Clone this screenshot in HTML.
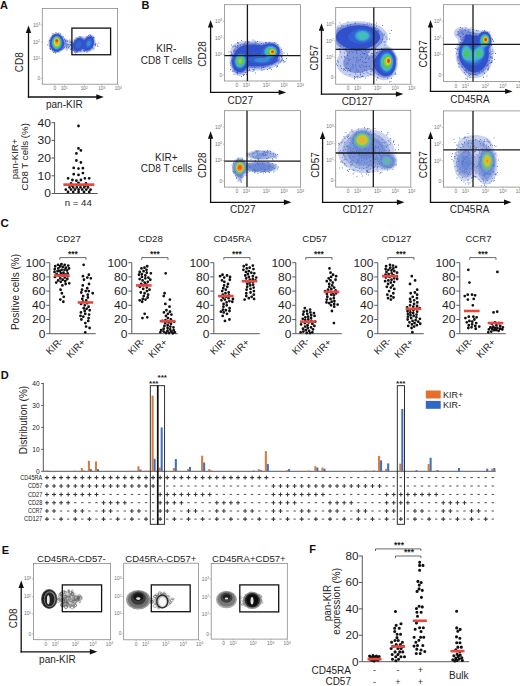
<!DOCTYPE html>
<html><head><meta charset="utf-8"><style>html,body{margin:0;padding:0;background:#fff;width:520px;height:686px;overflow:hidden;font-family:"Liberation Sans",sans-serif;}svg{display:block;}</style></head>
<body>
<svg width="520" height="686" viewBox="0 0 520 686" font-family="Liberation Sans, sans-serif">
<defs><filter id="bl30" x="-20%" y="-20%" width="140%" height="140%"><feGaussianBlur stdDeviation="0.3"/></filter><filter id="bl45" x="-20%" y="-20%" width="140%" height="140%"><feGaussianBlur stdDeviation="0.45"/></filter><filter id="bl60" x="-20%" y="-20%" width="140%" height="140%"><feGaussianBlur stdDeviation="0.6"/></filter><filter id="bl80" x="-20%" y="-20%" width="140%" height="140%"><feGaussianBlur stdDeviation="0.8"/></filter></defs>
<rect width="520" height="686" fill="#fff"/>
<text x="0.00" y="8.90" font-size="11" text-anchor="start" fill="#111" font-weight="bold">A</text>
<text x="141.50" y="8.90" font-size="11" text-anchor="start" fill="#111" font-weight="bold">B</text>
<text x="0.60" y="226.80" font-size="11.6" text-anchor="start" fill="#111" font-weight="bold">C</text>
<text x="0.80" y="378.90" font-size="11" text-anchor="start" fill="#111" font-weight="bold">D</text>
<text x="1.80" y="553.50" font-size="11" text-anchor="start" fill="#111" font-weight="bold">E</text>
<text x="309.30" y="553.00" font-size="11" text-anchor="start" fill="#111" font-weight="bold">F</text>
<rect x="42.30" y="8.50" width="75.30" height="75.70" fill="none" stroke="#8a8a8a" stroke-width="0.8"/>
<line x1="40.80" y1="25.00" x2="42.30" y2="25.00" stroke="#999" stroke-width="0.6"/>
<text x="40.10" y="26.60" font-size="4.8" text-anchor="end" fill="#707070">10<tspan font-size="3.36" dy="-1.6">3</tspan></text>
<line x1="40.80" y1="42.00" x2="42.30" y2="42.00" stroke="#999" stroke-width="0.6"/>
<text x="40.10" y="43.60" font-size="4.8" text-anchor="end" fill="#707070">10<tspan font-size="3.36" dy="-1.6">2</tspan></text>
<line x1="40.80" y1="58.50" x2="42.30" y2="58.50" stroke="#999" stroke-width="0.6"/>
<text x="40.10" y="60.10" font-size="4.8" text-anchor="end" fill="#707070">10<tspan font-size="3.36" dy="-1.6">1</tspan></text>
<line x1="40.80" y1="78.70" x2="42.30" y2="78.70" stroke="#999" stroke-width="0.6"/>
<text x="40.10" y="80.30" font-size="4.8" text-anchor="end" fill="#707070">0</text>
<line x1="54.80" y1="84.20" x2="54.80" y2="85.70" stroke="#999" stroke-width="0.6"/>
<text x="54.80" y="90.40" font-size="4.8" text-anchor="middle" fill="#707070">0</text>
<line x1="64.30" y1="84.20" x2="64.30" y2="85.70" stroke="#999" stroke-width="0.6"/>
<text x="64.30" y="90.40" font-size="4.8" text-anchor="middle" fill="#707070">10<tspan font-size="3.36" dy="-1.6">1</tspan></text>
<line x1="84.30" y1="84.20" x2="84.30" y2="85.70" stroke="#999" stroke-width="0.6"/>
<text x="84.30" y="90.40" font-size="4.8" text-anchor="middle" fill="#707070">10<tspan font-size="3.36" dy="-1.6">2</tspan></text>
<line x1="101.80" y1="84.20" x2="101.80" y2="85.70" stroke="#999" stroke-width="0.6"/>
<text x="101.80" y="90.40" font-size="4.8" text-anchor="middle" fill="#707070">10<tspan font-size="3.36" dy="-1.6">3</tspan></text>
<line x1="118.30" y1="84.20" x2="118.30" y2="85.70" stroke="#999" stroke-width="0.6"/>
<text x="118.30" y="90.40" font-size="4.8" text-anchor="middle" fill="#707070">10<tspan font-size="3.36" dy="-1.6">4</tspan></text>
<line x1="47.73" y1="84.20" x2="47.73" y2="85.00" stroke="#bbb" stroke-width="0.4"/>
<line x1="53.16" y1="84.20" x2="53.16" y2="85.00" stroke="#bbb" stroke-width="0.4"/>
<line x1="58.59" y1="84.20" x2="58.59" y2="85.00" stroke="#bbb" stroke-width="0.4"/>
<line x1="64.01" y1="84.20" x2="64.01" y2="85.00" stroke="#bbb" stroke-width="0.4"/>
<line x1="69.44" y1="84.20" x2="69.44" y2="85.00" stroke="#bbb" stroke-width="0.4"/>
<line x1="74.87" y1="84.20" x2="74.87" y2="85.00" stroke="#bbb" stroke-width="0.4"/>
<line x1="80.30" y1="84.20" x2="80.30" y2="85.00" stroke="#bbb" stroke-width="0.4"/>
<line x1="85.73" y1="84.20" x2="85.73" y2="85.00" stroke="#bbb" stroke-width="0.4"/>
<line x1="91.16" y1="84.20" x2="91.16" y2="85.00" stroke="#bbb" stroke-width="0.4"/>
<line x1="96.59" y1="84.20" x2="96.59" y2="85.00" stroke="#bbb" stroke-width="0.4"/>
<line x1="102.01" y1="84.20" x2="102.01" y2="85.00" stroke="#bbb" stroke-width="0.4"/>
<line x1="107.44" y1="84.20" x2="107.44" y2="85.00" stroke="#bbb" stroke-width="0.4"/>
<line x1="112.87" y1="84.20" x2="112.87" y2="85.00" stroke="#bbb" stroke-width="0.4"/>
<g filter="url(#bl45)"><path d="M78.5 53.1L76.0 53.5L74.0 52.7L72.9 51.5L71.8 50.0L70.0 49.3L68.0 49.5L66.0 49.4L64.0 49.6L62.5 50.6L61.0 51.7L59.5 52.5L57.5 53.0L55.5 52.9L53.5 52.2L52.0 51.2L50.8 50.0L49.7 48.5L49.0 47.0L48.3 45.0L48.1 42.5L48.5 40.3L49.1 38.5L50.0 36.9L51.1 35.5L52.5 34.2L54.0 33.3L56.0 32.7L58.5 32.9L60.1 33.5L61.6 34.5L63.0 35.9L64.0 37.2L65.0 38.7L66.5 39.7L68.5 40.2L70.5 40.6L72.5 40.5L74.0 39.2L75.4 38.0L76.8 37.0L78.5 36.2L80.5 35.9L82.5 36.2L84.5 36.5L86.5 36.1L88.0 35.4L90.0 34.7L92.4 35.0L93.6 36.0L94.5 37.5L95.2 39.5L95.7 41.5L96.1 43.5L96.0 45.6L95.2 47.5L94.0 49.0L92.8 50.0L91.3 51.0L89.5 51.9L87.6 52.5L85.5 52.6L83.5 52.4L81.0 52.4L79.0 53.0Z" fill="#c5cfee" fill-rule="evenodd"/><path d="M58.0 52.1L57.0 52.2L56.0 52.1L55.4 52.0L54.5 51.7L54.0 51.5L53.2 51.0L52.6 50.5L52.0 50.0L51.6 49.5L51.2 49.0L50.8 48.5L50.5 47.9L50.1 47.0L49.9 46.5L49.6 45.5L49.5 45.0L49.3 44.0L49.2 43.0L49.3 42.0L49.4 41.0L49.5 40.5L49.8 39.5L50.0 39.0L50.4 38.0L50.7 37.5L51.0 37.0L51.5 36.3L52.0 35.7L52.5 35.2L53.0 34.8L53.5 34.5L54.5 34.0L55.0 33.8L56.0 33.6L57.0 33.5L58.0 33.6L59.0 33.9L59.5 34.1L60.2 34.5L60.9 35.0L61.4 35.5L61.9 36.0L62.3 36.5L62.7 37.0L63.0 37.5L63.5 38.4L63.8 39.0L64.0 39.5L64.5 40.5L64.8 41.0L65.2 41.5L65.7 42.0L66.4 42.5L67.0 42.9L67.5 43.3L68.0 44.0L68.2 44.5L68.0 45.0L67.5 45.7L67.0 46.1L66.4 46.5L65.5 46.8L65.0 47.0L64.2 47.5L63.6 48.0L63.1 48.5L62.6 49.0L62.2 49.5L61.7 50.0L61.1 50.5L60.5 51.0L60.0 51.3L59.5 51.6L58.5 51.9L58.0 52.1ZM78.5 52.1L77.5 52.4L76.5 52.4L75.5 52.2L75.0 52.0L74.3 51.5L73.8 51.0L73.4 50.5L73.0 49.8L72.6 49.0L72.3 48.5L72.0 47.7L71.6 47.0L71.3 46.5L70.8 46.0L70.1 45.5L69.5 45.1L69.4 44.5L70.0 44.3L71.0 44.0L71.5 43.8L72.0 43.4L72.5 42.8L73.0 42.2L73.5 41.6L73.9 41.0L74.3 40.5L74.7 40.0L75.2 39.5L75.7 39.0L76.3 38.5L77.0 38.0L77.5 37.7L78.0 37.5L79.0 37.2L80.0 37.1L81.0 37.1L82.0 37.4L82.5 37.6L83.5 38.0L84.0 38.1L85.0 38.0L85.5 37.8L86.0 37.5L86.8 37.0L87.5 36.6L88.0 36.3L88.7 36.0L89.5 35.7L90.5 35.6L91.5 35.7L92.1 36.0L92.8 36.5L93.2 37.0L93.6 37.5L94.0 38.5L94.2 39.0L94.4 40.0L94.5 40.6L94.6 41.5L94.6 42.5L94.5 43.5L94.5 44.0L94.3 45.0L94.0 45.7L93.7 46.5L93.4 47.0L93.0 47.6L92.5 48.3L92.0 48.9L91.5 49.3L91.0 49.8L90.5 50.1L89.9 50.5L89.0 51.0L88.5 51.2L87.5 51.4L86.5 51.4L85.5 51.3L84.5 51.1L84.0 50.9L83.0 50.7L82.0 50.7L81.1 51.0L80.5 51.3L79.9 51.5L79.0 51.9L78.5 52.1Z" fill="#7f93db" fill-rule="evenodd"/><path d="M59.0 51.0L58.0 51.4L57.0 51.5L56.0 51.4L55.0 51.2L54.5 51.0L53.7 50.5L53.0 50.0L52.5 49.5L52.0 49.0L51.6 48.5L51.3 48.0L51.0 47.4L50.6 46.5L50.4 46.0L50.2 45.0L50.0 44.0L50.0 43.5L50.0 42.5L50.0 41.9L50.1 41.0L50.3 40.0L50.5 39.5L50.9 38.5L51.1 38.0L51.5 37.4L52.0 36.7L52.5 36.1L53.0 35.7L53.5 35.3L54.0 34.9L55.0 34.5L55.5 34.3L56.5 34.2L57.5 34.2L58.5 34.4L59.0 34.6L59.7 35.0L60.4 35.5L61.0 36.0L61.5 36.5L61.9 37.0L62.2 37.5L62.5 38.0L63.0 39.0L63.2 39.5L63.5 40.4L63.7 41.0L63.9 42.0L64.0 42.5L64.1 43.5L64.0 44.5L63.9 45.0L63.6 46.0L63.4 46.5L63.0 47.1L62.5 47.9L62.1 48.5L61.7 49.0L61.2 49.5L60.7 50.0L60.0 50.5L59.5 50.8L59.0 51.0ZM78.5 51.1L77.5 51.4L76.5 51.4L75.5 51.1L75.0 50.8L74.5 50.4L74.0 49.7L73.6 49.0L73.4 48.5L73.1 47.5L73.0 46.6L73.0 46.0L73.0 45.5L73.2 44.5L73.5 43.6L73.8 43.0L74.0 42.5L74.5 41.7L75.0 41.0L75.4 40.5L75.8 40.0L76.4 39.5L77.0 39.0L77.5 38.7L78.0 38.5L79.0 38.1L80.0 38.1L81.0 38.2L81.7 38.5L82.5 39.0L83.0 39.3L83.5 39.7L84.5 39.7L85.0 39.4L85.5 39.0L86.1 38.5L86.7 38.0L87.4 37.5L88.0 37.1L88.5 36.9L89.5 36.5L90.0 36.4L91.0 36.5L91.5 36.7L92.1 37.0L92.6 37.5L93.0 38.1L93.4 39.0L93.6 39.5L93.8 40.5L93.9 41.5L93.8 42.5L93.7 43.5L93.5 44.4L93.3 45.0L93.0 45.8L92.6 46.5L92.3 47.0L92.0 47.5L91.5 48.1L91.0 48.6L90.5 49.1L89.9 49.5L89.0 50.0L88.5 50.2L87.5 50.4L86.5 50.4L85.5 50.2L85.0 49.9L84.3 49.5L83.6 49.0L83.0 48.8L82.2 49.0L81.5 49.4L81.0 49.8L80.5 50.1L79.9 50.5L79.0 50.9L78.5 51.1Z" fill="#3050cc" fill-rule="evenodd"/><path d="M57.5 50.1L56.5 50.1L55.7 50.0L55.0 49.8L54.5 49.5L53.8 49.0L53.2 48.5L52.8 48.0L52.4 47.5L52.0 46.7L51.7 46.0L51.5 45.5L51.3 44.5L51.1 43.5L51.1 42.5L51.2 41.5L51.4 40.5L51.6 40.0L51.9 39.0L52.2 38.5L52.5 38.0L53.0 37.3L53.5 36.8L54.0 36.4L54.5 36.0L55.5 35.5L56.0 35.4L57.0 35.3L58.0 35.5L58.5 35.7L59.1 36.0L59.8 36.5L60.3 37.0L60.8 37.5L61.1 38.0L61.5 38.7L61.9 39.5L62.1 40.0L62.4 41.0L62.5 41.9L62.6 42.5L62.6 43.5L62.5 44.1L62.3 45.0L62.0 46.0L61.8 46.5L61.5 47.0L61.0 47.8L60.5 48.4L60.0 48.9L59.5 49.3L59.0 49.6L58.0 50.0L57.5 50.1ZM88.5 48.1L87.5 48.2L86.7 48.0L86.0 47.5L85.6 47.0L85.4 46.5L85.2 45.5L85.1 44.5L85.2 43.5L85.5 42.5L85.7 42.0L86.0 41.4L86.5 40.6L87.0 40.0L87.5 39.5L88.0 39.1L88.5 38.9L89.5 38.5L90.5 38.6L91.1 39.0L91.6 39.5L92.0 40.3L92.2 41.0L92.3 42.0L92.2 43.0L92.0 43.9L91.8 44.5L91.5 45.2L91.0 46.0L90.7 46.5L90.2 47.0L89.6 47.5L89.0 47.9L88.5 48.1ZM78.5 48.5L77.5 48.7L76.8 48.5L76.1 48.0L75.7 47.5L75.5 47.0L75.3 46.0L75.4 45.0L75.5 44.4L75.8 43.5L76.1 43.0L76.5 42.4L77.0 41.8L77.5 41.4L78.2 41.0L79.0 40.8L80.0 40.9L80.5 41.2L81.0 41.8L81.3 42.5L81.5 43.5L81.4 44.5L81.2 45.5L81.0 46.0L80.5 46.9L80.0 47.5L79.5 48.0L79.0 48.3L78.5 48.5Z" fill="#3064d4" fill-rule="evenodd"/><path d="M58.5 49.0L57.5 49.3L56.5 49.4L55.5 49.2L55.0 49.0L54.3 48.5L53.7 48.0L53.2 47.5L52.9 47.0L52.5 46.3L52.2 45.5L52.0 44.9L51.8 44.0L51.7 43.0L51.8 42.0L51.9 41.0L52.0 40.5L52.4 39.5L52.6 39.0L53.0 38.4L53.5 37.7L54.0 37.2L54.5 36.7L55.0 36.4L56.0 36.0L56.5 35.9L57.5 36.0L58.0 36.1L58.8 36.5L59.4 37.0L59.9 37.5L60.3 38.0L60.7 38.5L61.0 39.1L61.4 40.0L61.6 40.5L61.8 41.5L61.9 42.5L61.9 43.5L61.8 44.5L61.5 45.4L61.3 46.0L61.0 46.6L60.5 47.3L60.0 47.9L59.5 48.4L59.0 48.8L58.5 49.0ZM88.5 46.1L87.6 46.0L87.1 45.5L86.8 45.0L86.7 44.0L86.9 43.0L87.1 42.5L87.5 41.8L88.0 41.2L88.5 40.9L89.5 40.8L90.0 41.0L90.5 41.7L90.7 42.5L90.6 43.5L90.5 44.0L90.0 44.9L89.5 45.5L89.0 45.9L88.5 46.1Z" fill="#3a8ad8" fill-rule="evenodd"/><path d="M58.0 48.7L57.0 48.9L56.0 48.8L55.2 48.5L54.5 48.1L54.0 47.6L53.5 47.1L53.1 46.5L52.8 46.0L52.5 45.1L52.3 44.5L52.2 43.5L52.1 42.5L52.2 41.5L52.5 40.5L52.7 40.0L53.0 39.3L53.4 38.5L53.8 38.0L54.2 37.5L54.8 37.0L55.5 36.6L56.0 36.4L57.0 36.3L57.9 36.5L58.5 36.8L59.0 37.1L59.5 37.6L60.0 38.2L60.5 39.0L60.7 39.5L61.0 40.1L61.3 41.0L61.4 42.0L61.5 43.0L61.4 44.0L61.2 45.0L61.0 45.5L60.5 46.5L60.2 47.0L59.8 47.5L59.2 48.0L58.5 48.4L58.0 48.7Z" fill="#3fb0dc" fill-rule="evenodd"/><path d="M58.0 48.1L57.0 48.4L56.0 48.3L55.3 48.0L54.5 47.5L54.0 47.0L53.6 46.5L53.3 46.0L53.0 45.3L52.7 44.5L52.6 43.5L52.5 42.5L52.7 41.5L52.9 40.5L53.1 40.0L53.5 39.1L53.8 38.5L54.2 38.0L54.7 37.5L55.4 37.0L56.0 36.7L57.0 36.6L58.0 36.9L58.5 37.2L59.0 37.6L59.5 38.1L60.0 38.9L60.3 39.5L60.5 40.0L60.9 41.0L61.0 41.7L61.1 42.5L61.1 43.5L61.0 44.0L60.7 45.0L60.5 45.6L60.0 46.5L59.6 47.0L59.1 47.5L58.5 47.9L58.0 48.1Z" fill="#45c0b0" fill-rule="evenodd"/><path d="M58.0 47.6L57.0 47.8L56.0 47.7L55.4 47.5L54.7 47.0L54.2 46.5L53.8 46.0L53.5 45.4L53.2 44.5L53.0 43.7L52.9 43.0L53.0 42.0L53.1 41.5L53.3 40.5L53.5 40.0L53.9 39.0L54.2 38.5L54.6 38.0L55.2 37.5L56.0 37.1L56.5 37.0L57.1 37.0L58.0 37.3L58.5 37.6L59.0 38.0L59.5 38.7L59.9 39.5L60.1 40.0L60.4 41.0L60.6 41.5L60.7 42.5L60.7 43.5L60.5 44.4L60.3 45.0L60.0 45.7L59.5 46.4L59.0 47.0L58.5 47.3L58.0 47.6Z" fill="#4cc46a" fill-rule="evenodd"/><path d="M57.0 47.0L56.4 47.0L55.5 46.7L55.0 46.3L54.5 45.8L54.0 45.0L53.8 44.5L53.6 43.5L53.6 42.5L53.7 41.5L53.9 40.5L54.1 40.0L54.5 39.0L54.9 38.5L55.4 38.0L56.0 37.7L57.0 37.5L58.0 37.8L58.5 38.2L59.0 38.8L59.3 39.5L59.5 40.0L59.8 41.0L60.0 42.0L60.0 42.5L60.0 43.5L59.9 44.0L59.6 45.0L59.3 45.5L58.9 46.0L58.4 46.5L57.5 46.9L57.0 47.0Z" fill="#98cc30" fill-rule="evenodd"/><path d="M57.5 46.1L56.5 46.1L56.0 46.0L55.3 45.5L54.9 45.0L54.5 44.3L54.3 43.5L54.2 42.5L54.3 41.5L54.4 40.5L54.6 40.0L55.0 39.0L55.5 38.5L56.0 38.2L57.0 38.0L58.0 38.4L58.5 38.9L58.9 39.5L59.0 40.0L59.3 41.0L59.4 42.0L59.4 43.0L59.2 44.0L59.0 44.6L58.5 45.3L58.0 45.8L57.5 46.1Z" fill="#e4d828" fill-rule="evenodd"/><path d="M57.0 44.6L56.3 44.5L55.8 44.0L55.5 43.5L55.2 42.5L55.0 41.5L55.0 41.0L55.0 40.5L55.3 39.5L55.8 39.0L56.5 38.7L57.5 38.8L58.0 39.2L58.5 40.0L58.6 40.5L58.6 41.5L58.5 42.1L58.3 43.0L58.0 43.8L57.5 44.4L57.0 44.6Z" fill="#f29a20" fill-rule="evenodd"/><path d="M57.0 42.0L56.5 42.0L56.5 42.0L56.0 41.8L55.8 41.5L55.6 41.0L55.5 40.5L55.6 40.0L56.0 39.5L56.0 39.5L56.5 39.3L57.0 39.3L57.5 39.4L57.6 39.5L58.0 40.0L58.0 40.1L58.1 40.5L58.0 41.0L58.0 41.2L57.8 41.5L57.5 41.8L57.1 42.0L57.0 42.0Z" fill="#e63c18" fill-rule="evenodd"/></g>
<path d="M89.5 37.5h.9v.9h-.9zM66.5 47.5h.9v.9h-.9zM69.5 39.5h.9v.9h-.9zM80.5 51.0h.9v.9h-.9zM92.0 46.5h.9v.9h-.9zM83.0 50.0h.9v.9h-.9zM52.0 50.5h.9v.9h-.9zM84.5 49.0h.9v.9h-.9zM75.0 52.5h.9v.9h-.9zM72.0 48.0h.9v.9h-.9zM93.5 37.5h.9v.9h-.9zM67.5 46.0h.9v.9h-.9zM80.0 50.0h.9v.9h-.9zM73.5 50.0h.9v.9h-.9zM80.5 49.0h.9v.9h-.9zM85.5 50.0h.9v.9h-.9zM86.5 51.5h.9v.9h-.9zM66.0 39.5h.9v.9h-.9zM49.5 46.5h.9v.9h-.9zM59.0 35.5h.9v.9h-.9zM75.0 47.5h.9v.9h-.9zM50.0 40.0h.9v.9h-.9zM57.5 33.0h.9v.9h-.9zM74.5 41.0h.9v.9h-.9zM69.5 41.5h.9v.9h-.9zM64.5 38.5h.9v.9h-.9zM53.0 52.0h.9v.9h-.9zM80.0 37.5h.9v.9h-.9zM65.0 40.0h.9v.9h-.9zM98.5 42.5h.9v.9h-.9zM90.5 47.5h.9v.9h-.9zM84.5 40.5h.9v.9h-.9zM63.0 43.5h.9v.9h-.9zM75.0 52.5h.9v.9h-.9zM88.0 35.0h.9v.9h-.9zM92.0 47.5h.9v.9h-.9zM73.5 47.0h.9v.9h-.9zM87.5 49.0h.9v.9h-.9zM63.5 40.0h.9v.9h-.9zM57.5 51.0h.9v.9h-.9zM92.0 39.5h.9v.9h-.9zM84.0 51.0h.9v.9h-.9zM75.5 50.0h.9v.9h-.9zM76.5 51.5h.9v.9h-.9zM67.0 40.5h.9v.9h-.9zM62.0 49.0h.9v.9h-.9zM54.0 51.5h.9v.9h-.9zM63.0 48.0h.9v.9h-.9zM66.0 45.5h.9v.9h-.9zM72.5 43.0h.9v.9h-.9zM50.5 47.5h.9v.9h-.9zM50.5 48.5h.9v.9h-.9zM55.0 34.5h.9v.9h-.9zM67.0 41.0h.9v.9h-.9zM51.0 46.0h.9v.9h-.9zM70.5 42.0h.9v.9h-.9zM95.5 43.0h.9v.9h-.9zM58.5 32.5h.9v.9h-.9zM52.0 49.0h.9v.9h-.9zM55.0 52.5h.9v.9h-.9zM55.5 51.5h.9v.9h-.9zM82.5 45.5h.9v.9h-.9zM73.0 45.5h.9v.9h-.9zM86.0 38.0h.9v.9h-.9zM49.5 48.0h.9v.9h-.9zM83.0 43.0h.9v.9h-.9zM61.0 49.0h.9v.9h-.9zM64.0 47.0h.9v.9h-.9zM74.5 42.5h.9v.9h-.9zM54.0 51.5h.9v.9h-.9zM71.5 42.0h.9v.9h-.9zM86.0 36.5h.9v.9h-.9zM49.5 48.0h.9v.9h-.9zM80.0 49.0h.9v.9h-.9zM89.5 34.0h.9v.9h-.9zM49.5 45.0h.9v.9h-.9zM73.5 43.0h.9v.9h-.9zM65.0 41.0h.9v.9h-.9zM76.5 50.5h.9v.9h-.9zM77.0 40.0h.9v.9h-.9zM97.5 46.0h.9v.9h-.9zM93.5 48.5h.9v.9h-.9zM84.0 51.0h.9v.9h-.9zM95.0 44.0h.9v.9h-.9zM72.5 50.0h.9v.9h-.9zM75.5 37.5h.9v.9h-.9zM61.5 36.5h.9v.9h-.9zM60.0 33.5h.9v.9h-.9zM83.5 50.5h.9v.9h-.9zM87.5 49.0h.9v.9h-.9zM71.0 48.0h.9v.9h-.9zM51.0 45.5h.9v.9h-.9zM50.5 41.0h.9v.9h-.9zM90.0 35.0h.9v.9h-.9zM61.5 49.0h.9v.9h-.9zM49.5 46.0h.9v.9h-.9zM50.5 46.0h.9v.9h-.9zM80.5 38.0h.9v.9h-.9zM70.0 41.5h.9v.9h-.9zM53.5 50.5h.9v.9h-.9zM77.5 39.5h.9v.9h-.9zM92.5 37.0h.9v.9h-.9zM66.0 47.0h.9v.9h-.9zM84.5 45.5h.9v.9h-.9zM74.0 40.0h.9v.9h-.9zM63.5 47.0h.9v.9h-.9zM75.5 37.5h.9v.9h-.9zM95.0 45.0h.9v.9h-.9zM76.0 50.5h.9v.9h-.9zM54.0 34.0h.9v.9h-.9zM67.5 44.0h.9v.9h-.9zM74.0 39.5h.9v.9h-.9zM82.0 46.5h.9v.9h-.9zM83.5 41.0h.9v.9h-.9zM69.0 46.0h.9v.9h-.9zM94.0 44.0h.9v.9h-.9zM47.0 44.5h.9v.9h-.9zM53.5 34.5h.9v.9h-.9zM72.0 46.5h.9v.9h-.9zM70.0 49.0h.9v.9h-.9zM68.0 47.0h.9v.9h-.9zM73.5 47.5h.9v.9h-.9zM93.5 36.5h.9v.9h-.9zM55.5 32.0h.9v.9h-.9zM87.0 36.5h.9v.9h-.9zM97.0 44.5h.9v.9h-.9zM63.0 46.5h.9v.9h-.9zM84.5 50.0h.9v.9h-.9zM73.5 45.0h.9v.9h-.9zM54.0 36.0h.9v.9h-.9zM64.5 43.0h.9v.9h-.9zM64.0 39.0h.9v.9h-.9zM72.0 44.5h.9v.9h-.9zM53.0 35.0h.9v.9h-.9zM50.0 49.0h.9v.9h-.9zM77.0 38.0h.9v.9h-.9zM63.0 36.5h.9v.9h-.9zM91.0 36.0h.9v.9h-.9zM89.0 36.5h.9v.9h-.9zM78.5 37.5h.9v.9h-.9zM89.5 49.5h.9v.9h-.9zM74.0 51.5h.9v.9h-.9zM66.5 49.5h.9v.9h-.9zM68.0 44.0h.9v.9h-.9zM79.5 36.0h.9v.9h-.9zM49.0 40.0h.9v.9h-.9zM89.0 49.0h.9v.9h-.9zM84.5 48.5h.9v.9h-.9zM80.5 37.5h.9v.9h-.9zM82.5 40.5h.9v.9h-.9zM68.5 44.5h.9v.9h-.9zM56.0 35.0h.9v.9h-.9zM52.0 35.0h.9v.9h-.9zM52.5 33.0h.9v.9h-.9zM53.5 50.0h.9v.9h-.9zM49.5 40.0h.9v.9h-.9zM72.5 48.5h.9v.9h-.9zM65.5 41.0h.9v.9h-.9zM70.5 45.0h.9v.9h-.9zM70.0 44.0h.9v.9h-.9z" fill="#3a58c8" opacity="0.85"/>
<rect x="71.90" y="28.10" width="38.70" height="26.65" fill="none" stroke="#111" stroke-width="1.3"/>
<line x1="28.50" y1="97.60" x2="28.50" y2="31.40" stroke="#111" stroke-width="1.3"/>
<path d="M28.50 25.40 L25.80 32.90 L31.20 32.90 Z" fill="#111"/>
<line x1="27.85" y1="97.00" x2="97.80" y2="97.00" stroke="#111" stroke-width="1.3"/>
<path d="M103.80 97.00 L96.30 94.30 L96.30 99.70 Z" fill="#111"/>
<text x="23.50" y="62.20" font-size="10" text-anchor="middle" fill="#1e1e1e" transform="rotate(-90 23.5 62.2)">CD8</text>
<text x="46.00" y="108.30" font-size="10" text-anchor="start" fill="#1e1e1e">pan-KIR</text>
<line x1="54.60" y1="122.20" x2="54.60" y2="193.50" stroke="#555" stroke-width="1"/>
<line x1="54.60" y1="193.50" x2="97.60" y2="193.50" stroke="#555" stroke-width="1"/>
<line x1="51.60" y1="193.50" x2="54.60" y2="193.50" stroke="#555" stroke-width="1"/>
<text x="50.90" y="197.40" font-size="10.8" text-anchor="end" fill="#1e1e1e" textLength="6.7" lengthAdjust="spacingAndGlyphs">0</text>
<line x1="51.60" y1="175.80" x2="54.60" y2="175.80" stroke="#555" stroke-width="1"/>
<text x="50.90" y="179.70" font-size="10.8" text-anchor="end" fill="#1e1e1e" textLength="13.4" lengthAdjust="spacingAndGlyphs">10</text>
<line x1="51.60" y1="158.10" x2="54.60" y2="158.10" stroke="#555" stroke-width="1"/>
<text x="50.90" y="162.00" font-size="10.8" text-anchor="end" fill="#1e1e1e" textLength="13.4" lengthAdjust="spacingAndGlyphs">20</text>
<line x1="51.60" y1="140.40" x2="54.60" y2="140.40" stroke="#555" stroke-width="1"/>
<text x="50.90" y="144.30" font-size="10.8" text-anchor="end" fill="#1e1e1e" textLength="13.4" lengthAdjust="spacingAndGlyphs">30</text>
<line x1="51.60" y1="122.70" x2="54.60" y2="122.70" stroke="#555" stroke-width="1"/>
<text x="50.90" y="126.60" font-size="10.8" text-anchor="end" fill="#1e1e1e" textLength="13.4" lengthAdjust="spacingAndGlyphs">40</text>
<path d="M77.10 126.00a1.4 1.4 0 1 0 2.8 0a1.4 1.4 0 1 0 -2.8 0M77.10 148.40a1.4 1.4 0 1 0 2.8 0a1.4 1.4 0 1 0 -2.8 0M79.50 150.40a1.4 1.4 0 1 0 2.8 0a1.4 1.4 0 1 0 -2.8 0M75.00 153.40a1.4 1.4 0 1 0 2.8 0a1.4 1.4 0 1 0 -2.8 0M75.00 160.50a1.4 1.4 0 1 0 2.8 0a1.4 1.4 0 1 0 -2.8 0M79.50 162.50a1.4 1.4 0 1 0 2.8 0a1.4 1.4 0 1 0 -2.8 0M72.30 167.90a1.4 1.4 0 1 0 2.8 0a1.4 1.4 0 1 0 -2.8 0M77.10 168.60a1.4 1.4 0 1 0 2.8 0a1.4 1.4 0 1 0 -2.8 0M81.50 168.20a1.4 1.4 0 1 0 2.8 0a1.4 1.4 0 1 0 -2.8 0M72.30 174.20a1.4 1.4 0 1 0 2.8 0a1.4 1.4 0 1 0 -2.8 0M77.10 174.90a1.4 1.4 0 1 0 2.8 0a1.4 1.4 0 1 0 -2.8 0M81.50 173.10a1.4 1.4 0 1 0 2.8 0a1.4 1.4 0 1 0 -2.8 0M66.70 178.30a1.4 1.4 0 1 0 2.8 0a1.4 1.4 0 1 0 -2.8 0M71.00 180.00a1.4 1.4 0 1 0 2.8 0a1.4 1.4 0 1 0 -2.8 0M75.00 180.70a1.4 1.4 0 1 0 2.8 0a1.4 1.4 0 1 0 -2.8 0M79.50 180.00a1.4 1.4 0 1 0 2.8 0a1.4 1.4 0 1 0 -2.8 0M83.50 178.30a1.4 1.4 0 1 0 2.8 0a1.4 1.4 0 1 0 -2.8 0M87.80 178.30a1.4 1.4 0 1 0 2.8 0a1.4 1.4 0 1 0 -2.8 0M68.10 187.30a1.4 1.4 0 1 0 2.8 0a1.4 1.4 0 1 0 -2.8 0M71.80 187.30a1.4 1.4 0 1 0 2.8 0a1.4 1.4 0 1 0 -2.8 0M75.40 187.30a1.4 1.4 0 1 0 2.8 0a1.4 1.4 0 1 0 -2.8 0M79.10 187.30a1.4 1.4 0 1 0 2.8 0a1.4 1.4 0 1 0 -2.8 0M82.80 187.30a1.4 1.4 0 1 0 2.8 0a1.4 1.4 0 1 0 -2.8 0M86.60 187.30a1.4 1.4 0 1 0 2.8 0a1.4 1.4 0 1 0 -2.8 0M64.40 189.60a1.4 1.4 0 1 0 2.8 0a1.4 1.4 0 1 0 -2.8 0M69.60 189.60a1.4 1.4 0 1 0 2.8 0a1.4 1.4 0 1 0 -2.8 0M73.60 189.60a1.4 1.4 0 1 0 2.8 0a1.4 1.4 0 1 0 -2.8 0M77.20 189.60a1.4 1.4 0 1 0 2.8 0a1.4 1.4 0 1 0 -2.8 0M80.80 189.60a1.4 1.4 0 1 0 2.8 0a1.4 1.4 0 1 0 -2.8 0M84.90 189.60a1.4 1.4 0 1 0 2.8 0a1.4 1.4 0 1 0 -2.8 0M89.20 189.60a1.4 1.4 0 1 0 2.8 0a1.4 1.4 0 1 0 -2.8 0M66.60 191.90a1.4 1.4 0 1 0 2.8 0a1.4 1.4 0 1 0 -2.8 0M71.80 191.90a1.4 1.4 0 1 0 2.8 0a1.4 1.4 0 1 0 -2.8 0M77.20 191.90a1.4 1.4 0 1 0 2.8 0a1.4 1.4 0 1 0 -2.8 0M82.60 191.90a1.4 1.4 0 1 0 2.8 0a1.4 1.4 0 1 0 -2.8 0M87.80 191.90a1.4 1.4 0 1 0 2.8 0a1.4 1.4 0 1 0 -2.8 0M70.60 185.60a1.4 1.4 0 1 0 2.8 0a1.4 1.4 0 1 0 -2.8 0M84.10 185.60a1.4 1.4 0 1 0 2.8 0a1.4 1.4 0 1 0 -2.8 0M77.10 182.80a1.4 1.4 0 1 0 2.8 0a1.4 1.4 0 1 0 -2.8 0M69.60 183.50a1.4 1.4 0 1 0 2.8 0a1.4 1.4 0 1 0 -2.8 0M84.60 183.50a1.4 1.4 0 1 0 2.8 0a1.4 1.4 0 1 0 -2.8 0" fill="#111"/>
<rect x="63.40" y="183.30" width="30.90" height="2.70" fill="#e8473f"/>
<text x="78.30" y="205.80" font-size="9.6" text-anchor="middle" fill="#1e1e1e">n = 44</text>
<text x="18.30" y="159.00" font-size="9.5" text-anchor="middle" fill="#1e1e1e" transform="rotate(-90 18.3 159)">pan-KIR+</text>
<text x="28.50" y="156.80" font-size="9.7" text-anchor="middle" fill="#1e1e1e" transform="rotate(-90 28.5 156.8)">CD8 T cells (%)</text>
<text x="166.30" y="51.90" font-size="10" text-anchor="middle" fill="#1e1e1e">KIR-</text>
<text x="166.50" y="63.60" font-size="10" text-anchor="middle" fill="#1e1e1e">CD8 T cells</text>
<text x="166.30" y="160.90" font-size="10" text-anchor="middle" fill="#1e1e1e">KIR+</text>
<text x="166.50" y="172.10" font-size="10" text-anchor="middle" fill="#1e1e1e">CD8 T cells</text>
<rect x="224.40" y="4.70" width="76.10" height="76.30" fill="none" stroke="#8a8a8a" stroke-width="0.8"/>
<line x1="222.90" y1="21.20" x2="224.40" y2="21.20" stroke="#999" stroke-width="0.6"/>
<text x="222.20" y="22.80" font-size="4.8" text-anchor="end" fill="#707070">10<tspan font-size="3.36" dy="-1.6">3</tspan></text>
<line x1="222.90" y1="38.20" x2="224.40" y2="38.20" stroke="#999" stroke-width="0.6"/>
<text x="222.20" y="39.80" font-size="4.8" text-anchor="end" fill="#707070">10<tspan font-size="3.36" dy="-1.6">2</tspan></text>
<line x1="222.90" y1="54.70" x2="224.40" y2="54.70" stroke="#999" stroke-width="0.6"/>
<text x="222.20" y="56.30" font-size="4.8" text-anchor="end" fill="#707070">10<tspan font-size="3.36" dy="-1.6">1</tspan></text>
<line x1="222.90" y1="74.90" x2="224.40" y2="74.90" stroke="#999" stroke-width="0.6"/>
<text x="222.20" y="76.50" font-size="4.8" text-anchor="end" fill="#707070">0</text>
<line x1="236.90" y1="81.00" x2="236.90" y2="82.50" stroke="#999" stroke-width="0.6"/>
<text x="236.90" y="87.20" font-size="4.8" text-anchor="middle" fill="#707070">0</text>
<line x1="246.40" y1="81.00" x2="246.40" y2="82.50" stroke="#999" stroke-width="0.6"/>
<text x="246.40" y="87.20" font-size="4.8" text-anchor="middle" fill="#707070">10<tspan font-size="3.36" dy="-1.6">1</tspan></text>
<line x1="266.40" y1="81.00" x2="266.40" y2="82.50" stroke="#999" stroke-width="0.6"/>
<text x="266.40" y="87.20" font-size="4.8" text-anchor="middle" fill="#707070">10<tspan font-size="3.36" dy="-1.6">2</tspan></text>
<line x1="283.90" y1="81.00" x2="283.90" y2="82.50" stroke="#999" stroke-width="0.6"/>
<text x="283.90" y="87.20" font-size="4.8" text-anchor="middle" fill="#707070">10<tspan font-size="3.36" dy="-1.6">3</tspan></text>
<line x1="300.40" y1="81.00" x2="300.40" y2="82.50" stroke="#999" stroke-width="0.6"/>
<text x="300.40" y="87.20" font-size="4.8" text-anchor="middle" fill="#707070">10<tspan font-size="3.36" dy="-1.6">4</tspan></text>
<line x1="229.83" y1="81.00" x2="229.83" y2="81.80" stroke="#bbb" stroke-width="0.4"/>
<line x1="235.26" y1="81.00" x2="235.26" y2="81.80" stroke="#bbb" stroke-width="0.4"/>
<line x1="240.69" y1="81.00" x2="240.69" y2="81.80" stroke="#bbb" stroke-width="0.4"/>
<line x1="246.11" y1="81.00" x2="246.11" y2="81.80" stroke="#bbb" stroke-width="0.4"/>
<line x1="251.54" y1="81.00" x2="251.54" y2="81.80" stroke="#bbb" stroke-width="0.4"/>
<line x1="256.97" y1="81.00" x2="256.97" y2="81.80" stroke="#bbb" stroke-width="0.4"/>
<line x1="262.40" y1="81.00" x2="262.40" y2="81.80" stroke="#bbb" stroke-width="0.4"/>
<line x1="267.83" y1="81.00" x2="267.83" y2="81.80" stroke="#bbb" stroke-width="0.4"/>
<line x1="273.26" y1="81.00" x2="273.26" y2="81.80" stroke="#bbb" stroke-width="0.4"/>
<line x1="278.69" y1="81.00" x2="278.69" y2="81.80" stroke="#bbb" stroke-width="0.4"/>
<line x1="284.11" y1="81.00" x2="284.11" y2="81.80" stroke="#bbb" stroke-width="0.4"/>
<line x1="289.54" y1="81.00" x2="289.54" y2="81.80" stroke="#bbb" stroke-width="0.4"/>
<line x1="294.97" y1="81.00" x2="294.97" y2="81.80" stroke="#bbb" stroke-width="0.4"/>
<g filter="url(#bl45)"><path d="M241.5 75.6L239.0 75.9L237.0 75.4L235.2 74.5L234.0 73.5L232.7 72.0L231.8 70.5L231.0 68.8L230.4 67.0L229.9 65.0L229.6 62.5L229.5 60.0L229.7 57.5L230.1 55.5L230.5 53.0L230.6 51.0L230.9 48.5L231.5 47.0L232.6 45.5L234.0 44.3L235.5 43.4L237.5 42.5L239.0 42.0L241.0 41.5L243.5 41.1L245.5 40.9L248.0 40.7L250.5 40.7L253.0 40.8L255.5 40.9L257.5 41.1L260.0 41.3L262.0 41.5L264.5 41.8L267.0 41.7L269.5 41.6L272.0 41.7L274.0 42.2L276.0 43.0L277.5 43.8L278.9 45.0L280.0 46.2L281.0 47.6L281.9 49.5L282.5 51.2L283.0 53.2L283.3 55.5L283.1 58.0L282.7 60.0L282.0 61.5L280.6 63.0L279.3 64.0L277.9 65.0L276.3 66.0L274.5 67.0L273.0 67.7L271.0 68.4L269.2 69.0L267.3 69.5L265.0 70.0L263.0 70.3L260.5 70.5L258.5 70.6L256.0 70.6L254.0 70.5L251.5 70.3L249.3 70.5L247.5 71.5L246.4 72.5L245.0 73.7L243.5 74.7L241.8 75.5Z" fill="#c5cfee" fill-rule="evenodd"/><path d="M240.0 74.0L238.0 73.8L236.1 73.0L234.8 72.0L233.5 70.5L232.6 69.0L232.0 67.5L231.4 65.5L231.0 63.0L230.9 61.0L231.1 59.0L231.5 57.0L232.1 55.0L232.8 53.0L233.4 51.0L234.0 49.2L235.0 47.5L236.0 46.4L237.5 45.2L239.0 44.4L241.0 43.7L243.0 43.2L245.0 42.8L247.5 42.6L250.0 42.5L252.5 42.6L255.0 42.7L257.5 43.0L259.5 43.3L261.5 43.5L264.0 43.5L266.0 43.2L268.0 42.8L270.5 42.6L273.0 42.9L274.9 43.5L276.5 44.4L277.9 45.5L279.0 46.7L280.0 48.4L280.6 50.0L280.9 52.5L280.6 55.0L280.0 57.0L279.9 59.0L279.4 61.0L278.0 62.5L276.5 63.5L275.0 64.2L273.2 65.0L271.5 65.7L269.5 66.5L267.9 67.0L266.0 67.5L263.5 68.0L261.5 68.3L259.0 68.4L256.5 68.5L254.0 68.3L251.5 68.1L249.0 68.4L247.5 69.3L246.1 70.5L245.0 71.6L243.5 72.7L242.0 73.5L240.0 74.0Z" fill="#7f93db" fill-rule="evenodd"/><path d="M241.5 72.1L239.0 72.3L237.0 71.7L235.5 70.7L234.5 69.5L233.5 67.9L232.7 66.0L232.2 64.0L232.0 61.5L232.3 59.0L232.8 57.0L233.5 55.2L234.4 53.5L235.2 52.0L236.2 50.5L237.4 49.0L238.5 48.0L240.0 47.0L242.0 46.0L243.5 45.5L245.5 44.9L248.0 44.5L250.0 44.4L252.5 44.4L254.5 44.5L257.0 44.8L259.0 45.1L261.5 45.4L263.7 45.0L265.5 44.4L267.5 43.8L269.5 43.4L272.0 43.5L274.0 44.0L275.5 44.7L277.0 45.7L278.2 47.0L279.1 48.5L279.7 50.5L279.7 53.0L279.1 55.0L278.4 56.5L277.6 58.5L277.4 60.5L276.3 62.0L274.6 63.0L273.0 63.7L271.0 64.3L269.0 64.9L267.0 65.3L265.0 65.7L263.0 66.0L260.5 66.3L258.0 66.4L255.5 66.4L253.0 66.1L251.0 65.9L249.0 66.2L247.5 67.2L246.2 68.5L245.0 69.7L243.5 71.0L242.0 71.9Z" fill="#3050cc" fill-rule="evenodd"/><path d="M241.5 69.1L239.0 69.3L237.1 68.5L236.0 67.5L235.0 66.0L234.2 64.0L233.9 62.0L234.0 59.9L234.5 57.9L235.5 56.0L236.5 54.7L238.0 53.5L239.5 52.9L242.0 52.6L244.0 53.1L245.6 54.0L246.8 55.5L247.5 57.1L249.0 58.5L250.9 57.5L252.5 56.6L254.2 56.0L256.5 55.6L259.0 55.5L261.0 55.0L260.9 53.5L261.4 51.5L262.2 50.0L263.3 48.5L264.5 47.3L266.0 46.2L267.6 45.5L269.6 45.0L271.7 45.0L273.7 45.5L275.4 46.5L276.5 47.5L277.5 49.2L277.9 51.5L277.5 53.7L276.5 55.4L275.4 56.5L274.0 57.8L273.3 59.5L272.5 61.0L271.0 62.0L269.0 62.7L267.0 63.2L264.5 63.5L262.5 63.6L260.0 63.6L257.9 63.5L255.5 63.2L253.5 62.7L251.5 62.0L250.0 61.3L248.4 61.0L247.1 62.5L246.4 64.0L245.5 65.6L244.5 67.0L243.0 68.3L241.5 69.1ZM254.5 53.5L254.0 53.7L253.5 53.7L253.0 53.6L252.8 53.5L252.5 53.3L252.1 53.0L252.3 52.5L252.5 52.4L253.0 52.3L253.5 52.3L254.0 52.4L254.3 52.5L254.5 52.8L254.7 53.0L254.5 53.5L254.5 53.5Z" fill="#3064d4" fill-rule="evenodd"/><path d="M265.5 62.0L264.5 62.2L263.5 62.3L262.5 62.4L261.5 62.4L260.5 62.4L259.5 62.3L258.5 62.2L257.5 62.0L257.0 61.9L256.0 61.6L255.5 61.4L254.9 61.0L254.4 60.5L254.5 59.8L255.0 59.3L255.5 59.0L256.5 58.6L257.0 58.5L258.0 58.3L259.0 58.1L260.0 58.0L260.5 58.0L261.5 57.9L262.5 57.9L263.5 57.9L264.5 57.8L265.5 57.7L266.3 57.5L266.6 57.0L266.4 56.5L266.0 56.0L265.5 55.5L265.0 54.9L264.5 54.1L264.2 53.5L264.0 52.9L263.8 52.0L263.9 51.0L264.0 50.5L264.4 49.5L264.7 49.0L265.1 48.5L265.5 48.0L266.1 47.5L266.8 47.0L267.5 46.6L268.0 46.4L269.0 46.1L269.5 46.0L270.5 45.9L271.5 45.9L272.1 46.0L273.0 46.2L273.6 46.5L274.5 47.0L275.0 47.4L275.5 47.9L276.0 48.5L276.4 49.0L276.6 49.5L276.9 50.5L277.0 51.0L277.0 52.0L277.0 52.5L276.7 53.5L276.4 54.0L276.0 54.6L275.5 55.2L275.0 55.6L274.4 56.0L273.5 56.5L273.0 56.8L272.4 57.0L271.5 57.4L271.0 57.6L270.2 58.0L269.8 58.5L269.6 59.5L269.4 60.0L269.0 60.5L268.4 61.0L267.5 61.4L267.0 61.6L266.0 61.9L265.5 62.0ZM240.5 68.0L239.5 68.0L239.0 67.9L238.0 67.6L237.5 67.2L237.0 66.8L236.5 66.3L236.0 65.7L235.6 65.0L235.4 64.5L235.1 63.5L235.0 63.0L234.8 62.0L234.8 61.0L234.9 60.0L235.0 59.5L235.3 58.5L235.5 58.0L236.0 57.1L236.4 56.5L236.8 56.0L237.4 55.5L238.0 55.0L238.5 54.7L239.1 54.5L240.0 54.3L241.0 54.3L241.9 54.5L242.5 54.7L243.0 55.0L243.6 55.5L244.1 56.0L244.5 56.5L245.0 57.3L245.3 58.0L245.5 58.5L245.8 59.5L245.9 60.5L245.8 61.5L245.6 62.5L245.5 63.0L245.1 64.0L244.8 64.5L244.5 65.1L244.0 65.8L243.5 66.4L243.0 66.9L242.5 67.3L242.0 67.5L241.0 67.9L240.5 68.0Z" fill="#3a8ad8" fill-rule="evenodd"/><path d="M273.0 56.0L272.0 56.3L271.0 56.4L270.0 56.4L269.0 56.3L268.2 56.0L267.5 55.7L267.0 55.3L266.5 54.9L266.0 54.4L265.5 53.7L265.2 53.0L265.0 52.4L264.9 51.5L265.0 50.7L265.2 50.0L265.5 49.4L266.0 48.7L266.5 48.2L267.0 47.8L267.5 47.4L268.4 47.0L269.0 46.8L270.0 46.6L271.0 46.6L272.0 46.7L273.0 47.0L273.5 47.2L274.0 47.5L274.7 48.0L275.2 48.5L275.7 49.0L276.0 49.5L276.4 50.5L276.5 51.0L276.6 52.0L276.5 52.5L276.2 53.5L275.9 54.0L275.5 54.5L275.0 55.0L274.2 55.5L273.5 55.9L273.0 56.0ZM241.0 67.1L240.0 67.2L239.0 67.0L238.5 66.9L237.9 66.5L237.2 66.0L236.8 65.5L236.4 65.0L236.0 64.1L235.8 63.5L235.5 62.5L235.5 62.0L235.4 61.0L235.5 60.4L235.7 59.5L236.0 58.5L236.2 58.0L236.5 57.5L237.0 56.9L237.5 56.4L238.0 56.0L238.8 55.5L239.5 55.3L240.5 55.2L241.5 55.4L242.0 55.5L242.8 56.0L243.3 56.5L243.8 57.0L244.1 57.5L244.5 58.3L244.8 59.0L245.0 60.0L245.1 60.5L245.0 61.5L244.9 62.0L244.7 63.0L244.5 63.5L244.0 64.5L243.7 65.0L243.3 65.5L242.8 66.0L242.2 66.5L241.5 66.9L241.0 67.1Z" fill="#3fb0dc" fill-rule="evenodd"/><path d="M273.0 55.5L272.0 55.7L271.0 55.7L270.0 55.6L269.5 55.5L268.5 55.1L268.0 54.9L267.4 54.5L266.9 54.0L266.5 53.5L266.0 52.5L265.9 52.0L265.9 51.0L266.0 50.5L266.5 49.5L266.8 49.0L267.3 48.5L268.0 48.0L268.5 47.8L269.3 47.5L270.0 47.4L271.0 47.3L272.0 47.4L272.5 47.5L273.5 47.9L274.0 48.2L274.5 48.5L275.0 49.0L275.5 49.6L276.0 50.5L276.1 51.0L276.2 52.0L276.0 52.8L275.7 53.5L275.4 54.0L274.9 54.5L274.3 55.0L273.5 55.4L273.0 55.5ZM241.5 66.0L240.5 66.3L239.5 66.3L238.6 66.0L238.0 65.7L237.5 65.2L237.0 64.6L236.7 64.0L236.4 63.5L236.2 62.5L236.1 61.5L236.1 60.5L236.3 59.5L236.5 59.0L237.0 58.0L237.4 57.5L237.8 57.0L238.5 56.5L239.0 56.3L240.0 56.0L241.0 56.1L242.0 56.5L242.5 56.8L243.0 57.3L243.5 58.0L243.8 58.5L244.0 59.0L244.3 60.0L244.4 61.0L244.3 62.0L244.0 63.0L243.8 63.5L243.5 64.1L243.0 64.8L242.5 65.3L242.0 65.7L241.5 66.0Z" fill="#45c0b0" fill-rule="evenodd"/><path d="M273.0 55.1L272.0 55.2L271.0 55.1L270.5 55.0L269.5 54.7L269.0 54.4L268.3 54.0L267.7 53.5L267.3 53.0L267.0 52.3L266.9 51.5L267.0 50.6L267.3 50.0L267.6 49.5L268.2 49.0L269.0 48.5L269.5 48.3L270.5 48.1L271.5 48.1L272.5 48.2L273.5 48.5L274.0 48.7L274.5 49.1L275.0 49.6L275.5 50.4L275.7 51.0L275.8 52.0L275.6 53.0L275.3 53.5L274.9 54.0L274.4 54.5L273.5 55.0L273.0 55.1ZM241.5 65.1L240.5 65.5L239.5 65.4L238.5 65.0L238.0 64.6L237.5 64.0L237.2 63.5L237.0 63.0L236.8 62.0L236.7 61.0L236.9 60.0L237.0 59.5L237.5 58.5L237.9 58.0L238.4 57.5L239.0 57.1L239.5 56.9L240.5 56.8L241.2 57.0L242.0 57.4L242.5 57.9L243.0 58.5L243.2 59.0L243.5 59.7L243.6 60.5L243.6 61.5L243.5 62.3L243.3 63.0L243.0 63.6L242.5 64.3L242.0 64.8L241.5 65.1Z" fill="#4cc46a" fill-rule="evenodd"/><path d="M273.0 54.6L272.0 54.6L271.4 54.5L270.5 54.1L270.0 53.8L269.5 53.2L269.1 52.5L268.9 52.0L269.0 51.2L269.3 50.5L269.7 50.0L270.3 49.5L271.0 49.2L271.6 49.0L272.5 48.9L273.0 49.0L274.0 49.4L274.5 49.9L275.0 50.5L275.2 51.0L275.3 52.0L275.0 53.0L274.7 53.5L274.2 54.0L273.5 54.4L273.0 54.6ZM241.0 63.5L240.0 63.7L239.4 63.5L238.8 63.0L238.4 62.5L238.1 61.5L238.1 60.5L238.5 59.5L238.9 59.0L239.5 58.6L240.0 58.5L240.7 58.5L241.5 58.9L242.0 59.5L242.2 60.0L242.4 61.0L242.2 62.0L242.0 62.5L241.5 63.2L241.0 63.5Z" fill="#98cc30" fill-rule="evenodd"/><path d="M273.0 54.1L272.0 54.2L271.4 54.0L270.7 53.5L270.2 53.0L270.0 52.3L270.0 51.5L270.2 51.0L270.5 50.5L271.0 50.0L272.0 49.5L272.5 49.5L273.0 49.5L274.0 50.0L274.5 50.5L274.7 51.0L274.9 52.0L274.6 53.0L274.2 53.5L273.5 54.0L273.0 54.1Z" fill="#e4d828" fill-rule="evenodd"/><path d="M273.0 53.6L272.5 53.7L272.0 53.6L271.7 53.5L271.5 53.4L271.0 53.0L271.0 53.0L270.8 52.5L270.7 52.0L270.7 51.5L270.9 51.0L271.0 50.9L271.4 50.5L271.5 50.4L272.0 50.2L272.5 50.1L273.0 50.1L273.5 50.3L273.7 50.5L274.0 50.8L274.2 51.0L274.3 51.5L274.4 52.0L274.2 52.5L274.0 52.9L273.9 53.0L273.5 53.4L273.3 53.5L273.0 53.6Z" fill="#f29a20" fill-rule="evenodd"/><path d="M273.0 53.1L272.5 53.2L272.0 53.1L271.8 53.0L271.5 52.8L271.3 52.5L271.2 52.0L271.3 51.5L271.5 51.1L271.6 51.0L272.0 50.7L272.5 50.6L273.0 50.6L273.5 50.9L273.6 51.0L273.8 51.5L273.8 52.0L273.6 52.5L273.5 52.7L273.2 53.0L273.0 53.1Z" fill="#e63c18" fill-rule="evenodd"/></g>
<path d="M272.5 42.5h.9v.9h-.9zM263.5 44.0h.9v.9h-.9zM261.0 68.5h.9v.9h-.9zM258.5 44.5h.9v.9h-.9zM244.0 43.5h.9v.9h-.9zM237.0 73.5h.9v.9h-.9zM252.5 39.5h.9v.9h-.9zM250.5 70.5h.9v.9h-.9zM232.0 54.5h.9v.9h-.9zM253.0 44.5h.9v.9h-.9zM252.5 71.0h.9v.9h-.9zM232.0 63.5h.9v.9h-.9zM243.5 70.5h.9v.9h-.9zM234.5 50.5h.9v.9h-.9zM243.0 74.0h.9v.9h-.9zM254.5 42.5h.9v.9h-.9zM237.0 42.0h.9v.9h-.9zM238.0 42.5h.9v.9h-.9zM281.0 59.5h.9v.9h-.9zM233.0 55.0h.9v.9h-.9zM240.0 45.0h.9v.9h-.9zM234.0 69.5h.9v.9h-.9zM247.5 41.0h.9v.9h-.9zM237.0 45.0h.9v.9h-.9zM231.5 61.5h.9v.9h-.9zM274.5 43.5h.9v.9h-.9zM267.0 69.0h.9v.9h-.9zM281.5 56.0h.9v.9h-.9zM261.5 49.5h.9v.9h-.9zM279.5 60.5h.9v.9h-.9zM254.5 65.0h.9v.9h-.9zM273.5 44.5h.9v.9h-.9zM259.5 65.0h.9v.9h-.9zM274.0 42.0h.9v.9h-.9zM277.0 60.0h.9v.9h-.9zM281.5 53.5h.9v.9h-.9zM237.5 43.0h.9v.9h-.9zM244.0 74.0h.9v.9h-.9zM253.5 69.0h.9v.9h-.9zM267.5 65.5h.9v.9h-.9zM249.0 69.0h.9v.9h-.9zM236.0 50.5h.9v.9h-.9zM263.5 69.0h.9v.9h-.9zM280.0 61.5h.9v.9h-.9zM271.0 64.0h.9v.9h-.9zM261.5 67.0h.9v.9h-.9zM253.5 69.5h.9v.9h-.9zM265.0 42.0h.9v.9h-.9zM277.0 65.5h.9v.9h-.9zM232.0 59.5h.9v.9h-.9zM278.0 47.0h.9v.9h-.9zM253.5 66.0h.9v.9h-.9zM277.5 44.5h.9v.9h-.9zM262.5 67.0h.9v.9h-.9zM236.5 50.0h.9v.9h-.9zM249.0 48.5h.9v.9h-.9zM261.5 47.0h.9v.9h-.9zM241.0 49.5h.9v.9h-.9zM242.5 48.0h.9v.9h-.9zM239.5 49.0h.9v.9h-.9zM281.0 57.0h.9v.9h-.9zM276.0 66.5h.9v.9h-.9zM259.0 64.0h.9v.9h-.9zM232.5 66.5h.9v.9h-.9zM280.5 56.0h.9v.9h-.9zM280.0 55.0h.9v.9h-.9zM248.5 42.0h.9v.9h-.9zM233.5 51.0h.9v.9h-.9zM245.0 46.0h.9v.9h-.9zM230.0 62.5h.9v.9h-.9zM234.5 53.5h.9v.9h-.9zM275.0 59.0h.9v.9h-.9zM277.0 60.5h.9v.9h-.9zM232.0 70.5h.9v.9h-.9zM281.5 60.5h.9v.9h-.9zM246.0 74.0h.9v.9h-.9zM241.0 76.0h.9v.9h-.9zM237.5 46.5h.9v.9h-.9zM243.0 74.5h.9v.9h-.9zM255.5 42.0h.9v.9h-.9zM246.5 52.5h.9v.9h-.9zM283.0 60.5h.9v.9h-.9zM278.0 59.5h.9v.9h-.9zM277.5 44.0h.9v.9h-.9zM255.0 44.5h.9v.9h-.9zM283.5 62.0h.9v.9h-.9zM243.0 75.0h.9v.9h-.9zM263.0 67.0h.9v.9h-.9zM230.0 62.5h.9v.9h-.9zM231.0 44.5h.9v.9h-.9zM232.5 46.5h.9v.9h-.9zM287.0 53.5h.9v.9h-.9zM265.5 44.0h.9v.9h-.9zM235.0 46.0h.9v.9h-.9zM260.5 49.0h.9v.9h-.9zM241.5 50.0h.9v.9h-.9zM259.5 46.0h.9v.9h-.9zM274.5 60.0h.9v.9h-.9zM244.5 72.0h.9v.9h-.9zM237.0 47.0h.9v.9h-.9zM263.0 43.5h.9v.9h-.9zM231.0 52.5h.9v.9h-.9zM248.5 70.0h.9v.9h-.9zM254.5 67.5h.9v.9h-.9zM236.0 72.0h.9v.9h-.9zM228.5 51.5h.9v.9h-.9zM286.0 58.0h.9v.9h-.9zM268.5 42.0h.9v.9h-.9zM271.0 69.0h.9v.9h-.9zM230.0 69.0h.9v.9h-.9zM266.0 42.0h.9v.9h-.9zM247.5 41.5h.9v.9h-.9zM282.0 58.5h.9v.9h-.9zM283.0 60.0h.9v.9h-.9zM263.0 66.5h.9v.9h-.9zM235.0 50.5h.9v.9h-.9zM233.5 71.0h.9v.9h-.9zM249.0 70.0h.9v.9h-.9zM237.0 71.5h.9v.9h-.9zM233.5 71.0h.9v.9h-.9zM233.5 62.0h.9v.9h-.9zM233.5 49.5h.9v.9h-.9zM275.5 64.5h.9v.9h-.9zM251.0 66.0h.9v.9h-.9zM244.5 44.5h.9v.9h-.9zM283.5 52.5h.9v.9h-.9zM279.5 61.5h.9v.9h-.9zM275.5 42.5h.9v.9h-.9zM250.5 67.0h.9v.9h-.9zM252.5 69.0h.9v.9h-.9zM272.0 63.5h.9v.9h-.9zM280.0 61.5h.9v.9h-.9zM265.0 66.0h.9v.9h-.9zM232.5 66.5h.9v.9h-.9zM229.5 54.5h.9v.9h-.9zM254.5 46.0h.9v.9h-.9zM260.0 46.5h.9v.9h-.9zM232.5 56.0h.9v.9h-.9zM266.0 44.5h.9v.9h-.9zM261.5 70.0h.9v.9h-.9zM249.5 46.0h.9v.9h-.9zM265.5 43.0h.9v.9h-.9zM234.5 45.5h.9v.9h-.9zM242.0 47.5h.9v.9h-.9zM245.5 71.5h.9v.9h-.9zM261.0 66.0h.9v.9h-.9zM269.5 42.5h.9v.9h-.9zM230.5 64.5h.9v.9h-.9zM236.0 70.0h.9v.9h-.9zM269.5 67.0h.9v.9h-.9zM254.0 67.0h.9v.9h-.9zM233.5 74.0h.9v.9h-.9zM260.0 45.0h.9v.9h-.9zM245.0 41.5h.9v.9h-.9zM237.0 73.0h.9v.9h-.9zM278.0 62.5h.9v.9h-.9zM261.0 43.0h.9v.9h-.9zM245.0 72.0h.9v.9h-.9zM238.0 50.0h.9v.9h-.9zM238.0 49.0h.9v.9h-.9zM269.5 68.0h.9v.9h-.9zM232.5 60.0h.9v.9h-.9zM249.5 45.5h.9v.9h-.9zM232.0 55.5h.9v.9h-.9zM231.0 60.0h.9v.9h-.9zM253.0 64.5h.9v.9h-.9zM241.0 40.0h.9v.9h-.9zM253.5 70.0h.9v.9h-.9zM231.0 54.0h.9v.9h-.9zM284.5 61.0h.9v.9h-.9zM257.0 41.0h.9v.9h-.9zM263.5 66.5h.9v.9h-.9zM243.0 44.5h.9v.9h-.9zM281.5 59.5h.9v.9h-.9zM243.0 44.5h.9v.9h-.9zM260.5 45.0h.9v.9h-.9zM249.0 46.5h.9v.9h-.9zM281.5 51.0h.9v.9h-.9zM241.0 71.5h.9v.9h-.9zM245.5 72.0h.9v.9h-.9zM280.5 56.0h.9v.9h-.9zM246.0 69.5h.9v.9h-.9zM267.0 64.5h.9v.9h-.9zM238.0 50.0h.9v.9h-.9zM252.0 66.5h.9v.9h-.9zM247.5 70.5h.9v.9h-.9zM248.5 41.5h.9v.9h-.9zM230.0 55.0h.9v.9h-.9zM233.5 45.5h.9v.9h-.9zM276.5 45.5h.9v.9h-.9zM230.5 51.5h.9v.9h-.9zM231.5 55.0h.9v.9h-.9zM254.5 40.5h.9v.9h-.9zM277.0 66.0h.9v.9h-.9zM255.0 72.5h.9v.9h-.9zM246.0 70.0h.9v.9h-.9zM246.5 46.0h.9v.9h-.9zM281.0 49.0h.9v.9h-.9zM280.5 56.0h.9v.9h-.9zM237.0 72.5h.9v.9h-.9z" fill="#3a58c8" opacity="0.85"/>
<line x1="247.40" y1="4.70" x2="247.40" y2="81.00" stroke="#1a1a1a" stroke-width="1.3"/>
<line x1="224.40" y1="55.60" x2="300.50" y2="55.60" stroke="#1a1a1a" stroke-width="1.3"/>
<line x1="210.60" y1="93.00" x2="210.60" y2="25.90" stroke="#111" stroke-width="1.3"/>
<path d="M210.60 19.90 L207.90 27.40 L213.30 27.40 Z" fill="#111"/>
<line x1="209.95" y1="92.40" x2="280.20" y2="92.40" stroke="#111" stroke-width="1.3"/>
<path d="M286.20 92.40 L278.70 89.70 L278.70 95.10 Z" fill="#111"/>
<text x="205.90" y="54.00" font-size="10" text-anchor="middle" fill="#1e1e1e" transform="rotate(-90 205.9 54)">CD28</text>
<text x="240.20" y="103.60" font-size="10" text-anchor="middle" fill="#1e1e1e">CD27</text>
<rect x="335.70" y="7.40" width="75.10" height="76.80" fill="none" stroke="#8a8a8a" stroke-width="0.8"/>
<line x1="334.20" y1="23.90" x2="335.70" y2="23.90" stroke="#999" stroke-width="0.6"/>
<text x="333.50" y="25.50" font-size="4.8" text-anchor="end" fill="#707070">10<tspan font-size="3.36" dy="-1.6">3</tspan></text>
<line x1="334.20" y1="40.90" x2="335.70" y2="40.90" stroke="#999" stroke-width="0.6"/>
<text x="333.50" y="42.50" font-size="4.8" text-anchor="end" fill="#707070">10<tspan font-size="3.36" dy="-1.6">2</tspan></text>
<line x1="334.20" y1="57.40" x2="335.70" y2="57.40" stroke="#999" stroke-width="0.6"/>
<text x="333.50" y="59.00" font-size="4.8" text-anchor="end" fill="#707070">10<tspan font-size="3.36" dy="-1.6">1</tspan></text>
<line x1="334.20" y1="77.60" x2="335.70" y2="77.60" stroke="#999" stroke-width="0.6"/>
<text x="333.50" y="79.20" font-size="4.8" text-anchor="end" fill="#707070">0</text>
<line x1="348.20" y1="84.20" x2="348.20" y2="85.70" stroke="#999" stroke-width="0.6"/>
<text x="348.20" y="90.40" font-size="4.8" text-anchor="middle" fill="#707070">0</text>
<line x1="357.70" y1="84.20" x2="357.70" y2="85.70" stroke="#999" stroke-width="0.6"/>
<text x="357.70" y="90.40" font-size="4.8" text-anchor="middle" fill="#707070">10<tspan font-size="3.36" dy="-1.6">1</tspan></text>
<line x1="377.70" y1="84.20" x2="377.70" y2="85.70" stroke="#999" stroke-width="0.6"/>
<text x="377.70" y="90.40" font-size="4.8" text-anchor="middle" fill="#707070">10<tspan font-size="3.36" dy="-1.6">2</tspan></text>
<line x1="395.20" y1="84.20" x2="395.20" y2="85.70" stroke="#999" stroke-width="0.6"/>
<text x="395.20" y="90.40" font-size="4.8" text-anchor="middle" fill="#707070">10<tspan font-size="3.36" dy="-1.6">3</tspan></text>
<line x1="411.70" y1="84.20" x2="411.70" y2="85.70" stroke="#999" stroke-width="0.6"/>
<text x="411.70" y="90.40" font-size="4.8" text-anchor="middle" fill="#707070">10<tspan font-size="3.36" dy="-1.6">4</tspan></text>
<line x1="341.13" y1="84.20" x2="341.13" y2="85.00" stroke="#bbb" stroke-width="0.4"/>
<line x1="346.56" y1="84.20" x2="346.56" y2="85.00" stroke="#bbb" stroke-width="0.4"/>
<line x1="351.99" y1="84.20" x2="351.99" y2="85.00" stroke="#bbb" stroke-width="0.4"/>
<line x1="357.41" y1="84.20" x2="357.41" y2="85.00" stroke="#bbb" stroke-width="0.4"/>
<line x1="362.84" y1="84.20" x2="362.84" y2="85.00" stroke="#bbb" stroke-width="0.4"/>
<line x1="368.27" y1="84.20" x2="368.27" y2="85.00" stroke="#bbb" stroke-width="0.4"/>
<line x1="373.70" y1="84.20" x2="373.70" y2="85.00" stroke="#bbb" stroke-width="0.4"/>
<line x1="379.13" y1="84.20" x2="379.13" y2="85.00" stroke="#bbb" stroke-width="0.4"/>
<line x1="384.56" y1="84.20" x2="384.56" y2="85.00" stroke="#bbb" stroke-width="0.4"/>
<line x1="389.99" y1="84.20" x2="389.99" y2="85.00" stroke="#bbb" stroke-width="0.4"/>
<line x1="395.41" y1="84.20" x2="395.41" y2="85.00" stroke="#bbb" stroke-width="0.4"/>
<line x1="400.84" y1="84.20" x2="400.84" y2="85.00" stroke="#bbb" stroke-width="0.4"/>
<line x1="406.27" y1="84.20" x2="406.27" y2="85.00" stroke="#bbb" stroke-width="0.4"/>
<g filter="url(#bl45)"><path d="M386.5 80.1L382.5 80.2L379.5 79.3L376.7 78.0L374.1 76.5L371.3 75.5L368.0 75.9L365.0 76.9L362.0 77.7L358.5 78.1L354.5 78.0L351.2 77.5L348.0 76.6L345.4 75.5L342.9 74.0L340.5 72.0L338.7 70.0L337.3 67.5L336.5 64.5L336.6 61.0L337.5 58.0L339.0 55.0L339.5 52.0L338.0 49.9L336.0 48.0L335.7 44.0L335.6 40.0L335.6 36.0L335.7 32.0L335.8 28.0L337.5 25.5L340.0 24.4L343.0 23.3L346.1 22.5L349.5 21.8L353.0 21.4L357.0 21.2L361.0 21.3L364.5 21.6L368.0 22.1L371.5 22.9L374.5 23.8L377.4 25.0L380.0 26.3L382.5 28.0L384.5 29.7L386.3 32.0L387.5 34.6L387.8 38.5L386.9 41.5L386.5 44.5L389.0 46.2L391.5 47.8L393.5 49.8L395.1 52.0L396.5 55.0L397.4 58.0L397.8 61.5L397.7 65.5L397.1 69.0L396.0 71.9L394.6 74.5L393.0 76.5L390.5 78.5L388.0 79.7Z" fill="#c5cfee" fill-rule="evenodd"/><path d="M388.0 77.6L383.5 77.8L380.0 76.7L377.2 75.0L374.6 73.0L372.1 71.0L369.0 69.9L365.9 71.0L362.5 72.4L359.0 73.1L354.5 73.0L351.0 72.2L348.0 70.8L345.5 68.7L343.7 66.0L343.1 62.0L344.4 58.5L346.1 56.0L347.0 53.0L344.9 50.5L342.0 48.5L339.5 46.9L336.9 45.0L335.8 41.5L335.8 37.0L335.8 32.5L337.0 29.1L339.5 27.5L342.7 26.0L346.0 24.9L350.0 24.0L354.0 23.5L358.0 23.3L362.1 23.5L366.0 24.0L370.0 24.9L373.3 26.0L376.5 27.5L379.0 29.1L381.5 31.4L383.2 34.0L383.8 38.0L382.5 41.5L380.8 44.0L378.5 46.2L375.6 48.0L372.6 49.5L369.9 51.0L367.6 53.5L369.5 56.1L373.0 55.0L375.5 53.0L377.9 51.0L380.5 49.0L383.5 47.7L387.0 47.5L390.5 48.8L392.9 51.0L394.6 53.5L396.0 57.0L396.6 60.5L396.6 65.0L395.9 68.5L394.5 71.8L392.6 74.5L390.3 76.5Z" fill="#7f93db" fill-rule="evenodd"/><path d="M358.5 50.5L356.5 50.5L355.0 50.4L353.1 50.0L351.5 49.6L350.0 49.1L348.5 48.5L347.2 48.0L346.0 47.4L344.5 46.7L343.2 46.0L342.0 45.3L340.9 44.5L339.6 43.5L338.5 42.5L337.6 41.5L337.0 40.5L336.3 39.0L336.0 37.5L336.0 36.0L336.5 34.4L337.3 33.0L338.1 32.0L339.1 31.0L340.4 30.0L341.5 29.3L342.9 28.5L344.0 28.0L345.5 27.4L347.0 26.9L348.5 26.5L350.5 26.0L352.0 25.8L354.0 25.5L355.5 25.4L357.5 25.3L359.5 25.3L361.5 25.4L363.0 25.5L365.0 25.8L366.5 26.1L368.3 26.5L369.8 27.0L371.2 27.5L372.5 28.1L374.0 28.9L375.0 29.5L376.4 30.5L377.5 31.5L378.3 32.5L379.0 33.5L379.7 35.0L380.0 36.5L380.0 38.0L379.5 39.6L378.8 41.0L378.0 42.0L377.0 43.1L375.9 44.0L374.5 45.0L373.5 45.6L372.0 46.4L370.7 47.0L369.5 47.5L368.0 48.2L366.5 48.7L365.0 49.2L363.5 49.7L362.0 50.0L360.0 50.4L358.5 50.5ZM387.5 76.1L386.0 76.3L384.5 76.2L383.5 75.9L382.4 75.5L381.4 75.0L380.5 74.5L379.5 73.7L378.6 73.0L378.0 72.4L377.1 71.5L376.5 70.8L375.8 70.0L375.1 69.0L374.6 68.0L374.1 67.0L373.7 66.0L373.5 65.0L373.3 63.5L373.5 62.1L373.8 61.0L374.2 60.0L374.7 59.0L375.3 58.0L376.0 57.0L376.5 56.3L377.1 55.5L377.8 54.5L378.5 53.7L379.0 53.0L380.0 52.0L380.5 51.5L381.5 50.6L382.4 50.0L383.4 49.5L384.5 49.1L385.5 48.9L387.0 48.9L388.0 49.0L389.3 49.5L390.2 50.0L391.0 50.5L392.0 51.5L392.5 52.0L393.2 53.0L393.8 54.0L394.3 55.0L394.7 56.0L395.0 57.0L395.4 58.5L395.6 59.5L395.8 61.0L395.8 62.5L395.8 64.0L395.6 65.5L395.4 66.5L395.0 68.0L394.7 69.0L394.3 70.0L393.7 71.0L393.1 72.0L392.5 72.9L391.9 73.5L391.0 74.4L390.1 75.0L389.2 75.5L388.0 76.0Z" fill="#3050cc" fill-rule="evenodd"/><path d="M364.0 43.5L363.0 43.7L362.0 43.8L361.0 43.8L360.0 43.8L359.0 43.7L358.0 43.6L357.5 43.5L356.5 43.3L355.5 43.0L355.0 42.9L354.0 42.6L353.5 42.4L352.6 42.0L352.0 41.7L351.5 41.5L350.7 41.0L350.0 40.6L349.5 40.1L349.0 39.7L348.5 39.1L348.2 38.5L348.0 38.0L347.8 37.0L348.0 36.0L348.2 35.5L348.5 34.9L349.0 34.3L349.5 33.8L350.0 33.4L350.5 33.0L351.1 32.5L351.8 32.0L352.5 31.6L353.0 31.3L353.5 31.0L354.4 30.5L355.0 30.2L355.6 30.0L356.5 29.6L357.0 29.5L358.0 29.2L358.9 29.0L359.5 28.9L360.5 28.8L361.5 28.7L362.5 28.7L363.5 28.7L364.5 28.9L365.2 29.0L366.0 29.2L367.0 29.5L367.5 29.7L368.2 30.0L369.0 30.4L369.5 30.8L370.0 31.1L370.5 31.5L371.0 32.0L371.5 32.6L372.0 33.3L372.4 34.0L372.5 34.5L372.8 35.5L372.8 36.5L372.6 37.5L372.4 38.0L372.0 38.9L371.6 39.5L371.2 40.0L370.7 40.5L370.1 41.0L369.5 41.5L369.0 41.8L368.5 42.1L367.6 42.5L367.0 42.8L366.3 43.0L365.5 43.2L364.5 43.5L364.0 43.5ZM388.0 73.2L387.0 73.4L386.0 73.4L385.0 73.2L384.5 73.0L383.5 72.5L383.0 72.2L382.5 71.8L382.0 71.4L381.5 70.9L381.0 70.2L380.5 69.5L380.2 69.0L380.0 68.5L379.5 67.5L379.3 67.0L379.0 66.0L378.9 65.5L378.7 64.5L378.6 63.5L378.6 62.5L378.7 61.5L378.8 60.5L379.0 59.5L379.1 59.0L379.4 58.0L379.6 57.5L380.0 56.5L380.3 56.0L380.6 55.5L381.0 54.8L381.5 54.1L382.0 53.6L382.5 53.1L383.0 52.7L383.5 52.3L384.0 52.0L385.0 51.6L385.5 51.4L386.5 51.3L387.5 51.4L388.0 51.5L389.0 51.9L389.5 52.1L390.0 52.5L390.7 53.0L391.2 53.5L391.6 54.0L392.0 54.6L392.5 55.4L392.8 56.0L393.0 56.5L393.4 57.5L393.6 58.0L393.8 59.0L394.0 60.0L394.1 60.5L394.1 61.5L394.2 62.5L394.1 63.5L394.0 64.4L393.9 65.0L393.7 66.0L393.5 66.8L393.3 67.5L393.0 68.1L392.6 69.0L392.3 69.5L392.0 70.0L391.5 70.7L391.0 71.3L390.5 71.8L390.0 72.2L389.5 72.5L388.5 73.0L388.0 73.2Z" fill="#3064d4" fill-rule="evenodd"/><path d="M363.5 41.6L362.5 41.6L361.5 41.6L360.8 41.5L360.0 41.4L359.0 41.1L358.5 40.9L357.7 40.5L357.0 40.1L356.5 39.7L356.0 39.3L355.5 38.7L355.0 38.0L354.8 37.5L354.5 36.5L354.5 36.0L354.5 35.3L354.7 34.5L355.0 33.8L355.5 33.0L356.0 32.5L356.5 32.1L357.0 31.7L357.5 31.4L358.3 31.0L359.0 30.7L359.9 30.5L360.5 30.4L361.5 30.2L362.5 30.2L363.5 30.2L364.5 30.4L365.0 30.5L366.0 30.8L366.6 31.0L367.5 31.5L368.0 31.8L368.5 32.2L369.0 32.6L369.5 33.2L370.0 34.0L370.2 34.5L370.4 35.5L370.4 36.5L370.1 37.5L369.9 38.0L369.5 38.6L369.0 39.1L368.5 39.6L368.0 40.0L367.1 40.5L366.5 40.8L366.0 41.0L365.0 41.3L364.0 41.5L363.5 41.6ZM388.0 71.6L387.0 71.8L386.0 71.8L385.0 71.5L384.5 71.3L383.9 71.0L383.3 70.5L382.7 70.0L382.3 69.5L381.9 69.0L381.5 68.3L381.1 67.5L380.9 67.0L380.5 66.0L380.4 65.5L380.2 64.5L380.1 63.5L380.0 62.5L380.0 61.5L380.1 60.5L380.3 59.5L380.5 58.8L380.8 58.0L381.0 57.4L381.4 56.5L381.7 56.0L382.1 55.5L382.5 54.9L383.0 54.4L383.5 54.0L384.2 53.5L385.0 53.1L385.5 52.9L386.5 52.8L387.5 52.8L388.2 53.0L389.0 53.3L389.5 53.6L390.0 54.0L390.5 54.5L391.0 55.0L391.5 55.7L392.0 56.5L392.2 57.0L392.5 57.7L392.8 58.5L393.0 59.5L393.1 60.0L393.2 61.0L393.2 62.0L393.2 63.0L393.1 64.0L393.0 64.5L392.8 65.5L392.5 66.5L392.3 67.0L392.0 67.7L391.6 68.5L391.3 69.0L390.9 69.5L390.5 70.0L390.0 70.5L389.3 71.0L388.5 71.4L388.0 71.6Z" fill="#3a8ad8" fill-rule="evenodd"/><path d="M364.5 40.1L363.5 40.3L362.5 40.3L361.5 40.3L360.5 40.1L360.0 39.9L359.0 39.5L358.5 39.2L358.0 38.8L357.5 38.3L357.0 37.6L356.7 37.0L356.5 36.4L356.4 35.5L356.5 35.0L356.9 34.0L357.2 33.5L357.7 33.0L358.4 32.5L359.0 32.1L359.5 31.9L360.5 31.6L361.0 31.5L362.0 31.3L363.0 31.3L364.0 31.4L364.5 31.5L365.5 31.8L366.0 32.0L366.8 32.5L367.5 33.0L367.9 33.5L368.3 34.0L368.6 34.5L368.8 35.5L368.8 36.5L368.5 37.3L368.1 38.0L367.6 38.5L367.0 39.0L366.5 39.3L366.0 39.6L365.0 40.0L364.5 40.1ZM388.0 70.5L387.0 70.7L386.0 70.7L385.3 70.5L384.5 70.1L384.0 69.8L383.5 69.3L383.0 68.8L382.5 68.1L382.1 67.5L381.9 67.0L381.5 66.1L381.3 65.5L381.1 64.5L381.0 64.0L380.9 63.0L380.9 62.0L380.9 61.0L381.0 60.4L381.2 59.5L381.5 58.5L381.7 58.0L382.0 57.3L382.4 56.5L382.8 56.0L383.2 55.5L383.7 55.0L384.4 54.5L385.0 54.2L385.5 54.0L386.5 53.8L387.5 53.8L388.1 54.0L389.0 54.4L389.5 54.6L390.0 55.0L390.5 55.5L391.0 56.1L391.5 56.9L391.8 57.5L392.0 58.0L392.3 59.0L392.5 59.9L392.6 60.5L392.6 61.5L392.6 62.5L392.5 63.4L392.4 64.0L392.2 65.0L392.0 65.7L391.7 66.5L391.5 67.0L391.0 67.9L390.6 68.5L390.2 69.0L389.7 69.5L389.0 70.0L388.5 70.3L388.0 70.5Z" fill="#3fb0dc" fill-rule="evenodd"/><path d="M364.5 38.6L363.5 38.8L362.5 38.9L361.5 38.8L360.6 38.5L360.0 38.2L359.5 37.8L359.0 37.3L358.6 36.5L358.5 36.0L358.5 35.2L358.8 34.5L359.1 34.0L359.7 33.5L360.5 33.1L361.0 32.9L362.0 32.7L363.0 32.7L364.0 32.9L364.5 33.0L365.5 33.5L366.0 33.9L366.5 34.5L366.8 35.0L366.9 36.0L366.6 37.0L366.2 37.5L365.7 38.0L365.0 38.4L364.5 38.6ZM387.5 69.6L386.5 69.7L385.7 69.5L385.0 69.2L384.5 68.9L384.0 68.5L383.5 68.0L383.0 67.3L382.6 66.5L382.4 66.0L382.0 65.0L381.9 64.5L381.7 63.5L381.7 62.5L381.7 61.5L381.8 60.5L382.0 59.5L382.2 59.0L382.5 58.1L382.8 57.5L383.1 57.0L383.5 56.5L384.0 56.0L384.6 55.5L385.5 55.0L386.0 54.9L387.0 54.8L388.0 54.9L388.5 55.0L389.5 55.5L390.0 55.8L390.5 56.3L391.0 57.0L391.3 57.5L391.5 58.0L391.9 59.0L392.0 59.6L392.1 60.5L392.2 61.5L392.1 62.5L392.0 63.2L391.8 64.0L391.5 65.0L391.3 65.5L391.0 66.3L390.6 67.0L390.3 67.5L389.9 68.0L389.4 68.5L388.8 69.0L388.0 69.4L387.5 69.6Z" fill="#45c0b0" fill-rule="evenodd"/><path d="M387.0 68.5L386.4 68.5L385.5 68.2L385.0 68.0L384.4 67.5L384.0 67.0L383.5 66.3L383.1 65.5L382.9 65.0L382.7 64.0L382.5 63.0L382.5 62.5L382.5 61.5L382.5 61.0L382.7 60.0L383.0 59.1L383.3 58.5L383.6 58.0L384.0 57.4L384.5 56.8L385.0 56.5L385.9 56.0L386.5 55.8L387.5 55.7L388.5 55.7L389.2 56.0L390.0 56.5L390.5 57.0L390.8 57.5L391.1 58.0L391.5 59.0L391.6 59.5L391.8 60.5L391.8 61.5L391.7 62.5L391.5 63.3L391.3 64.0L391.0 64.7L390.6 65.5L390.3 66.0L390.0 66.5L389.5 67.1L389.0 67.6L388.5 68.0L387.5 68.4L387.0 68.5Z" fill="#4cc46a" fill-rule="evenodd"/><path d="M388.0 66.1L387.0 66.3L386.0 66.1L385.5 65.8L385.0 65.2L384.5 64.5L384.4 64.0L384.1 63.0L384.0 62.0L384.1 61.0L384.4 60.0L384.6 59.5L385.0 58.9L385.5 58.2L386.0 57.7L386.5 57.3L387.0 57.0L388.0 56.7L389.0 56.8L389.5 57.0L390.1 57.5L390.5 58.1L390.9 59.0L391.1 59.5L391.2 60.5L391.2 61.5L391.1 62.5L390.9 63.0L390.5 64.0L390.2 64.5L389.8 65.0L389.2 65.5L388.5 65.9L388.0 66.1Z" fill="#98cc30" fill-rule="evenodd"/><path d="M389.0 64.5L388.0 64.7L387.5 64.5L386.8 64.0L386.4 63.5L386.0 62.5L385.9 62.0L385.8 61.0L385.9 60.0L386.1 59.5L386.5 58.6L387.0 58.0L387.5 57.6L388.0 57.4L389.0 57.5L389.5 57.8L390.0 58.3L390.4 59.0L390.6 59.5L390.8 60.5L390.8 61.5L390.6 62.5L390.4 63.0L390.0 63.7L389.5 64.2L389.0 64.5Z" fill="#e4d828" fill-rule="evenodd"/><path d="M389.0 63.5L388.0 63.5L387.5 63.1L387.1 62.5L386.9 62.0L386.7 61.0L386.8 60.0L387.0 59.3L387.5 58.6L388.0 58.3L389.0 58.3L389.5 58.6L390.0 59.4L390.2 60.0L390.3 61.0L390.2 62.0L390.0 62.5L389.5 63.2L389.0 63.5Z" fill="#f29a20" fill-rule="evenodd"/><path d="M389.0 62.7L388.5 62.9L388.0 62.6L387.9 62.5L387.5 62.0L387.5 62.0L387.3 61.5L387.3 61.0L387.3 60.5L387.4 60.0L387.5 59.6L387.6 59.5L388.0 59.0L388.1 59.0L388.5 58.9L388.8 59.0L389.0 59.1L389.4 59.5L389.5 59.7L389.6 60.0L389.7 60.5L389.8 61.0L389.7 61.5L389.6 62.0L389.5 62.2L389.3 62.5L389.0 62.7Z" fill="#e63c18" fill-rule="evenodd"/></g>
<path d="M385.5 36.5h.9v.9h-.9zM367.5 75.5h.9v.9h-.9zM366.0 56.5h.9v.9h-.9zM357.0 77.5h.9v.9h-.9zM365.0 62.0h.9v.9h-.9zM375.0 50.5h.9v.9h-.9zM376.0 52.5h.9v.9h-.9zM388.5 50.5h.9v.9h-.9zM347.0 25.5h.9v.9h-.9zM346.5 63.5h.9v.9h-.9zM340.0 45.5h.9v.9h-.9zM362.0 52.5h.9v.9h-.9zM356.5 59.0h.9v.9h-.9zM345.0 70.0h.9v.9h-.9zM360.0 74.5h.9v.9h-.9zM356.5 69.0h.9v.9h-.9zM352.0 64.5h.9v.9h-.9zM364.0 53.0h.9v.9h-.9zM360.0 74.0h.9v.9h-.9zM352.5 52.0h.9v.9h-.9zM359.5 59.5h.9v.9h-.9zM363.5 24.0h.9v.9h-.9zM351.5 50.5h.9v.9h-.9zM367.0 23.5h.9v.9h-.9zM360.0 59.0h.9v.9h-.9zM375.5 58.5h.9v.9h-.9zM375.0 62.0h.9v.9h-.9zM363.5 73.0h.9v.9h-.9zM366.5 71.5h.9v.9h-.9zM368.0 58.5h.9v.9h-.9zM347.5 21.5h.9v.9h-.9zM375.0 55.5h.9v.9h-.9zM349.0 52.0h.9v.9h-.9zM372.5 53.0h.9v.9h-.9zM366.0 66.0h.9v.9h-.9zM365.0 26.5h.9v.9h-.9zM348.5 32.5h.9v.9h-.9zM343.0 46.0h.9v.9h-.9zM395.5 56.5h.9v.9h-.9zM390.5 81.0h.9v.9h-.9zM340.0 28.0h.9v.9h-.9zM344.0 52.5h.9v.9h-.9zM390.5 74.0h.9v.9h-.9zM377.5 77.5h.9v.9h-.9zM371.5 53.0h.9v.9h-.9zM365.0 58.0h.9v.9h-.9zM353.0 45.0h.9v.9h-.9zM367.5 27.0h.9v.9h-.9zM373.0 40.0h.9v.9h-.9zM371.0 24.0h.9v.9h-.9zM341.0 68.0h.9v.9h-.9zM353.0 57.0h.9v.9h-.9zM347.5 62.5h.9v.9h-.9zM379.5 38.5h.9v.9h-.9zM356.5 57.5h.9v.9h-.9zM339.0 37.0h.9v.9h-.9zM391.0 30.0h.9v.9h-.9zM360.0 54.0h.9v.9h-.9zM346.0 43.0h.9v.9h-.9zM339.0 34.5h.9v.9h-.9zM349.5 59.0h.9v.9h-.9zM372.5 53.5h.9v.9h-.9zM340.0 51.5h.9v.9h-.9zM356.0 70.5h.9v.9h-.9zM376.0 79.5h.9v.9h-.9zM377.0 77.0h.9v.9h-.9zM362.0 56.5h.9v.9h-.9zM350.0 26.5h.9v.9h-.9zM339.0 36.0h.9v.9h-.9zM354.5 77.0h.9v.9h-.9zM377.0 30.5h.9v.9h-.9zM370.5 54.5h.9v.9h-.9zM377.0 63.5h.9v.9h-.9zM381.0 48.0h.9v.9h-.9zM354.0 78.5h.9v.9h-.9zM336.0 63.5h.9v.9h-.9zM352.5 67.5h.9v.9h-.9zM383.5 35.0h.9v.9h-.9zM367.0 54.5h.9v.9h-.9zM347.0 24.5h.9v.9h-.9zM366.5 27.5h.9v.9h-.9zM339.5 22.5h.9v.9h-.9zM366.0 52.0h.9v.9h-.9zM377.0 63.0h.9v.9h-.9zM368.5 52.0h.9v.9h-.9zM369.0 23.5h.9v.9h-.9zM337.0 65.0h.9v.9h-.9zM361.5 64.5h.9v.9h-.9zM371.0 42.5h.9v.9h-.9zM349.5 74.0h.9v.9h-.9zM345.0 48.0h.9v.9h-.9zM378.0 74.0h.9v.9h-.9zM379.5 51.5h.9v.9h-.9zM336.0 39.5h.9v.9h-.9zM362.0 61.0h.9v.9h-.9zM386.5 38.5h.9v.9h-.9zM356.5 57.0h.9v.9h-.9zM349.5 25.5h.9v.9h-.9zM377.0 49.5h.9v.9h-.9zM378.0 30.5h.9v.9h-.9zM344.5 57.0h.9v.9h-.9zM347.0 70.5h.9v.9h-.9zM372.0 56.5h.9v.9h-.9zM359.0 65.5h.9v.9h-.9zM358.0 60.5h.9v.9h-.9zM374.5 44.5h.9v.9h-.9zM353.0 65.5h.9v.9h-.9zM354.5 23.0h.9v.9h-.9zM395.0 72.5h.9v.9h-.9zM339.5 48.0h.9v.9h-.9zM354.0 76.0h.9v.9h-.9zM343.0 69.5h.9v.9h-.9zM373.0 27.5h.9v.9h-.9zM395.5 73.5h.9v.9h-.9zM341.0 42.0h.9v.9h-.9zM396.5 58.5h.9v.9h-.9zM369.5 73.5h.9v.9h-.9zM343.5 68.0h.9v.9h-.9zM346.5 47.0h.9v.9h-.9zM347.0 70.5h.9v.9h-.9zM389.0 38.5h.9v.9h-.9zM349.5 45.5h.9v.9h-.9zM373.5 24.5h.9v.9h-.9zM367.5 72.5h.9v.9h-.9zM361.0 76.0h.9v.9h-.9zM375.5 41.5h.9v.9h-.9zM345.0 42.5h.9v.9h-.9zM338.0 61.5h.9v.9h-.9zM392.0 54.0h.9v.9h-.9zM370.5 71.0h.9v.9h-.9zM340.0 65.5h.9v.9h-.9zM339.0 48.0h.9v.9h-.9zM369.5 27.5h.9v.9h-.9zM349.0 70.0h.9v.9h-.9zM373.5 43.0h.9v.9h-.9zM364.5 54.0h.9v.9h-.9zM362.5 76.0h.9v.9h-.9zM395.0 60.0h.9v.9h-.9zM343.5 28.5h.9v.9h-.9zM357.0 49.5h.9v.9h-.9zM356.0 70.5h.9v.9h-.9zM375.0 48.0h.9v.9h-.9zM363.5 66.0h.9v.9h-.9zM371.5 27.0h.9v.9h-.9zM356.0 52.0h.9v.9h-.9zM348.0 26.5h.9v.9h-.9zM394.5 55.5h.9v.9h-.9zM349.0 51.5h.9v.9h-.9zM372.0 69.0h.9v.9h-.9zM366.0 62.0h.9v.9h-.9zM366.0 70.0h.9v.9h-.9zM347.0 55.0h.9v.9h-.9zM379.5 72.0h.9v.9h-.9zM358.0 70.5h.9v.9h-.9zM391.5 50.0h.9v.9h-.9zM344.0 56.0h.9v.9h-.9zM337.0 60.5h.9v.9h-.9zM342.0 42.5h.9v.9h-.9zM363.5 62.0h.9v.9h-.9zM370.5 28.5h.9v.9h-.9zM354.0 78.0h.9v.9h-.9zM362.0 71.5h.9v.9h-.9zM347.0 54.5h.9v.9h-.9zM375.5 47.5h.9v.9h-.9zM364.0 69.5h.9v.9h-.9zM370.5 74.0h.9v.9h-.9zM387.0 77.5h.9v.9h-.9zM337.5 35.0h.9v.9h-.9zM355.0 64.5h.9v.9h-.9zM361.0 51.0h.9v.9h-.9zM348.5 60.0h.9v.9h-.9zM363.0 49.5h.9v.9h-.9zM347.0 31.5h.9v.9h-.9zM367.0 26.0h.9v.9h-.9zM341.0 25.5h.9v.9h-.9zM369.0 57.5h.9v.9h-.9zM360.5 56.5h.9v.9h-.9zM340.5 45.0h.9v.9h-.9zM336.0 39.5h.9v.9h-.9zM362.0 75.5h.9v.9h-.9zM343.0 34.0h.9v.9h-.9zM373.5 27.5h.9v.9h-.9zM365.0 50.5h.9v.9h-.9zM382.5 51.0h.9v.9h-.9zM376.0 67.5h.9v.9h-.9zM369.0 66.0h.9v.9h-.9zM367.0 45.0h.9v.9h-.9zM359.5 28.0h.9v.9h-.9zM379.5 70.5h.9v.9h-.9zM391.0 78.0h.9v.9h-.9zM363.5 53.0h.9v.9h-.9zM387.5 51.0h.9v.9h-.9zM365.0 77.5h.9v.9h-.9zM357.5 48.5h.9v.9h-.9zM356.5 62.0h.9v.9h-.9zM359.5 77.0h.9v.9h-.9zM356.0 51.5h.9v.9h-.9zM346.5 47.5h.9v.9h-.9zM372.5 48.0h.9v.9h-.9zM382.0 39.0h.9v.9h-.9zM348.0 68.0h.9v.9h-.9zM377.5 31.5h.9v.9h-.9zM376.0 64.5h.9v.9h-.9zM345.5 67.5h.9v.9h-.9zM340.5 41.0h.9v.9h-.9zM376.0 25.5h.9v.9h-.9zM377.0 62.5h.9v.9h-.9zM377.0 52.0h.9v.9h-.9zM350.5 68.5h.9v.9h-.9zM345.5 47.5h.9v.9h-.9zM381.0 49.0h.9v.9h-.9zM356.5 53.0h.9v.9h-.9zM391.0 78.0h.9v.9h-.9zM374.5 28.0h.9v.9h-.9zM344.0 69.0h.9v.9h-.9zM389.5 33.0h.9v.9h-.9zM347.5 49.0h.9v.9h-.9zM361.0 47.0h.9v.9h-.9zM355.0 73.5h.9v.9h-.9zM381.0 42.0h.9v.9h-.9zM370.5 68.0h.9v.9h-.9zM356.5 76.0h.9v.9h-.9zM339.0 38.0h.9v.9h-.9zM344.5 44.5h.9v.9h-.9zM355.0 22.5h.9v.9h-.9zM366.0 25.5h.9v.9h-.9zM360.5 67.0h.9v.9h-.9zM350.0 24.0h.9v.9h-.9zM371.0 48.0h.9v.9h-.9zM357.5 75.5h.9v.9h-.9zM373.0 54.0h.9v.9h-.9zM337.5 27.5h.9v.9h-.9zM363.0 53.0h.9v.9h-.9zM355.5 66.5h.9v.9h-.9zM394.5 74.0h.9v.9h-.9zM374.5 58.0h.9v.9h-.9zM346.5 68.0h.9v.9h-.9zM376.5 68.5h.9v.9h-.9zM341.0 56.5h.9v.9h-.9zM347.5 58.0h.9v.9h-.9zM376.0 22.5h.9v.9h-.9zM382.5 33.5h.9v.9h-.9zM375.5 52.0h.9v.9h-.9zM360.0 72.5h.9v.9h-.9zM375.5 62.5h.9v.9h-.9zM350.0 70.5h.9v.9h-.9zM342.5 25.0h.9v.9h-.9zM356.0 60.5h.9v.9h-.9zM365.0 49.5h.9v.9h-.9zM384.5 44.5h.9v.9h-.9zM383.5 41.5h.9v.9h-.9zM365.5 66.0h.9v.9h-.9zM377.0 66.5h.9v.9h-.9zM372.5 60.5h.9v.9h-.9zM355.0 50.0h.9v.9h-.9zM384.5 41.5h.9v.9h-.9zM384.0 33.5h.9v.9h-.9zM389.0 81.5h.9v.9h-.9zM373.0 73.5h.9v.9h-.9zM382.0 25.0h.9v.9h-.9z" fill="#3a58c8" opacity="0.85"/>
<line x1="373.80" y1="7.40" x2="373.80" y2="84.20" stroke="#1a1a1a" stroke-width="1.3"/>
<line x1="335.70" y1="49.30" x2="410.80" y2="49.30" stroke="#1a1a1a" stroke-width="1.3"/>
<line x1="321.50" y1="94.70" x2="321.50" y2="29.30" stroke="#111" stroke-width="1.3"/>
<path d="M321.50 23.30 L318.80 30.80 L324.20 30.80 Z" fill="#111"/>
<line x1="320.85" y1="94.10" x2="397.40" y2="94.10" stroke="#111" stroke-width="1.3"/>
<path d="M403.40 94.10 L395.90 91.40 L395.90 96.80 Z" fill="#111"/>
<text x="317.80" y="57.60" font-size="10" text-anchor="middle" fill="#1e1e1e" transform="rotate(-90 317.8 57.6)">CD57</text>
<text x="357.20" y="104.60" font-size="10" text-anchor="middle" fill="#1e1e1e">CD127</text>
<rect x="443.40" y="4.70" width="78.60" height="76.70" fill="none" stroke="#8a8a8a" stroke-width="0.8"/>
<line x1="441.90" y1="21.20" x2="443.40" y2="21.20" stroke="#999" stroke-width="0.6"/>
<text x="441.20" y="22.80" font-size="4.8" text-anchor="end" fill="#707070">10<tspan font-size="3.36" dy="-1.6">3</tspan></text>
<line x1="441.90" y1="38.20" x2="443.40" y2="38.20" stroke="#999" stroke-width="0.6"/>
<text x="441.20" y="39.80" font-size="4.8" text-anchor="end" fill="#707070">10<tspan font-size="3.36" dy="-1.6">2</tspan></text>
<line x1="441.90" y1="54.70" x2="443.40" y2="54.70" stroke="#999" stroke-width="0.6"/>
<text x="441.20" y="56.30" font-size="4.8" text-anchor="end" fill="#707070">10<tspan font-size="3.36" dy="-1.6">1</tspan></text>
<line x1="441.90" y1="74.90" x2="443.40" y2="74.90" stroke="#999" stroke-width="0.6"/>
<text x="441.20" y="76.50" font-size="4.8" text-anchor="end" fill="#707070">0</text>
<line x1="455.90" y1="81.40" x2="455.90" y2="82.90" stroke="#999" stroke-width="0.6"/>
<text x="455.90" y="87.60" font-size="4.8" text-anchor="middle" fill="#707070">0</text>
<line x1="465.40" y1="81.40" x2="465.40" y2="82.90" stroke="#999" stroke-width="0.6"/>
<text x="465.40" y="87.60" font-size="4.8" text-anchor="middle" fill="#707070">10<tspan font-size="3.36" dy="-1.6">1</tspan></text>
<line x1="485.40" y1="81.40" x2="485.40" y2="82.90" stroke="#999" stroke-width="0.6"/>
<text x="485.40" y="87.60" font-size="4.8" text-anchor="middle" fill="#707070">10<tspan font-size="3.36" dy="-1.6">2</tspan></text>
<line x1="502.90" y1="81.40" x2="502.90" y2="82.90" stroke="#999" stroke-width="0.6"/>
<text x="502.90" y="87.60" font-size="4.8" text-anchor="middle" fill="#707070">10<tspan font-size="3.36" dy="-1.6">3</tspan></text>
<line x1="519.40" y1="81.40" x2="519.40" y2="82.90" stroke="#999" stroke-width="0.6"/>
<text x="519.40" y="87.60" font-size="4.8" text-anchor="middle" fill="#707070">10<tspan font-size="3.36" dy="-1.6">4</tspan></text>
<line x1="448.83" y1="81.40" x2="448.83" y2="82.20" stroke="#bbb" stroke-width="0.4"/>
<line x1="454.26" y1="81.40" x2="454.26" y2="82.20" stroke="#bbb" stroke-width="0.4"/>
<line x1="459.69" y1="81.40" x2="459.69" y2="82.20" stroke="#bbb" stroke-width="0.4"/>
<line x1="465.11" y1="81.40" x2="465.11" y2="82.20" stroke="#bbb" stroke-width="0.4"/>
<line x1="470.54" y1="81.40" x2="470.54" y2="82.20" stroke="#bbb" stroke-width="0.4"/>
<line x1="475.97" y1="81.40" x2="475.97" y2="82.20" stroke="#bbb" stroke-width="0.4"/>
<line x1="481.40" y1="81.40" x2="481.40" y2="82.20" stroke="#bbb" stroke-width="0.4"/>
<line x1="486.83" y1="81.40" x2="486.83" y2="82.20" stroke="#bbb" stroke-width="0.4"/>
<line x1="492.26" y1="81.40" x2="492.26" y2="82.20" stroke="#bbb" stroke-width="0.4"/>
<line x1="497.69" y1="81.40" x2="497.69" y2="82.20" stroke="#bbb" stroke-width="0.4"/>
<line x1="503.11" y1="81.40" x2="503.11" y2="82.20" stroke="#bbb" stroke-width="0.4"/>
<line x1="508.54" y1="81.40" x2="508.54" y2="82.20" stroke="#bbb" stroke-width="0.4"/>
<line x1="513.97" y1="81.40" x2="513.97" y2="82.20" stroke="#bbb" stroke-width="0.4"/>
<g filter="url(#bl45)"><path d="M477.0 78.1L474.0 78.3L471.5 78.0L469.0 77.2L467.0 76.3L465.1 75.0L463.5 73.7L462.0 72.1L460.7 70.5L459.5 68.6L458.5 66.7L457.5 64.5L456.8 62.5L456.2 60.0L455.8 57.5L455.6 54.5L455.8 51.5L456.1 49.0L456.6 46.5L457.4 44.0L458.1 42.0L457.8 39.5L456.5 38.0L455.0 36.5L453.9 34.5L453.9 31.5L455.0 29.7L456.5 28.5L458.7 27.5L461.4 27.0L463.5 27.0L466.4 27.5L468.5 28.1L471.0 29.0L473.2 29.5L476.0 29.8L478.5 30.3L481.0 30.6L483.5 30.1L486.5 30.4L488.5 31.5L489.9 33.0L491.0 34.8L491.8 37.0L492.3 39.5L492.3 42.5L492.3 45.5L492.7 48.0L493.1 50.5L493.3 53.5L493.2 56.5L492.9 59.0L492.4 61.5L491.6 64.0L490.8 66.0L489.8 68.0L488.6 70.0L487.5 71.5L486.0 73.2L484.5 74.5L482.5 76.0L480.5 77.0L478.5 77.7Z" fill="#c5cfee" fill-rule="evenodd"/><path d="M477.0 75.1L474.5 75.3L472.0 75.1L470.0 74.5L468.5 73.9L467.0 73.0L465.5 71.9L464.0 70.5L463.0 69.3L462.0 68.0L461.0 66.4L460.0 64.6L459.3 63.0L458.5 61.0L458.0 59.2L457.7 57.0L457.6 54.5L457.7 52.0L458.0 49.9L458.5 47.5L459.0 45.7L459.7 44.0L460.5 42.2L461.0 40.5L460.5 38.8L459.5 37.5L458.3 36.0L457.5 34.5L457.5 32.3L458.5 30.9L460.0 30.0L462.0 29.5L464.5 29.5L466.5 29.9L468.3 30.5L470.0 31.2L471.9 32.0L474.0 32.5L476.0 32.7L478.0 33.1L480.0 32.7L481.5 31.8L483.5 31.1L485.3 31.0L487.0 31.5L488.5 32.5L489.8 34.0L490.6 35.5L491.3 37.5L491.6 39.5L491.6 42.0L491.3 44.0L490.8 46.0L490.6 48.5L490.9 51.0L491.0 53.0L491.0 55.2L490.8 57.5L490.5 59.5L490.0 61.5L489.3 63.5L488.5 65.3L487.6 67.0L486.6 68.5L485.5 69.9L484.5 71.0L483.0 72.3L481.5 73.3L480.0 74.1L478.0 74.9Z" fill="#7f93db" fill-rule="evenodd"/><path d="M477.5 72.1L475.5 72.4L473.5 72.4L471.5 72.1L470.0 71.5L468.9 71.0L467.5 70.1L466.5 69.3L465.5 68.4L464.5 67.4L463.5 66.2L462.6 65.0L461.8 64.0L461.0 62.7L460.4 61.5L459.8 60.0L459.3 58.5L459.0 56.5L458.9 55.0L458.8 53.0L459.0 51.0L459.2 49.5L459.5 48.0L460.0 46.4L460.6 45.0L461.5 43.5L462.2 42.5L463.1 41.5L464.0 40.2L464.4 38.5L464.4 36.5L465.0 35.4L466.4 34.5L468.0 34.4L469.5 34.7L471.0 35.1L473.0 35.4L475.0 35.5L476.5 35.7L478.3 35.5L479.5 34.5L480.5 33.5L481.5 32.8L483.0 32.0L484.5 31.7L486.5 32.0L487.5 32.5L488.7 33.5L489.5 34.5L490.3 36.0L490.8 37.5L491.0 39.0L491.1 41.0L490.9 42.5L490.5 44.4L490.0 45.8L489.5 47.0L488.9 48.5L488.6 50.5L488.8 52.5L488.8 54.5L488.7 56.5L488.5 58.0L488.1 60.0L487.6 61.5L487.0 63.0L486.5 64.1L485.7 65.5L485.0 66.6L484.0 67.8L483.0 68.9L482.0 69.7L480.9 70.5L479.5 71.3L478.0 71.9Z" fill="#3050cc" fill-rule="evenodd"/><path d="M475.0 65.5L473.0 65.7L471.1 65.5L469.5 65.1L468.0 64.5L467.0 64.0L465.5 63.0L464.5 62.2L463.5 61.2L462.5 60.0L461.9 59.0L461.3 57.5L460.8 56.0L460.5 54.0L460.5 52.5L460.6 51.0L460.9 49.0L461.4 47.5L462.0 46.3L462.9 45.0L464.0 44.1L465.2 43.5L467.0 43.3L468.5 43.7L469.8 44.5L471.0 45.5L472.0 46.3L473.5 46.5L474.7 46.0L476.0 45.2L477.5 44.5L478.5 43.8L478.8 42.0L479.0 40.0L479.3 38.5L479.9 37.0L480.5 35.9L481.5 34.6L482.5 33.8L484.0 33.2L486.0 33.3L487.4 34.0L488.4 35.0L489.1 36.0L489.7 37.5L490.0 39.2L490.0 41.0L489.8 42.5L489.3 44.0L488.6 45.5L487.8 46.5L486.8 47.5L485.8 48.5L485.5 50.0L485.6 51.5L485.5 53.5L485.3 55.0L484.9 56.5L484.2 58.0L483.5 59.3L482.7 60.5L481.9 61.5L481.0 62.5L479.8 63.5L478.5 64.3L477.0 65.0L475.5 65.4Z" fill="#3064d4" fill-rule="evenodd"/><path d="M475.0 63.0L473.0 63.3L471.0 63.2L469.5 62.8L468.0 62.2L466.5 61.5L465.5 60.9L464.3 60.0L463.3 59.0L462.5 57.7L462.0 56.5L461.5 54.6L461.4 53.0L461.5 51.0L461.8 49.5L462.3 48.0L463.0 46.8L464.0 45.7L465.5 45.0L466.9 45.0L468.1 45.5L469.3 46.5L470.1 47.5L471.0 48.7L472.0 49.6L474.0 49.6L475.0 48.8L476.0 47.9L477.0 47.0L478.5 46.2L479.9 45.5L480.3 44.0L480.0 42.1L479.9 40.5L480.1 39.0L480.6 37.5L481.4 36.0L482.3 35.0L483.5 34.3L485.5 34.1L487.0 34.7L488.0 35.6L488.8 37.0L489.3 38.5L489.4 40.5L489.1 42.5L488.5 44.0L487.9 45.0L487.0 46.0L485.5 47.0L484.5 47.8L484.2 49.5L484.4 51.5L484.4 53.5L484.0 55.4L483.5 56.5L482.5 58.0L481.6 59.0L480.5 59.9L479.5 60.6L478.2 61.5L477.0 62.2L475.5 62.9Z" fill="#3a8ad8" fill-rule="evenodd"/><path d="M473.5 61.0L471.5 61.0L470.0 60.7L468.5 60.5L466.5 60.1L465.3 59.5L464.0 58.5L463.2 57.5L462.5 56.0L462.2 54.5L462.1 52.5L462.4 50.5L462.8 49.0L463.5 47.8L464.5 46.8L466.0 46.2L467.5 46.5L468.8 47.5L469.6 48.5L470.5 49.7L471.5 51.0L472.5 51.9L473.5 51.8L474.5 50.9L475.5 49.8L476.5 48.8L477.5 48.0L479.0 47.3L480.5 47.0L481.6 46.0L481.3 44.5L480.8 43.0L480.5 41.0L480.7 39.0L481.2 37.5L482.0 36.2L483.0 35.3L484.5 34.7L486.3 35.0L487.5 35.8L488.4 37.0L488.9 38.5L489.1 40.0L488.9 41.5L488.4 43.0L487.5 44.5L486.5 45.5L485.5 46.1L484.0 46.7L482.7 47.5L483.0 49.0L483.5 50.9L483.7 52.5L483.5 54.2L483.0 55.7L482.2 57.0L481.2 58.0L480.0 58.8L478.5 59.4L477.0 59.8L475.5 60.4L474.0 60.9Z" fill="#3fb0dc" fill-rule="evenodd"/><path d="M484.5 45.5L483.8 45.5L483.0 45.2L482.5 44.8L482.0 44.1L481.7 43.5L481.5 42.9L481.3 42.0L481.1 41.0L481.2 40.0L481.3 39.0L481.5 38.4L481.9 37.5L482.2 37.0L482.7 36.5L483.2 36.0L484.0 35.6L484.5 35.4L485.5 35.3L486.2 35.5L487.0 35.9L487.5 36.3L488.0 37.0L488.3 37.5L488.5 38.0L488.7 39.0L488.8 40.0L488.6 41.0L488.5 41.5L488.1 42.5L487.8 43.0L487.5 43.5L487.0 44.1L486.5 44.6L486.0 45.0L485.0 45.4L484.5 45.5ZM468.5 58.6L467.5 58.9L466.5 58.9L465.5 58.5L465.0 58.2L464.5 57.8L464.0 57.2L463.6 56.5L463.3 56.0L463.0 55.0L462.9 54.5L462.8 53.5L462.9 52.5L463.0 51.8L463.2 51.0L463.5 50.3L463.9 49.5L464.3 49.0L464.7 48.5L465.4 48.0L466.0 47.8L467.0 47.8L467.5 48.0L468.3 48.5L468.8 49.0L469.3 49.5L469.6 50.0L470.0 50.5L470.5 51.4L470.8 52.0L471.0 52.8L471.2 53.5L471.2 54.5L471.0 55.3L470.8 56.0L470.5 56.6L470.0 57.4L469.5 58.0L469.0 58.4L468.5 58.6ZM478.5 58.0L477.9 58.0L477.0 57.8L476.5 57.5L475.8 57.0L475.4 56.5L475.0 55.7L474.7 55.0L474.6 54.0L474.7 53.0L475.0 52.3L475.4 51.5L475.7 51.0L476.1 50.5L476.6 50.0L477.2 49.5L478.0 49.0L478.5 48.8L479.5 48.7L480.5 48.8L481.0 49.1L481.5 49.5L482.0 50.3L482.3 51.0L482.5 51.5L482.7 52.5L482.7 53.5L482.5 54.5L482.3 55.0L482.0 55.7L481.5 56.5L481.0 57.0L480.5 57.4L480.0 57.6L479.0 58.0L478.5 58.0Z" fill="#45c0b0" fill-rule="evenodd"/><path d="M486.0 44.0L485.0 44.4L484.0 44.4L483.2 44.0L482.7 43.5L482.4 43.0L482.0 42.0L481.9 41.5L481.8 40.5L481.9 39.5L482.0 39.0L482.4 38.0L482.7 37.5L483.1 37.0L483.6 36.5L484.5 36.0L485.0 35.8L486.0 35.9L486.5 36.0L487.2 36.5L487.7 37.0L488.0 37.5L488.4 38.5L488.5 39.5L488.4 40.5L488.2 41.5L487.9 42.0L487.5 42.7L487.0 43.3L486.5 43.7L486.0 44.0ZM467.5 57.6L466.5 57.7L465.9 57.5L465.1 57.0L464.6 56.5L464.3 56.0L464.0 55.2L463.9 54.5L463.8 53.5L464.0 52.7L464.3 52.0L464.6 51.5L465.0 51.0L465.5 50.5L466.1 50.0L467.0 49.7L468.0 49.9L468.5 50.2L469.0 50.8L469.5 51.5L469.7 52.0L469.9 53.0L469.9 54.0L469.7 55.0L469.5 55.6L469.0 56.4L468.5 57.0L468.0 57.3L467.5 57.6ZM479.5 56.6L478.5 56.7L477.7 56.5L477.0 56.1L476.5 55.5L476.2 55.0L476.0 54.2L475.9 53.5L476.0 53.0L476.4 52.0L476.8 51.5L477.4 51.0L478.0 50.7L479.0 50.8L479.5 51.0L480.1 51.5L480.5 52.0L481.0 52.8L481.2 53.5L481.2 54.5L481.0 55.2L480.5 55.9L480.0 56.3L479.5 56.6Z" fill="#4cc46a" fill-rule="evenodd"/><path d="M485.5 43.0L485.0 43.0L484.0 42.5L483.5 42.0L483.2 41.5L483.0 40.7L482.9 40.0L483.0 39.1L483.1 38.5L483.5 37.7L484.0 37.1L484.5 36.7L485.0 36.5L486.0 36.4L486.5 36.6L487.1 37.0L487.5 37.5L488.0 38.5L488.1 39.0L488.1 40.0L488.0 40.6L487.7 41.5L487.3 42.0L486.8 42.5L486.0 42.9L485.5 43.0Z" fill="#98cc30" fill-rule="evenodd"/><path d="M486.5 42.2L485.5 42.4L484.5 42.0L484.0 41.5L483.7 41.0L483.5 40.2L483.4 39.5L483.5 39.0L483.9 38.0L484.2 37.5L484.9 37.0L485.5 36.8L486.4 37.0L487.0 37.4L487.4 38.0L487.6 38.5L487.8 39.5L487.7 40.5L487.5 41.0L487.0 41.8L486.5 42.2Z" fill="#e4d828" fill-rule="evenodd"/><path d="M486.5 41.6L485.5 41.8L484.8 41.5L484.3 41.0L484.0 40.2L483.9 39.5L484.0 38.9L484.4 38.0L485.0 37.5L485.5 37.4L486.3 37.5L486.9 38.0L487.2 38.5L487.4 39.5L487.2 40.5L487.0 41.1L486.5 41.6Z" fill="#f29a20" fill-rule="evenodd"/><path d="M486.5 41.0L486.0 41.3L485.5 41.3L485.0 41.1L484.9 41.0L484.5 40.5L484.5 40.5L484.4 40.0L484.3 39.5L484.4 39.0L484.5 38.7L484.6 38.5L485.0 38.1L485.2 38.0L485.5 37.9L486.0 37.9L486.2 38.0L486.5 38.3L486.7 38.5L486.9 39.0L487.0 39.4L487.0 39.5L487.0 39.8L487.0 40.0L486.8 40.5L486.5 41.0L486.5 41.0Z" fill="#e63c18" fill-rule="evenodd"/></g>
<path d="M469.5 32.0h.9v.9h-.9zM478.0 65.5h.9v.9h-.9zM475.0 39.0h.9v.9h-.9zM492.5 49.5h.9v.9h-.9zM461.5 32.5h.9v.9h-.9zM467.5 67.5h.9v.9h-.9zM477.5 71.0h.9v.9h-.9zM479.5 34.0h.9v.9h-.9zM475.0 74.0h.9v.9h-.9zM469.5 29.5h.9v.9h-.9zM467.0 66.5h.9v.9h-.9zM463.0 37.0h.9v.9h-.9zM456.5 34.5h.9v.9h-.9zM457.5 31.0h.9v.9h-.9zM488.5 52.0h.9v.9h-.9zM469.0 75.0h.9v.9h-.9zM465.5 35.5h.9v.9h-.9zM491.5 38.0h.9v.9h-.9zM487.0 60.5h.9v.9h-.9zM474.0 41.5h.9v.9h-.9zM463.0 39.5h.9v.9h-.9zM491.0 62.0h.9v.9h-.9zM494.0 59.0h.9v.9h-.9zM461.5 31.5h.9v.9h-.9zM484.0 72.5h.9v.9h-.9zM487.0 32.0h.9v.9h-.9zM488.5 60.0h.9v.9h-.9zM470.0 38.0h.9v.9h-.9zM475.5 35.5h.9v.9h-.9zM473.0 36.0h.9v.9h-.9zM461.5 64.0h.9v.9h-.9zM485.0 60.0h.9v.9h-.9zM466.0 70.0h.9v.9h-.9zM484.0 62.0h.9v.9h-.9zM476.5 70.0h.9v.9h-.9zM474.0 74.0h.9v.9h-.9zM491.0 45.0h.9v.9h-.9zM481.0 70.5h.9v.9h-.9zM473.0 33.0h.9v.9h-.9zM495.0 53.0h.9v.9h-.9zM489.0 53.0h.9v.9h-.9zM474.0 71.5h.9v.9h-.9zM483.0 77.0h.9v.9h-.9zM462.5 37.5h.9v.9h-.9zM460.0 36.0h.9v.9h-.9zM470.5 38.5h.9v.9h-.9zM460.5 44.5h.9v.9h-.9zM457.5 34.0h.9v.9h-.9zM482.5 62.5h.9v.9h-.9zM464.5 70.0h.9v.9h-.9zM468.0 73.5h.9v.9h-.9zM468.0 70.5h.9v.9h-.9zM462.5 39.5h.9v.9h-.9zM485.5 56.5h.9v.9h-.9zM483.5 64.5h.9v.9h-.9zM470.5 27.5h.9v.9h-.9zM464.0 72.0h.9v.9h-.9zM477.5 72.5h.9v.9h-.9zM462.0 39.5h.9v.9h-.9zM459.5 29.0h.9v.9h-.9zM478.0 70.0h.9v.9h-.9zM468.0 30.5h.9v.9h-.9zM483.0 69.5h.9v.9h-.9zM487.0 64.5h.9v.9h-.9zM468.0 69.5h.9v.9h-.9zM462.0 63.5h.9v.9h-.9zM458.0 63.0h.9v.9h-.9zM474.5 37.0h.9v.9h-.9zM473.5 38.0h.9v.9h-.9zM485.0 32.5h.9v.9h-.9zM476.0 30.0h.9v.9h-.9zM490.0 57.0h.9v.9h-.9zM457.0 49.5h.9v.9h-.9zM457.5 56.0h.9v.9h-.9zM472.5 29.0h.9v.9h-.9zM477.5 72.5h.9v.9h-.9zM493.0 41.0h.9v.9h-.9zM491.5 58.0h.9v.9h-.9zM492.5 53.0h.9v.9h-.9zM478.0 36.5h.9v.9h-.9zM475.0 70.0h.9v.9h-.9zM475.0 38.0h.9v.9h-.9zM459.0 44.5h.9v.9h-.9zM467.0 78.5h.9v.9h-.9zM486.5 75.5h.9v.9h-.9zM461.5 28.5h.9v.9h-.9zM488.0 64.5h.9v.9h-.9zM462.5 33.0h.9v.9h-.9zM457.5 48.5h.9v.9h-.9zM459.0 63.5h.9v.9h-.9zM465.0 74.0h.9v.9h-.9zM485.0 60.5h.9v.9h-.9zM465.0 67.0h.9v.9h-.9zM487.0 68.5h.9v.9h-.9zM475.0 72.0h.9v.9h-.9zM457.5 48.5h.9v.9h-.9zM493.0 40.5h.9v.9h-.9zM463.0 34.0h.9v.9h-.9zM467.5 32.0h.9v.9h-.9zM476.0 68.0h.9v.9h-.9zM461.0 46.5h.9v.9h-.9zM483.0 76.5h.9v.9h-.9zM455.0 48.0h.9v.9h-.9zM466.0 34.5h.9v.9h-.9zM461.0 66.0h.9v.9h-.9zM465.5 37.5h.9v.9h-.9zM465.5 33.5h.9v.9h-.9zM458.5 66.5h.9v.9h-.9zM467.5 76.5h.9v.9h-.9zM491.5 62.0h.9v.9h-.9zM469.5 77.0h.9v.9h-.9zM488.0 68.5h.9v.9h-.9zM468.0 30.5h.9v.9h-.9zM456.0 53.0h.9v.9h-.9zM491.0 56.5h.9v.9h-.9zM473.5 33.0h.9v.9h-.9zM475.5 73.5h.9v.9h-.9zM491.0 53.5h.9v.9h-.9zM481.5 71.0h.9v.9h-.9zM462.0 28.5h.9v.9h-.9zM463.0 43.0h.9v.9h-.9zM468.0 41.5h.9v.9h-.9zM487.5 54.0h.9v.9h-.9zM490.5 56.0h.9v.9h-.9zM484.0 73.0h.9v.9h-.9zM485.5 65.5h.9v.9h-.9zM469.0 69.5h.9v.9h-.9zM460.5 39.0h.9v.9h-.9zM483.5 72.5h.9v.9h-.9zM467.5 38.5h.9v.9h-.9zM488.0 55.5h.9v.9h-.9zM489.0 46.5h.9v.9h-.9zM488.5 66.0h.9v.9h-.9zM464.5 29.0h.9v.9h-.9zM492.0 39.0h.9v.9h-.9zM463.5 39.5h.9v.9h-.9zM457.0 58.5h.9v.9h-.9zM486.5 65.0h.9v.9h-.9zM477.0 38.0h.9v.9h-.9zM457.5 56.5h.9v.9h-.9zM486.5 63.5h.9v.9h-.9zM474.5 72.0h.9v.9h-.9zM484.0 30.0h.9v.9h-.9zM472.5 39.0h.9v.9h-.9zM465.5 27.5h.9v.9h-.9zM491.5 40.5h.9v.9h-.9zM462.0 66.5h.9v.9h-.9zM457.5 57.0h.9v.9h-.9zM456.5 48.5h.9v.9h-.9zM487.5 69.5h.9v.9h-.9zM477.5 37.5h.9v.9h-.9zM469.5 68.5h.9v.9h-.9zM477.5 30.5h.9v.9h-.9zM479.5 34.5h.9v.9h-.9zM465.0 30.0h.9v.9h-.9zM473.0 31.5h.9v.9h-.9zM460.0 27.0h.9v.9h-.9zM458.5 47.5h.9v.9h-.9zM493.5 51.5h.9v.9h-.9zM475.5 69.0h.9v.9h-.9zM466.0 71.5h.9v.9h-.9zM492.0 57.5h.9v.9h-.9zM469.5 73.0h.9v.9h-.9zM490.0 62.0h.9v.9h-.9zM488.0 67.5h.9v.9h-.9zM465.0 69.5h.9v.9h-.9zM479.0 71.0h.9v.9h-.9zM479.0 72.0h.9v.9h-.9zM469.0 34.0h.9v.9h-.9zM459.5 42.5h.9v.9h-.9zM491.5 51.0h.9v.9h-.9zM466.0 40.5h.9v.9h-.9zM477.0 40.5h.9v.9h-.9zM460.0 42.0h.9v.9h-.9zM477.0 39.0h.9v.9h-.9zM475.5 34.5h.9v.9h-.9zM491.5 60.0h.9v.9h-.9zM461.5 59.5h.9v.9h-.9zM465.5 78.0h.9v.9h-.9zM470.0 74.0h.9v.9h-.9zM470.5 35.5h.9v.9h-.9zM457.5 60.5h.9v.9h-.9zM470.0 71.0h.9v.9h-.9zM476.5 35.5h.9v.9h-.9zM458.5 32.5h.9v.9h-.9zM470.0 34.0h.9v.9h-.9zM464.0 64.0h.9v.9h-.9zM476.5 75.0h.9v.9h-.9zM465.0 63.0h.9v.9h-.9zM472.5 38.5h.9v.9h-.9zM461.0 62.0h.9v.9h-.9zM489.0 31.5h.9v.9h-.9zM470.0 40.0h.9v.9h-.9zM491.5 61.0h.9v.9h-.9zM467.5 29.0h.9v.9h-.9zM465.5 35.5h.9v.9h-.9zM481.0 32.0h.9v.9h-.9zM489.5 63.0h.9v.9h-.9zM471.5 41.0h.9v.9h-.9zM486.5 62.0h.9v.9h-.9z" fill="#3a58c8" opacity="0.85"/>
<line x1="473.00" y1="4.70" x2="473.00" y2="81.40" stroke="#1a1a1a" stroke-width="1.3"/>
<line x1="443.40" y1="44.40" x2="522.00" y2="44.40" stroke="#1a1a1a" stroke-width="1.3"/>
<line x1="430.50" y1="92.00" x2="430.50" y2="26.00" stroke="#111" stroke-width="1.3"/>
<path d="M430.50 20.00 L427.80 27.50 L433.20 27.50 Z" fill="#111"/>
<line x1="429.85" y1="91.40" x2="506.60" y2="91.40" stroke="#111" stroke-width="1.3"/>
<path d="M512.60 91.40 L505.10 88.70 L505.10 94.10 Z" fill="#111"/>
<text x="426.80" y="53.80" font-size="10" text-anchor="middle" fill="#1e1e1e" transform="rotate(-90 426.8 53.8)">CCR7</text>
<text x="470.00" y="102.50" font-size="10" text-anchor="middle" fill="#1e1e1e">CD45RA</text>
<rect x="224.40" y="110.70" width="76.10" height="76.40" fill="none" stroke="#8a8a8a" stroke-width="0.8"/>
<line x1="222.90" y1="127.20" x2="224.40" y2="127.20" stroke="#999" stroke-width="0.6"/>
<text x="222.20" y="128.80" font-size="4.8" text-anchor="end" fill="#707070">10<tspan font-size="3.36" dy="-1.6">3</tspan></text>
<line x1="222.90" y1="144.20" x2="224.40" y2="144.20" stroke="#999" stroke-width="0.6"/>
<text x="222.20" y="145.80" font-size="4.8" text-anchor="end" fill="#707070">10<tspan font-size="3.36" dy="-1.6">2</tspan></text>
<line x1="222.90" y1="160.70" x2="224.40" y2="160.70" stroke="#999" stroke-width="0.6"/>
<text x="222.20" y="162.30" font-size="4.8" text-anchor="end" fill="#707070">10<tspan font-size="3.36" dy="-1.6">1</tspan></text>
<line x1="222.90" y1="180.90" x2="224.40" y2="180.90" stroke="#999" stroke-width="0.6"/>
<text x="222.20" y="182.50" font-size="4.8" text-anchor="end" fill="#707070">0</text>
<line x1="236.90" y1="187.10" x2="236.90" y2="188.60" stroke="#999" stroke-width="0.6"/>
<text x="236.90" y="193.30" font-size="4.8" text-anchor="middle" fill="#707070">0</text>
<line x1="246.40" y1="187.10" x2="246.40" y2="188.60" stroke="#999" stroke-width="0.6"/>
<text x="246.40" y="193.30" font-size="4.8" text-anchor="middle" fill="#707070">10<tspan font-size="3.36" dy="-1.6">1</tspan></text>
<line x1="266.40" y1="187.10" x2="266.40" y2="188.60" stroke="#999" stroke-width="0.6"/>
<text x="266.40" y="193.30" font-size="4.8" text-anchor="middle" fill="#707070">10<tspan font-size="3.36" dy="-1.6">2</tspan></text>
<line x1="283.90" y1="187.10" x2="283.90" y2="188.60" stroke="#999" stroke-width="0.6"/>
<text x="283.90" y="193.30" font-size="4.8" text-anchor="middle" fill="#707070">10<tspan font-size="3.36" dy="-1.6">3</tspan></text>
<line x1="300.40" y1="187.10" x2="300.40" y2="188.60" stroke="#999" stroke-width="0.6"/>
<text x="300.40" y="193.30" font-size="4.8" text-anchor="middle" fill="#707070">10<tspan font-size="3.36" dy="-1.6">4</tspan></text>
<line x1="229.83" y1="187.10" x2="229.83" y2="187.90" stroke="#bbb" stroke-width="0.4"/>
<line x1="235.26" y1="187.10" x2="235.26" y2="187.90" stroke="#bbb" stroke-width="0.4"/>
<line x1="240.69" y1="187.10" x2="240.69" y2="187.90" stroke="#bbb" stroke-width="0.4"/>
<line x1="246.11" y1="187.10" x2="246.11" y2="187.90" stroke="#bbb" stroke-width="0.4"/>
<line x1="251.54" y1="187.10" x2="251.54" y2="187.90" stroke="#bbb" stroke-width="0.4"/>
<line x1="256.97" y1="187.10" x2="256.97" y2="187.90" stroke="#bbb" stroke-width="0.4"/>
<line x1="262.40" y1="187.10" x2="262.40" y2="187.90" stroke="#bbb" stroke-width="0.4"/>
<line x1="267.83" y1="187.10" x2="267.83" y2="187.90" stroke="#bbb" stroke-width="0.4"/>
<line x1="273.26" y1="187.10" x2="273.26" y2="187.90" stroke="#bbb" stroke-width="0.4"/>
<line x1="278.69" y1="187.10" x2="278.69" y2="187.90" stroke="#bbb" stroke-width="0.4"/>
<line x1="284.11" y1="187.10" x2="284.11" y2="187.90" stroke="#bbb" stroke-width="0.4"/>
<line x1="289.54" y1="187.10" x2="289.54" y2="187.90" stroke="#bbb" stroke-width="0.4"/>
<line x1="294.97" y1="187.10" x2="294.97" y2="187.90" stroke="#bbb" stroke-width="0.4"/>
<g filter="url(#bl45)"><path d="M267.5 159.5L266.5 159.7L265.5 159.8L264.5 159.8L263.5 159.9L262.5 159.9L261.5 159.9L260.5 159.9L259.5 159.9L258.5 159.8L257.5 159.8L256.5 159.7L255.5 159.5L255.0 159.5L254.0 159.3L253.0 159.1L252.5 159.0L251.5 158.7L250.7 158.5L250.0 158.3L249.3 158.0L248.5 157.6L248.0 157.3L247.5 157.0L246.8 156.5L246.4 156.0L246.1 155.0L246.5 154.0L246.9 153.5L247.5 153.0L248.0 152.7L248.5 152.4L249.4 152.0L250.0 151.7L250.7 151.5L251.5 151.3L252.5 151.0L253.0 150.9L254.0 150.7L255.0 150.5L255.5 150.5L256.5 150.3L257.5 150.2L258.5 150.2L259.5 150.1L260.5 150.1L261.5 150.1L262.5 150.1L263.5 150.1L264.5 150.2L265.5 150.2L266.5 150.3L267.5 150.5L268.0 150.5L269.0 150.7L270.0 150.9L270.5 151.0L271.5 151.3L272.3 151.5L273.0 151.7L273.6 152.0L274.5 152.4L275.0 152.7L275.5 153.0L276.1 153.5L276.5 154.0L276.8 155.0L276.5 156.0L276.1 156.5L275.5 157.0L275.0 157.3L274.5 157.6L273.6 158.0L273.0 158.3L272.3 158.5L271.5 158.7L270.5 159.0L270.0 159.1L269.0 159.3L268.0 159.5L267.5 159.5ZM241.0 181.5L239.0 181.5L238.0 180.5L237.4 179.5L236.8 178.0L236.0 176.8L235.0 175.9L234.0 174.8L233.2 173.5L232.6 172.0L232.1 170.5L231.9 169.0L231.9 167.0L232.0 165.5L232.5 163.7L233.0 162.5L233.8 161.0L234.6 160.0L235.7 159.0L237.0 158.2L238.5 157.7L240.5 157.6L242.1 158.0L243.5 158.7L244.5 159.5L245.5 160.6L246.5 162.0L247.5 162.6L249.2 162.5L251.0 162.1L252.5 161.9L254.5 161.6L256.0 161.4L258.0 161.3L260.0 161.2L262.0 161.2L264.0 161.3L265.5 161.5L267.5 161.7L269.2 162.0L271.0 162.3L272.5 162.7L274.0 163.2L275.5 163.8L276.7 164.5L277.8 165.5L278.5 167.0L277.8 168.5L276.7 169.5L275.5 170.2L274.0 170.8L272.5 171.3L271.0 171.7L269.2 172.0L267.5 172.3L265.5 172.5L264.0 172.6L262.0 172.7L260.0 172.8L258.0 172.7L256.0 172.6L254.5 172.4L252.5 172.1L251.0 171.9L249.0 171.5L248.0 171.5L246.9 172.5L246.1 174.0L245.4 175.0L244.5 176.0L243.5 177.1L242.9 178.5L242.3 180.0L241.5 181.1Z" fill="#ccd4ee" fill-rule="evenodd"/><path d="M263.5 159.0L262.5 159.1L261.5 159.1L260.5 159.1L259.5 159.0L259.0 159.0L258.0 158.9L257.0 158.8L256.0 158.7L255.0 158.5L254.5 158.4L253.5 158.2L252.9 158.0L252.0 157.7L251.5 157.5L250.5 157.0L250.0 156.7L249.5 156.3L249.0 155.7L248.8 155.0L249.0 154.3L249.5 153.7L250.0 153.3L250.5 153.0L251.5 152.5L252.0 152.3L252.9 152.0L253.5 151.8L254.5 151.6L255.0 151.5L256.0 151.3L257.0 151.2L258.0 151.1L259.0 151.0L259.5 151.0L260.5 150.9L261.5 150.9L262.5 150.9L263.5 151.0L264.0 151.0L265.0 151.1L266.0 151.2L267.0 151.3L268.0 151.5L268.5 151.6L269.5 151.8L270.1 152.0L271.0 152.3L271.5 152.5L272.5 153.0L273.0 153.3L273.5 153.7L274.0 154.3L274.2 155.0L274.0 155.7L273.5 156.3L273.0 156.7L272.5 157.0L271.5 157.5L271.0 157.7L270.1 158.0L269.5 158.2L268.5 158.4L268.0 158.5L267.0 158.7L266.0 158.8L265.0 158.9L264.0 159.0L263.5 159.0ZM240.5 180.2L239.0 179.9L238.1 178.5L237.5 177.0L236.7 176.0L235.6 175.0L234.7 174.0L234.0 172.9L233.4 171.5L232.9 170.0L232.7 168.0L232.8 166.0L233.1 164.5L233.7 163.0L234.5 161.7L235.5 160.5L236.5 159.6L237.8 159.0L239.5 158.6L241.5 158.9L242.8 159.5L244.0 160.4L245.0 161.5L245.7 162.5L247.0 163.5L248.1 163.5L250.0 163.1L251.5 162.7L253.0 162.4L255.0 162.1L256.6 162.0L258.5 161.9L260.5 161.8L262.5 161.9L264.4 162.0L266.0 162.1L268.0 162.4L269.5 162.7L271.0 163.1L272.5 163.5L274.0 164.2L275.4 165.0L276.4 166.0L276.6 167.5L276.0 168.5L274.7 169.5L273.5 170.1L272.0 170.6L270.5 171.1L268.5 171.5L267.0 171.7L265.0 172.0L263.5 172.1L261.5 172.2L259.5 172.2L257.5 172.1L256.0 172.0L254.0 171.7L252.5 171.5L250.5 171.1L249.0 170.7L247.0 170.9L246.1 172.0L245.5 173.1L244.5 174.5L243.5 175.5L242.7 176.5L242.0 178.0L241.5 179.2L240.5 180.2Z" fill="#9eb0e2" fill-rule="evenodd"/><path d="M263.5 156.5L262.5 156.6L261.5 156.6L260.5 156.6L259.5 156.5L259.0 156.4L258.0 156.2L257.3 156.0L256.5 155.5L256.3 155.0L256.5 154.5L257.3 154.0L258.0 153.8L259.0 153.6L259.5 153.5L260.5 153.4L261.5 153.4L262.5 153.4L263.5 153.5L264.0 153.6L265.0 153.8L265.7 154.0L266.5 154.5L266.7 155.0L266.5 155.5L265.7 156.0L265.0 156.2L264.0 156.4L263.5 156.5ZM240.5 177.5L239.0 177.3L238.0 176.2L237.0 175.2L236.0 174.4L235.0 173.2L234.3 172.0L233.7 170.5L233.4 169.0L233.3 167.0L233.5 165.5L234.0 163.9L234.7 162.5L235.5 161.4L236.5 160.5L238.0 159.7L239.5 159.4L241.0 159.5L242.5 160.1L243.7 161.0L244.6 162.0L245.5 163.3L246.5 164.2L248.5 164.3L250.0 163.8L251.5 163.4L253.4 163.0L255.0 162.8L257.0 162.5L258.5 162.4L260.5 162.4L262.5 162.4L264.0 162.5L266.0 162.8L267.6 163.0L269.5 163.4L271.0 163.8L272.5 164.4L273.5 165.0L274.6 166.0L274.6 168.0L273.5 169.0L272.5 169.6L271.0 170.2L269.5 170.6L267.6 171.0L266.0 171.2L264.0 171.5L262.5 171.6L260.5 171.6L258.5 171.6L257.0 171.5L255.0 171.2L253.4 171.0L251.5 170.6L250.0 170.2L248.5 169.8L246.8 170.0L245.9 171.0L245.1 172.5L244.4 173.5L243.4 174.5L242.4 175.5L241.5 176.7L240.5 177.5Z" fill="#7f97da" fill-rule="evenodd"/><path d="M240.5 175.6L239.5 175.7L239.0 175.5L238.2 175.0L237.5 174.5L237.0 174.2L236.5 173.8L236.0 173.3L235.5 172.7L235.1 172.0L234.8 171.5L234.5 170.8L234.2 170.0L234.0 169.0L234.0 168.5L233.9 167.5L234.0 166.5L234.1 166.0L234.3 165.0L234.5 164.4L234.9 163.5L235.2 163.0L235.5 162.5L236.0 161.9L236.5 161.4L237.1 161.0L238.0 160.5L238.5 160.3L239.5 160.1L240.5 160.2L241.5 160.5L242.0 160.7L242.5 161.0L243.2 161.5L243.7 162.0L244.1 162.5L244.5 163.1L245.0 163.8L245.5 164.4L246.0 165.0L246.4 165.5L246.8 166.0L247.2 166.5L247.3 167.5L247.0 168.0L246.5 168.7L246.0 169.4L245.6 170.0L245.4 170.5L245.0 171.1L244.5 172.0L244.2 172.5L243.8 173.0L243.4 173.5L242.8 174.0L242.2 174.5L241.5 175.0L241.0 175.4L240.5 175.6ZM262.0 170.5L261.0 170.5L260.0 170.5L259.0 170.5L258.5 170.5L257.5 170.4L256.5 170.3L255.5 170.1L254.6 170.0L254.0 169.8L253.0 169.6L252.5 169.4L251.5 169.1L251.0 168.8L250.3 168.5L249.6 168.0L249.1 167.5L248.9 167.0L249.2 166.5L249.7 166.0L250.4 165.5L251.0 165.2L251.5 164.9L252.5 164.6L253.0 164.4L254.0 164.2L254.6 164.0L255.5 163.9L256.5 163.7L257.5 163.6L258.5 163.5L259.0 163.5L260.0 163.5L261.0 163.5L262.0 163.5L262.5 163.5L263.5 163.6L264.5 163.7L265.5 163.9L266.4 164.0L267.0 164.2L268.0 164.4L268.5 164.6L269.5 164.9L270.0 165.2L270.6 165.5L271.1 166.0L271.5 166.5L271.5 167.5L271.1 168.0L270.6 168.5L270.0 168.8L269.5 169.1L268.5 169.4L268.0 169.6L267.0 169.8L266.4 170.0L265.5 170.1L264.5 170.3L263.5 170.4L262.5 170.5L262.0 170.5Z" fill="#6a88d4" fill-rule="evenodd"/><path d="M240.0 174.5L239.4 174.5L238.5 174.2L238.0 173.9L237.3 173.5L236.7 173.0L236.2 172.5L235.8 172.0L235.5 171.5L235.0 170.5L234.9 170.0L234.6 169.0L234.5 168.0L234.5 167.0L234.7 166.0L234.9 165.0L235.1 164.5L235.5 163.7L235.9 163.0L236.4 162.5L236.9 162.0L237.5 161.5L238.0 161.3L238.8 161.0L239.5 160.9L240.5 160.9L241.0 161.1L242.0 161.5L242.5 161.8L243.0 162.2L243.5 162.8L244.0 163.4L244.4 164.0L244.7 164.5L245.0 165.0L245.5 166.0L245.6 166.5L245.7 167.5L245.5 168.5L245.3 169.0L245.0 169.7L244.6 170.5L244.4 171.0L244.0 171.6L243.5 172.4L243.0 172.9L242.5 173.3L242.0 173.7L241.5 174.0L240.5 174.5L240.0 174.5Z" fill="#6aa0cc" fill-rule="evenodd"/><path d="M241.0 173.7L240.0 173.9L239.0 173.8L238.3 173.5L237.5 173.0L237.0 172.6L236.5 172.1L236.0 171.5L235.7 171.0L235.5 170.5L235.2 169.5L235.0 168.7L234.9 168.0L234.9 167.0L235.0 166.5L235.2 165.5L235.5 164.6L235.8 164.0L236.1 163.5L236.5 163.0L237.0 162.5L237.7 162.0L238.5 161.6L239.0 161.5L240.0 161.4L240.7 161.5L241.5 161.8L242.0 162.0L242.6 162.5L243.1 163.0L243.5 163.5L244.0 164.2L244.5 165.0L244.7 165.5L245.0 166.3L245.1 167.0L245.1 168.0L245.0 168.5L244.6 169.5L244.4 170.0L244.0 170.8L243.6 171.5L243.2 172.0L242.7 172.5L242.1 173.0L241.5 173.4L241.0 173.7Z" fill="#64b4b0" fill-rule="evenodd"/><path d="M241.0 173.1L240.0 173.3L239.0 173.2L238.4 173.0L237.5 172.5L237.0 172.0L236.5 171.5L236.2 171.0L235.9 170.5L235.6 169.5L235.4 169.0L235.3 168.0L235.3 167.0L235.5 166.0L235.6 165.5L236.0 164.5L236.3 164.0L236.6 163.5L237.1 163.0L237.7 162.5L238.5 162.1L239.0 161.9L240.0 161.8L240.8 162.0L241.5 162.3L242.0 162.6L242.5 163.0L243.0 163.5L243.5 164.2L244.0 165.0L244.3 165.5L244.5 166.2L244.7 167.0L244.6 168.0L244.5 168.6L244.2 169.5L244.0 170.0L243.5 170.9L243.1 171.5L242.6 172.0L242.1 172.5L241.5 172.9L241.0 173.1Z" fill="#6cbf80" fill-rule="evenodd"/><path d="M241.0 172.5L240.0 172.8L239.0 172.7L238.5 172.5L237.7 172.0L237.1 171.5L236.7 171.0L236.4 170.5L236.0 169.5L235.9 169.0L235.7 168.0L235.7 167.0L235.9 166.0L236.0 165.5L236.5 164.5L236.8 164.0L237.2 163.5L237.8 163.0L238.5 162.6L239.0 162.4L240.0 162.4L240.8 162.5L241.5 162.8L242.0 163.2L242.5 163.6L243.0 164.2L243.5 165.0L243.8 165.5L244.0 166.1L244.2 167.0L244.2 168.0L244.0 168.7L243.7 169.5L243.5 170.0L243.0 170.8L242.5 171.5L242.0 171.9L241.5 172.3L241.0 172.5Z" fill="#8cc858" fill-rule="evenodd"/><path d="M240.5 172.1L239.5 172.2L238.8 172.0L238.0 171.6L237.5 171.1L237.0 170.5L236.7 170.0L236.5 169.5L236.2 168.5L236.2 167.5L236.3 166.5L236.5 165.6L236.8 165.0L237.1 164.5L237.5 164.0L238.1 163.5L239.0 163.0L239.5 162.9L240.4 163.0L241.0 163.2L241.6 163.5L242.2 164.0L242.6 164.5L243.0 165.1L243.4 166.0L243.6 166.5L243.7 167.5L243.5 168.5L243.4 169.0L243.0 169.9L242.6 170.5L242.2 171.0L241.7 171.5L241.0 171.9L240.5 172.1Z" fill="#c4cc3c" fill-rule="evenodd"/><path d="M240.0 171.5L239.5 171.5L238.5 171.1L238.0 170.8L237.5 170.2L237.1 169.5L236.9 169.0L236.7 168.0L236.7 167.0L236.9 166.0L237.1 165.5L237.5 164.9L238.0 164.3L238.5 163.9L239.5 163.6L240.5 163.7L241.2 164.0L241.8 164.5L242.3 165.0L242.6 165.5L243.0 166.4L243.1 167.0L243.1 168.0L243.0 168.5L242.6 169.5L242.3 170.0L241.9 170.5L241.3 171.0L240.5 171.4L240.0 171.5Z" fill="#e6b42c" fill-rule="evenodd"/><path d="M240.5 170.6L239.5 170.7L238.9 170.5L238.3 170.0L237.9 169.5L237.5 168.7L237.3 168.0L237.4 167.0L237.5 166.3L237.9 165.5L238.3 165.0L239.0 164.6L239.5 164.4L240.5 164.5L241.0 164.8L241.5 165.1L242.0 165.8L242.3 166.5L242.5 167.5L242.3 168.5L242.0 169.2L241.5 169.9L241.0 170.3L240.5 170.6Z" fill="#ea8624" fill-rule="evenodd"/><path d="M240.0 169.6L239.3 169.5L238.6 169.0L238.3 168.5L238.2 167.5L238.4 166.5L238.7 166.0L239.4 165.5L240.0 165.4L240.5 165.6L241.1 166.0L241.5 166.6L241.7 167.5L241.5 168.3L241.1 169.0L240.5 169.5L240.0 169.6Z" fill="#e85a20" fill-rule="evenodd"/></g>
<path d="M263.0 153.0h.9v.9h-.9zM255.0 160.0h.9v.9h-.9zM252.0 170.5h.9v.9h-.9zM249.0 167.0h.9v.9h-.9zM259.5 158.0h.9v.9h-.9zM245.5 163.0h.9v.9h-.9zM246.5 165.5h.9v.9h-.9zM267.5 171.0h.9v.9h-.9zM250.5 159.0h.9v.9h-.9zM262.0 171.0h.9v.9h-.9zM253.0 156.5h.9v.9h-.9zM275.5 158.0h.9v.9h-.9zM266.0 158.0h.9v.9h-.9zM252.5 153.0h.9v.9h-.9zM255.5 156.5h.9v.9h-.9zM254.5 158.0h.9v.9h-.9zM272.5 159.5h.9v.9h-.9zM244.0 161.5h.9v.9h-.9zM263.5 155.5h.9v.9h-.9zM254.0 170.0h.9v.9h-.9zM254.0 169.0h.9v.9h-.9zM256.5 155.5h.9v.9h-.9zM236.0 178.0h.9v.9h-.9zM263.5 163.5h.9v.9h-.9zM232.5 171.0h.9v.9h-.9zM241.0 182.0h.9v.9h-.9zM273.5 155.5h.9v.9h-.9zM263.0 172.5h.9v.9h-.9zM258.0 159.5h.9v.9h-.9zM242.5 176.5h.9v.9h-.9zM270.0 151.0h.9v.9h-.9zM273.5 157.0h.9v.9h-.9zM265.5 169.5h.9v.9h-.9zM246.5 166.5h.9v.9h-.9zM233.0 172.5h.9v.9h-.9zM275.5 155.0h.9v.9h-.9zM247.0 155.0h.9v.9h-.9zM255.5 151.0h.9v.9h-.9zM233.5 170.5h.9v.9h-.9zM274.0 168.0h.9v.9h-.9zM272.0 163.0h.9v.9h-.9zM269.5 165.0h.9v.9h-.9zM234.0 172.0h.9v.9h-.9zM273.5 156.5h.9v.9h-.9zM258.0 150.0h.9v.9h-.9zM248.5 167.5h.9v.9h-.9zM263.5 168.5h.9v.9h-.9zM257.0 153.0h.9v.9h-.9zM264.5 169.5h.9v.9h-.9zM273.0 153.0h.9v.9h-.9zM249.0 170.5h.9v.9h-.9zM265.0 172.0h.9v.9h-.9zM235.0 171.0h.9v.9h-.9zM268.0 162.0h.9v.9h-.9zM262.0 163.0h.9v.9h-.9zM257.5 173.0h.9v.9h-.9zM267.0 158.0h.9v.9h-.9zM257.0 162.0h.9v.9h-.9zM249.0 154.0h.9v.9h-.9zM265.5 169.5h.9v.9h-.9zM274.5 170.5h.9v.9h-.9zM262.5 155.0h.9v.9h-.9zM257.5 163.5h.9v.9h-.9zM267.5 150.5h.9v.9h-.9zM255.5 169.5h.9v.9h-.9zM234.5 172.0h.9v.9h-.9zM273.5 153.5h.9v.9h-.9zM266.0 151.5h.9v.9h-.9zM256.0 151.5h.9v.9h-.9zM268.5 167.5h.9v.9h-.9zM273.0 171.5h.9v.9h-.9zM255.5 150.0h.9v.9h-.9zM247.0 162.5h.9v.9h-.9zM269.0 172.0h.9v.9h-.9zM277.0 168.5h.9v.9h-.9zM258.0 156.0h.9v.9h-.9zM240.0 159.5h.9v.9h-.9zM242.0 159.0h.9v.9h-.9zM260.0 167.5h.9v.9h-.9zM245.5 172.0h.9v.9h-.9zM238.0 158.5h.9v.9h-.9zM254.5 172.5h.9v.9h-.9zM240.5 180.5h.9v.9h-.9zM237.5 157.5h.9v.9h-.9zM237.5 180.5h.9v.9h-.9zM268.5 166.0h.9v.9h-.9zM252.0 153.5h.9v.9h-.9zM238.5 175.5h.9v.9h-.9zM254.5 171.0h.9v.9h-.9zM274.0 156.5h.9v.9h-.9zM256.5 157.5h.9v.9h-.9zM248.5 163.5h.9v.9h-.9zM257.0 151.0h.9v.9h-.9zM240.0 180.5h.9v.9h-.9zM249.5 166.0h.9v.9h-.9zM247.5 169.5h.9v.9h-.9zM254.5 161.0h.9v.9h-.9zM268.0 157.0h.9v.9h-.9zM258.0 158.5h.9v.9h-.9zM255.0 170.0h.9v.9h-.9zM233.0 162.5h.9v.9h-.9zM269.5 165.5h.9v.9h-.9zM257.5 157.5h.9v.9h-.9zM275.0 154.0h.9v.9h-.9zM258.5 157.5h.9v.9h-.9zM277.0 154.0h.9v.9h-.9zM268.5 170.5h.9v.9h-.9zM260.5 169.0h.9v.9h-.9zM263.5 166.5h.9v.9h-.9zM265.5 154.5h.9v.9h-.9zM254.5 152.5h.9v.9h-.9zM248.0 165.5h.9v.9h-.9zM253.0 152.5h.9v.9h-.9zM238.5 175.5h.9v.9h-.9zM265.0 154.0h.9v.9h-.9zM264.5 171.0h.9v.9h-.9zM257.0 151.0h.9v.9h-.9zM261.5 161.5h.9v.9h-.9zM252.5 156.0h.9v.9h-.9zM233.0 163.0h.9v.9h-.9zM267.0 162.0h.9v.9h-.9zM232.0 166.5h.9v.9h-.9zM236.0 161.0h.9v.9h-.9zM255.0 156.5h.9v.9h-.9zM247.5 172.0h.9v.9h-.9zM235.0 175.5h.9v.9h-.9zM257.0 163.0h.9v.9h-.9zM240.0 175.5h.9v.9h-.9zM245.5 175.0h.9v.9h-.9zM262.0 153.0h.9v.9h-.9zM267.0 152.5h.9v.9h-.9zM241.5 157.5h.9v.9h-.9zM258.5 163.5h.9v.9h-.9zM260.5 171.5h.9v.9h-.9zM264.5 155.0h.9v.9h-.9zM267.5 151.5h.9v.9h-.9zM255.5 170.5h.9v.9h-.9zM277.5 155.5h.9v.9h-.9zM269.5 150.5h.9v.9h-.9zM264.0 151.0h.9v.9h-.9zM264.0 170.0h.9v.9h-.9zM272.0 158.0h.9v.9h-.9zM275.5 157.0h.9v.9h-.9zM278.0 166.5h.9v.9h-.9zM272.0 158.5h.9v.9h-.9zM237.5 175.5h.9v.9h-.9zM263.5 171.0h.9v.9h-.9zM269.0 163.5h.9v.9h-.9zM272.0 167.0h.9v.9h-.9zM267.0 150.0h.9v.9h-.9zM234.5 172.5h.9v.9h-.9zM254.0 171.5h.9v.9h-.9zM237.0 175.5h.9v.9h-.9zM275.5 156.0h.9v.9h-.9zM257.5 158.5h.9v.9h-.9zM246.5 153.0h.9v.9h-.9zM259.0 161.0h.9v.9h-.9zM265.5 154.5h.9v.9h-.9zM270.0 153.0h.9v.9h-.9zM262.0 153.0h.9v.9h-.9zM263.0 151.5h.9v.9h-.9zM271.5 169.0h.9v.9h-.9zM240.5 177.0h.9v.9h-.9zM235.5 174.5h.9v.9h-.9zM257.0 151.5h.9v.9h-.9zM231.5 164.5h.9v.9h-.9zM253.0 169.5h.9v.9h-.9zM275.5 164.0h.9v.9h-.9zM260.0 163.5h.9v.9h-.9zM263.0 154.0h.9v.9h-.9zM236.5 174.0h.9v.9h-.9zM265.5 152.0h.9v.9h-.9zM257.0 171.0h.9v.9h-.9zM269.0 169.5h.9v.9h-.9zM264.0 151.5h.9v.9h-.9zM265.0 153.5h.9v.9h-.9zM237.5 159.0h.9v.9h-.9zM247.5 165.0h.9v.9h-.9zM232.5 168.5h.9v.9h-.9zM247.5 153.5h.9v.9h-.9zM268.0 171.5h.9v.9h-.9zM237.0 175.5h.9v.9h-.9zM252.5 169.0h.9v.9h-.9zM249.0 163.0h.9v.9h-.9zM246.0 173.5h.9v.9h-.9zM233.0 171.0h.9v.9h-.9zM255.0 165.0h.9v.9h-.9zM257.5 169.0h.9v.9h-.9zM241.5 175.0h.9v.9h-.9zM260.5 157.0h.9v.9h-.9zM237.0 160.5h.9v.9h-.9zM266.5 154.5h.9v.9h-.9zM236.0 177.0h.9v.9h-.9zM241.0 176.5h.9v.9h-.9zM259.5 153.5h.9v.9h-.9zM261.5 154.5h.9v.9h-.9zM241.0 180.5h.9v.9h-.9zM264.5 152.5h.9v.9h-.9zM270.5 170.0h.9v.9h-.9zM256.5 150.5h.9v.9h-.9z" fill="#5070c0" opacity="0.85"/>
<line x1="247.00" y1="110.70" x2="247.00" y2="187.10" stroke="#1a1a1a" stroke-width="1.3"/>
<line x1="224.40" y1="161.10" x2="300.50" y2="161.10" stroke="#1a1a1a" stroke-width="1.3"/>
<line x1="210.60" y1="202.90" x2="210.60" y2="137.20" stroke="#111" stroke-width="1.3"/>
<path d="M210.60 131.20 L207.90 138.70 L213.30 138.70 Z" fill="#111"/>
<line x1="209.95" y1="202.30" x2="285.40" y2="202.30" stroke="#111" stroke-width="1.3"/>
<path d="M291.40 202.30 L283.90 199.60 L283.90 205.00 Z" fill="#111"/>
<text x="206.00" y="165.20" font-size="10" text-anchor="middle" fill="#1e1e1e" transform="rotate(-90 206.0 165.2)">CD28</text>
<text x="242.70" y="212.80" font-size="10" text-anchor="middle" fill="#1e1e1e">CD27</text>
<rect x="335.70" y="110.30" width="75.10" height="76.80" fill="none" stroke="#8a8a8a" stroke-width="0.8"/>
<line x1="334.20" y1="126.80" x2="335.70" y2="126.80" stroke="#999" stroke-width="0.6"/>
<text x="333.50" y="128.40" font-size="4.8" text-anchor="end" fill="#707070">10<tspan font-size="3.36" dy="-1.6">3</tspan></text>
<line x1="334.20" y1="143.80" x2="335.70" y2="143.80" stroke="#999" stroke-width="0.6"/>
<text x="333.50" y="145.40" font-size="4.8" text-anchor="end" fill="#707070">10<tspan font-size="3.36" dy="-1.6">2</tspan></text>
<line x1="334.20" y1="160.30" x2="335.70" y2="160.30" stroke="#999" stroke-width="0.6"/>
<text x="333.50" y="161.90" font-size="4.8" text-anchor="end" fill="#707070">10<tspan font-size="3.36" dy="-1.6">1</tspan></text>
<line x1="334.20" y1="180.50" x2="335.70" y2="180.50" stroke="#999" stroke-width="0.6"/>
<text x="333.50" y="182.10" font-size="4.8" text-anchor="end" fill="#707070">0</text>
<line x1="348.20" y1="187.10" x2="348.20" y2="188.60" stroke="#999" stroke-width="0.6"/>
<text x="348.20" y="193.30" font-size="4.8" text-anchor="middle" fill="#707070">0</text>
<line x1="357.70" y1="187.10" x2="357.70" y2="188.60" stroke="#999" stroke-width="0.6"/>
<text x="357.70" y="193.30" font-size="4.8" text-anchor="middle" fill="#707070">10<tspan font-size="3.36" dy="-1.6">1</tspan></text>
<line x1="377.70" y1="187.10" x2="377.70" y2="188.60" stroke="#999" stroke-width="0.6"/>
<text x="377.70" y="193.30" font-size="4.8" text-anchor="middle" fill="#707070">10<tspan font-size="3.36" dy="-1.6">2</tspan></text>
<line x1="395.20" y1="187.10" x2="395.20" y2="188.60" stroke="#999" stroke-width="0.6"/>
<text x="395.20" y="193.30" font-size="4.8" text-anchor="middle" fill="#707070">10<tspan font-size="3.36" dy="-1.6">3</tspan></text>
<line x1="411.70" y1="187.10" x2="411.70" y2="188.60" stroke="#999" stroke-width="0.6"/>
<text x="411.70" y="193.30" font-size="4.8" text-anchor="middle" fill="#707070">10<tspan font-size="3.36" dy="-1.6">4</tspan></text>
<line x1="341.13" y1="187.10" x2="341.13" y2="187.90" stroke="#bbb" stroke-width="0.4"/>
<line x1="346.56" y1="187.10" x2="346.56" y2="187.90" stroke="#bbb" stroke-width="0.4"/>
<line x1="351.99" y1="187.10" x2="351.99" y2="187.90" stroke="#bbb" stroke-width="0.4"/>
<line x1="357.41" y1="187.10" x2="357.41" y2="187.90" stroke="#bbb" stroke-width="0.4"/>
<line x1="362.84" y1="187.10" x2="362.84" y2="187.90" stroke="#bbb" stroke-width="0.4"/>
<line x1="368.27" y1="187.10" x2="368.27" y2="187.90" stroke="#bbb" stroke-width="0.4"/>
<line x1="373.70" y1="187.10" x2="373.70" y2="187.90" stroke="#bbb" stroke-width="0.4"/>
<line x1="379.13" y1="187.10" x2="379.13" y2="187.90" stroke="#bbb" stroke-width="0.4"/>
<line x1="384.56" y1="187.10" x2="384.56" y2="187.90" stroke="#bbb" stroke-width="0.4"/>
<line x1="389.99" y1="187.10" x2="389.99" y2="187.90" stroke="#bbb" stroke-width="0.4"/>
<line x1="395.41" y1="187.10" x2="395.41" y2="187.90" stroke="#bbb" stroke-width="0.4"/>
<line x1="400.84" y1="187.10" x2="400.84" y2="187.90" stroke="#bbb" stroke-width="0.4"/>
<line x1="406.27" y1="187.10" x2="406.27" y2="187.90" stroke="#bbb" stroke-width="0.4"/>
<g filter="url(#bl45)"><path d="M369.0 173.0L365.5 173.2L362.5 173.0L359.1 172.5L356.5 171.9L353.7 171.0L351.3 170.0L349.0 168.8L347.0 167.5L345.0 166.0L343.0 164.1L341.5 162.3L340.0 160.1L339.0 158.0L338.0 155.1L337.5 152.0L337.7 148.5L338.4 145.5L339.4 143.0L340.6 141.0L342.1 139.0L343.9 137.0L345.6 135.5L347.7 134.0L350.0 132.5L352.0 131.3L354.4 130.0L356.9 129.0L359.5 128.3L363.0 128.0L366.5 128.3L369.5 128.8L372.5 129.4L375.1 130.0L378.0 130.9L380.5 131.9L382.6 133.0L385.0 134.5L387.0 136.0L388.6 137.5L390.4 139.5L391.7 141.5L393.0 143.9L393.9 146.5L394.4 149.5L394.7 152.5L395.6 155.0L396.7 157.5L397.3 160.5L396.9 163.5L395.8 166.0L394.0 168.0L392.0 169.3L389.5 170.2L386.5 170.6L383.5 170.4L380.0 170.5L377.5 171.3L375.0 172.0L372.0 172.7L369.0 173.0Z" fill="#ccd4ee" fill-rule="evenodd"/><path d="M389.0 169.1L386.0 169.3L383.5 168.8L381.1 168.0L379.0 167.3L376.5 167.5L374.0 168.3L371.5 168.9L369.0 169.2L366.0 169.4L363.0 169.2L360.5 168.9L358.0 168.3L355.5 167.5L353.5 166.6L351.5 165.5L349.9 164.5L348.1 163.0L346.6 161.5L345.4 160.0L344.1 158.0L343.2 156.0L342.6 153.5L342.3 151.0L342.6 148.5L343.2 146.0L344.1 144.0L345.4 142.0L346.6 140.5L348.0 138.9L349.5 137.2L350.9 135.5L352.2 134.0L353.9 132.5L355.5 131.4L357.5 130.4L360.0 129.7L363.0 129.6L365.9 130.0L368.0 130.7L370.0 131.6L372.0 132.6L374.0 133.5L376.5 134.5L378.5 135.4L380.5 136.5L382.1 137.5L383.9 139.0L385.4 140.5L386.6 142.0L387.9 144.0L388.8 146.0L389.4 148.5L389.9 151.0L391.0 152.7L392.5 154.1L394.0 155.8L395.1 157.5L395.9 160.0L395.8 163.0L395.0 165.0L393.5 166.8L391.9 168.0L389.5 169.0Z" fill="#9eb0e2" fill-rule="evenodd"/><path d="M389.5 168.0L387.0 168.4L384.5 168.0L383.0 167.5L381.2 166.5L379.8 165.5L378.5 164.5L376.5 163.8L374.5 164.3L372.5 165.0L370.5 165.4L368.5 165.7L366.0 165.8L363.5 165.7L361.5 165.4L359.5 165.0L357.5 164.3L355.7 163.5L354.0 162.5L352.5 161.5L351.3 160.5L350.0 159.1L349.0 157.7L348.0 156.0L347.5 154.5L347.0 152.3L347.0 150.0L347.3 148.0L348.0 146.1L348.8 144.5L349.5 143.0L350.2 141.0L350.9 139.0L351.5 137.5L352.5 135.7L353.5 134.4L355.0 133.0L356.5 132.0L358.0 131.3L360.0 130.7L362.5 130.5L365.0 130.8L367.0 131.5L368.5 132.2L370.0 133.2L371.5 134.5L372.6 135.5L374.0 136.9L375.5 138.0L377.0 138.9L378.5 139.8L380.0 140.9L381.2 142.0L382.5 143.5L383.4 145.0L384.2 146.5L384.8 148.5L385.2 150.5L386.0 152.0L387.8 153.0L389.5 153.8L391.0 154.6L392.5 155.8L393.5 157.0L394.5 158.8L395.0 161.0L394.6 163.5L393.8 165.0L392.5 166.5L391.0 167.5L389.5 168.0Z" fill="#7f97da" fill-rule="evenodd"/><path d="M368.0 158.6L366.5 158.7L365.0 158.7L363.5 158.5L362.5 158.2L361.5 157.9L360.5 157.5L359.5 156.9L358.5 156.1L357.9 155.5L357.1 154.5L356.6 153.5L356.2 152.5L355.9 151.5L355.5 150.0L355.0 149.0L354.5 148.0L354.0 147.1L353.5 146.1L353.1 145.0L352.7 144.0L352.5 143.0L352.3 141.5L352.4 140.0L352.5 139.0L353.0 137.5L353.5 136.5L354.0 135.7L354.5 135.0L355.5 134.0L356.1 133.5L357.0 132.9L358.0 132.4L359.0 132.0L360.5 131.6L362.0 131.5L363.5 131.6L365.0 131.9L366.0 132.2L367.0 132.7L368.0 133.3L369.0 134.0L369.5 134.5L370.4 135.5L371.0 136.3L371.5 137.2L372.0 138.2L372.5 139.5L372.7 140.5L373.0 142.0L373.1 143.0L373.4 144.5L373.7 145.5L374.3 146.5L374.9 147.5L375.4 148.5L375.8 149.5L376.0 151.0L375.8 152.5L375.4 153.5L374.9 154.5L374.1 155.5L373.5 156.1L372.5 156.9L371.5 157.5L370.5 157.9L369.5 158.2L368.5 158.5ZM388.5 167.1L387.5 167.2L386.5 167.2L385.5 167.0L385.0 166.9L384.0 166.6L383.5 166.3L382.9 166.0L382.2 165.5L381.6 165.0L381.1 164.5L380.7 164.0L380.4 163.5L380.0 162.8L379.6 162.0L379.5 161.5L379.3 160.5L379.3 159.5L379.5 158.5L379.6 158.0L380.0 157.3L380.5 156.7L381.0 156.2L381.5 155.9L382.1 155.5L383.0 155.1L383.5 155.0L384.5 154.8L385.5 154.7L386.5 154.7L387.5 154.8L388.3 155.0L389.0 155.2L389.6 155.5L390.5 156.0L391.0 156.3L391.5 156.7L392.0 157.2L392.5 157.8L393.0 158.5L393.2 159.0L393.5 159.8L393.7 160.5L393.7 161.5L393.6 162.5L393.4 163.0L393.0 164.0L392.7 164.5L392.3 165.0L391.8 165.5L391.1 166.0L390.5 166.4L390.0 166.6L389.0 167.0L388.5 167.1Z" fill="#6a88d4" fill-rule="evenodd"/><path d="M364.5 148.1L363.5 148.3L362.5 148.4L361.5 148.3L360.5 148.2L359.7 148.0L359.0 147.8L358.3 147.5L357.5 147.1L357.0 146.7L356.5 146.4L356.0 145.9L355.5 145.4L355.0 144.7L354.6 144.0L354.3 143.5L354.0 142.6L353.8 142.0L353.7 141.0L353.7 140.0L353.8 139.0L354.0 138.1L354.2 137.5L354.5 136.9L355.0 136.1L355.4 135.5L355.9 135.0L356.4 134.5L357.0 134.0L357.5 133.7L358.0 133.4L359.0 133.0L359.5 132.8L360.5 132.6L361.0 132.5L362.0 132.4L363.0 132.5L363.5 132.5L364.5 132.7L365.3 133.0L366.0 133.3L366.5 133.5L367.2 134.0L367.9 134.5L368.4 135.0L368.9 135.5L369.3 136.0L369.7 136.5L370.0 137.1L370.4 138.0L370.6 138.5L370.8 139.5L370.9 140.5L370.8 141.5L370.6 142.5L370.5 143.0L370.0 144.0L369.7 144.5L369.4 145.0L369.0 145.5L368.5 146.0L367.9 146.5L367.1 147.0L366.5 147.3L366.0 147.6L365.0 147.9L364.5 148.1ZM389.0 165.5L388.0 165.7L387.0 165.8L386.0 165.7L385.2 165.5L384.5 165.2L384.0 165.0L383.3 164.5L382.8 164.0L382.4 163.5L382.0 162.9L381.6 162.0L381.5 161.3L381.5 160.5L381.5 160.0L381.9 159.0L382.1 158.5L382.5 158.0L383.0 157.5L383.8 157.0L384.5 156.7L385.0 156.5L386.0 156.3L387.0 156.3L388.0 156.5L388.5 156.6L389.4 157.0L390.0 157.4L390.5 157.8L391.0 158.3L391.5 158.9L391.8 159.5L392.0 160.1L392.2 161.0L392.1 162.0L392.0 162.5L391.5 163.5L391.2 164.0L390.7 164.5L390.0 165.0L389.5 165.3L389.0 165.5Z" fill="#6aa0cc" fill-rule="evenodd"/><path d="M364.0 147.1L363.0 147.2L362.0 147.3L361.0 147.2L360.0 147.0L359.5 146.8L358.6 146.5L358.0 146.2L357.5 145.9L357.0 145.5L356.5 145.0L356.0 144.5L355.5 143.8L355.1 143.0L354.9 142.5L354.6 141.5L354.5 140.9L354.5 140.0L354.5 139.5L354.7 138.5L355.0 137.6L355.3 137.0L355.6 136.5L356.0 135.9L356.5 135.4L357.0 134.9L357.5 134.5L358.4 134.0L359.0 133.7L359.5 133.5L360.5 133.2L361.5 133.1L362.5 133.1L363.5 133.2L364.5 133.4L365.0 133.6L365.9 134.0L366.5 134.3L367.0 134.7L367.5 135.1L368.0 135.6L368.5 136.2L369.0 136.9L369.3 137.5L369.5 138.0L369.8 139.0L369.9 140.0L369.9 141.0L369.7 142.0L369.5 142.6L369.1 143.5L368.7 144.0L368.4 144.5L367.9 145.0L367.3 145.5L366.6 146.0L366.0 146.4L365.5 146.6L364.5 146.9L364.0 147.1ZM388.0 164.2L387.0 164.3L386.0 164.2L385.3 164.0L384.5 163.6L384.0 163.1L383.5 162.5L383.3 162.0L383.1 161.0L383.2 160.0L383.5 159.4L384.0 158.7L384.5 158.3L385.1 158.0L386.0 157.8L387.0 157.7L388.0 157.9L388.5 158.2L389.1 158.5L389.6 159.0L390.0 159.5L390.4 160.5L390.4 161.5L390.1 162.5L389.8 163.0L389.3 163.5L388.5 164.0L388.0 164.2Z" fill="#64b4b0" fill-rule="evenodd"/><path d="M364.5 146.1L363.5 146.3L362.5 146.4L361.5 146.4L360.5 146.3L359.6 146.0L359.0 145.8L358.5 145.5L357.7 145.0L357.1 144.5L356.6 144.0L356.3 143.5L355.9 143.0L355.5 142.0L355.4 141.5L355.2 140.5L355.2 139.5L355.4 138.5L355.6 138.0L356.0 137.1L356.4 136.5L356.8 136.0L357.3 135.5L357.9 135.0L358.5 134.6L359.0 134.4L360.0 134.0L360.5 133.9L361.5 133.7L362.5 133.7L363.5 133.8L364.2 134.0L365.0 134.3L365.5 134.5L366.3 135.0L366.9 135.5L367.5 136.0L367.9 136.5L368.2 137.0L368.5 137.5L368.9 138.5L369.0 139.0L369.1 140.0L369.1 141.0L369.0 141.5L368.6 142.5L368.4 143.0L368.0 143.6L367.5 144.2L367.0 144.7L366.5 145.1L365.8 145.5L365.0 145.9L364.5 146.1Z" fill="#6cbf80" fill-rule="evenodd"/><path d="M363.0 145.6L362.0 145.6L361.0 145.5L360.5 145.4L359.5 145.1L359.0 144.9L358.4 144.5L357.8 144.0L357.3 143.5L356.9 143.0L356.5 142.2L356.2 141.5L356.0 140.5L356.0 139.5L356.2 138.5L356.5 137.8L357.0 137.0L357.4 136.5L357.9 136.0L358.5 135.5L359.0 135.2L359.5 135.0L360.5 134.6L361.1 134.5L362.0 134.4L363.0 134.5L363.5 134.6L364.5 134.9L365.0 135.1L365.7 135.5L366.4 136.0L366.9 136.5L367.3 137.0L367.6 137.5L368.0 138.4L368.2 139.0L368.3 140.0L368.2 141.0L368.0 141.7L367.7 142.5L367.4 143.0L367.0 143.5L366.5 144.0L365.8 144.5L365.0 145.0L364.5 145.2L363.5 145.5L363.0 145.6Z" fill="#8cc858" fill-rule="evenodd"/><path d="M363.5 144.5L362.5 144.7L361.5 144.7L360.6 144.5L360.0 144.3L359.4 144.0L358.7 143.5L358.1 143.0L357.8 142.5L357.5 142.0L357.1 141.0L357.0 140.4L357.0 139.7L357.1 139.0L357.5 138.0L357.8 137.5L358.2 137.0L358.7 136.5L359.5 136.0L360.0 135.8L360.8 135.5L361.5 135.4L362.5 135.3L363.5 135.5L364.0 135.7L364.8 136.0L365.5 136.5L366.0 136.9L366.5 137.5L366.8 138.0L367.0 138.5L367.3 139.5L367.3 140.5L367.0 141.5L366.8 142.0L366.5 142.5L366.0 143.1L365.5 143.6L364.8 144.0L364.0 144.4L363.5 144.5Z" fill="#c4cc3c" fill-rule="evenodd"/><path d="M363.0 143.5L362.0 143.6L361.2 143.5L360.5 143.3L359.9 143.0L359.3 142.5L358.8 142.0L358.5 141.4L358.3 140.5L358.3 139.5L358.5 138.8L359.0 138.0L359.5 137.5L360.0 137.1L360.5 136.9L361.5 136.6L362.5 136.6L363.5 136.8L364.1 137.0L364.8 137.5L365.3 138.0L365.7 138.5L366.0 139.4L366.1 140.0L366.0 140.7L365.7 141.5L365.4 142.0L365.0 142.5L364.3 143.0L363.5 143.4L363.0 143.5Z" fill="#e6b42c" fill-rule="evenodd"/></g>
<path d="M366.0 173.5h.9v.9h-.9zM352.5 169.0h.9v.9h-.9zM365.5 131.5h.9v.9h-.9zM387.0 167.0h.9v.9h-.9zM364.0 162.0h.9v.9h-.9zM347.5 151.5h.9v.9h-.9zM375.0 159.0h.9v.9h-.9zM389.0 150.0h.9v.9h-.9zM341.5 160.5h.9v.9h-.9zM371.5 165.0h.9v.9h-.9zM368.0 165.5h.9v.9h-.9zM355.5 155.5h.9v.9h-.9zM353.5 172.5h.9v.9h-.9zM349.5 131.5h.9v.9h-.9zM379.0 149.0h.9v.9h-.9zM358.5 164.5h.9v.9h-.9zM367.5 166.5h.9v.9h-.9zM390.5 139.5h.9v.9h-.9zM354.0 151.0h.9v.9h-.9zM359.0 168.0h.9v.9h-.9zM393.5 158.0h.9v.9h-.9zM352.5 173.5h.9v.9h-.9zM366.0 154.5h.9v.9h-.9zM374.5 128.0h.9v.9h-.9zM357.5 170.0h.9v.9h-.9zM368.5 152.0h.9v.9h-.9zM377.0 158.0h.9v.9h-.9zM371.0 148.0h.9v.9h-.9zM352.5 138.5h.9v.9h-.9zM366.0 167.0h.9v.9h-.9zM348.5 147.5h.9v.9h-.9zM368.0 174.5h.9v.9h-.9zM365.0 152.5h.9v.9h-.9zM344.5 156.5h.9v.9h-.9zM347.0 146.0h.9v.9h-.9zM347.5 169.5h.9v.9h-.9zM368.0 149.0h.9v.9h-.9zM395.5 164.0h.9v.9h-.9zM381.5 168.0h.9v.9h-.9zM378.5 135.5h.9v.9h-.9zM387.0 169.5h.9v.9h-.9zM344.0 142.0h.9v.9h-.9zM380.0 143.5h.9v.9h-.9zM388.0 153.0h.9v.9h-.9zM356.0 162.5h.9v.9h-.9zM374.0 148.5h.9v.9h-.9zM338.0 143.0h.9v.9h-.9zM396.0 164.5h.9v.9h-.9zM367.0 128.0h.9v.9h-.9zM396.0 152.5h.9v.9h-.9zM350.5 162.0h.9v.9h-.9zM345.5 162.5h.9v.9h-.9zM353.0 170.0h.9v.9h-.9zM354.5 169.5h.9v.9h-.9zM370.0 160.0h.9v.9h-.9zM386.0 134.5h.9v.9h-.9zM361.0 160.0h.9v.9h-.9zM371.5 134.0h.9v.9h-.9zM387.5 155.0h.9v.9h-.9zM387.0 133.5h.9v.9h-.9zM339.0 151.5h.9v.9h-.9zM385.5 154.5h.9v.9h-.9zM367.5 166.0h.9v.9h-.9zM387.5 132.0h.9v.9h-.9zM350.0 164.5h.9v.9h-.9zM392.5 169.0h.9v.9h-.9zM356.5 176.0h.9v.9h-.9zM359.0 158.0h.9v.9h-.9zM350.5 151.5h.9v.9h-.9zM385.5 141.5h.9v.9h-.9zM357.5 162.0h.9v.9h-.9zM366.0 159.0h.9v.9h-.9zM358.5 150.5h.9v.9h-.9zM345.5 132.0h.9v.9h-.9zM374.5 158.5h.9v.9h-.9zM370.0 131.0h.9v.9h-.9zM348.0 136.0h.9v.9h-.9zM390.0 167.0h.9v.9h-.9zM378.0 161.0h.9v.9h-.9zM352.0 151.0h.9v.9h-.9zM392.5 165.5h.9v.9h-.9zM342.5 140.5h.9v.9h-.9zM364.5 149.0h.9v.9h-.9zM351.5 129.0h.9v.9h-.9zM382.5 142.0h.9v.9h-.9zM368.5 128.0h.9v.9h-.9zM369.0 164.5h.9v.9h-.9zM381.5 145.0h.9v.9h-.9zM373.5 139.5h.9v.9h-.9zM346.5 145.0h.9v.9h-.9zM387.5 144.5h.9v.9h-.9zM349.0 153.0h.9v.9h-.9zM339.0 143.5h.9v.9h-.9zM357.0 159.0h.9v.9h-.9zM377.5 147.5h.9v.9h-.9zM369.0 171.5h.9v.9h-.9zM352.0 143.0h.9v.9h-.9zM365.0 132.5h.9v.9h-.9zM368.5 152.5h.9v.9h-.9zM345.5 158.5h.9v.9h-.9zM378.0 146.5h.9v.9h-.9zM367.0 170.0h.9v.9h-.9zM390.5 152.0h.9v.9h-.9zM367.0 128.5h.9v.9h-.9zM368.5 132.5h.9v.9h-.9zM368.0 172.0h.9v.9h-.9zM361.0 173.5h.9v.9h-.9zM380.0 155.0h.9v.9h-.9zM358.0 131.5h.9v.9h-.9zM350.5 165.5h.9v.9h-.9zM347.0 137.0h.9v.9h-.9zM368.5 171.5h.9v.9h-.9zM356.0 151.0h.9v.9h-.9zM382.0 139.0h.9v.9h-.9zM365.0 148.5h.9v.9h-.9zM344.0 142.0h.9v.9h-.9zM373.5 141.0h.9v.9h-.9zM381.5 171.5h.9v.9h-.9zM343.0 150.0h.9v.9h-.9zM359.0 154.0h.9v.9h-.9zM355.0 133.5h.9v.9h-.9zM366.5 152.5h.9v.9h-.9zM398.0 149.0h.9v.9h-.9zM395.5 159.5h.9v.9h-.9zM386.0 146.5h.9v.9h-.9zM354.0 153.5h.9v.9h-.9zM364.5 155.5h.9v.9h-.9zM353.0 160.5h.9v.9h-.9zM349.0 169.0h.9v.9h-.9zM358.5 160.5h.9v.9h-.9zM358.5 159.5h.9v.9h-.9zM381.0 158.5h.9v.9h-.9zM390.5 167.0h.9v.9h-.9zM343.0 154.0h.9v.9h-.9zM381.0 131.0h.9v.9h-.9zM378.5 142.0h.9v.9h-.9zM352.5 149.0h.9v.9h-.9zM342.0 157.0h.9v.9h-.9zM375.0 146.5h.9v.9h-.9zM383.5 154.0h.9v.9h-.9zM352.5 130.5h.9v.9h-.9zM357.0 160.5h.9v.9h-.9zM381.0 162.5h.9v.9h-.9zM367.5 170.0h.9v.9h-.9zM344.5 137.5h.9v.9h-.9zM353.0 151.5h.9v.9h-.9zM364.0 127.0h.9v.9h-.9zM374.0 157.0h.9v.9h-.9zM372.0 144.0h.9v.9h-.9zM371.0 134.5h.9v.9h-.9zM373.0 170.0h.9v.9h-.9zM375.0 165.0h.9v.9h-.9zM356.0 150.0h.9v.9h-.9zM393.0 142.0h.9v.9h-.9zM346.5 136.0h.9v.9h-.9zM356.0 134.5h.9v.9h-.9zM381.0 146.0h.9v.9h-.9zM361.5 169.5h.9v.9h-.9zM350.5 150.0h.9v.9h-.9zM341.5 142.0h.9v.9h-.9zM351.0 153.5h.9v.9h-.9zM366.5 162.5h.9v.9h-.9zM349.5 156.0h.9v.9h-.9zM351.0 130.5h.9v.9h-.9zM384.0 142.5h.9v.9h-.9zM344.5 159.0h.9v.9h-.9zM373.5 140.5h.9v.9h-.9zM361.5 155.0h.9v.9h-.9zM344.5 159.0h.9v.9h-.9zM398.0 144.5h.9v.9h-.9zM344.0 163.0h.9v.9h-.9zM355.5 167.0h.9v.9h-.9zM346.0 165.5h.9v.9h-.9zM340.5 151.5h.9v.9h-.9zM345.0 149.0h.9v.9h-.9zM367.0 172.0h.9v.9h-.9zM359.5 162.0h.9v.9h-.9zM344.5 138.0h.9v.9h-.9zM343.5 155.0h.9v.9h-.9zM373.5 166.5h.9v.9h-.9zM351.5 160.0h.9v.9h-.9zM341.5 161.5h.9v.9h-.9zM350.5 161.0h.9v.9h-.9zM389.5 144.0h.9v.9h-.9zM348.0 171.0h.9v.9h-.9zM348.5 134.5h.9v.9h-.9zM367.5 151.0h.9v.9h-.9zM352.0 162.5h.9v.9h-.9zM388.5 140.5h.9v.9h-.9zM388.5 151.5h.9v.9h-.9zM351.5 159.5h.9v.9h-.9zM358.5 155.5h.9v.9h-.9zM358.0 128.5h.9v.9h-.9zM370.0 168.5h.9v.9h-.9zM394.0 144.0h.9v.9h-.9zM340.5 142.5h.9v.9h-.9zM377.5 171.0h.9v.9h-.9zM347.5 134.5h.9v.9h-.9zM353.5 157.0h.9v.9h-.9zM339.0 167.5h.9v.9h-.9zM359.0 152.0h.9v.9h-.9zM372.5 171.5h.9v.9h-.9zM379.0 151.0h.9v.9h-.9zM366.5 169.5h.9v.9h-.9zM366.0 130.0h.9v.9h-.9zM379.5 149.5h.9v.9h-.9zM364.5 128.5h.9v.9h-.9zM343.5 136.0h.9v.9h-.9zM390.0 142.5h.9v.9h-.9zM353.0 141.0h.9v.9h-.9zM347.0 170.0h.9v.9h-.9zM361.0 158.0h.9v.9h-.9zM373.0 171.0h.9v.9h-.9zM377.0 159.5h.9v.9h-.9zM372.5 146.0h.9v.9h-.9zM352.5 131.5h.9v.9h-.9zM376.5 141.0h.9v.9h-.9zM381.5 151.0h.9v.9h-.9zM350.5 147.0h.9v.9h-.9zM350.0 157.5h.9v.9h-.9zM353.0 148.0h.9v.9h-.9zM362.0 175.5h.9v.9h-.9zM393.5 140.0h.9v.9h-.9zM344.0 163.5h.9v.9h-.9zM379.5 173.0h.9v.9h-.9zM376.5 157.0h.9v.9h-.9zM359.5 171.5h.9v.9h-.9zM372.0 154.0h.9v.9h-.9zM384.5 146.5h.9v.9h-.9zM369.5 161.0h.9v.9h-.9zM379.5 155.5h.9v.9h-.9zM348.5 138.0h.9v.9h-.9zM361.5 151.5h.9v.9h-.9zM356.0 146.5h.9v.9h-.9zM340.0 150.0h.9v.9h-.9zM379.0 154.0h.9v.9h-.9zM377.5 166.0h.9v.9h-.9zM385.5 154.5h.9v.9h-.9zM368.5 169.0h.9v.9h-.9zM384.5 149.5h.9v.9h-.9zM340.0 161.5h.9v.9h-.9zM353.0 152.0h.9v.9h-.9zM352.5 139.0h.9v.9h-.9zM377.0 167.0h.9v.9h-.9zM379.5 144.5h.9v.9h-.9zM374.5 133.5h.9v.9h-.9zM344.5 164.5h.9v.9h-.9zM377.0 164.0h.9v.9h-.9zM383.5 150.0h.9v.9h-.9zM387.5 155.5h.9v.9h-.9zM363.0 168.0h.9v.9h-.9zM342.5 162.0h.9v.9h-.9zM350.5 150.5h.9v.9h-.9zM381.0 155.0h.9v.9h-.9zM376.0 155.5h.9v.9h-.9zM366.0 171.0h.9v.9h-.9zM388.0 140.5h.9v.9h-.9zM382.0 148.5h.9v.9h-.9zM344.0 146.5h.9v.9h-.9zM347.5 146.0h.9v.9h-.9zM367.0 171.0h.9v.9h-.9zM351.5 164.0h.9v.9h-.9zM363.0 159.5h.9v.9h-.9zM395.0 149.5h.9v.9h-.9zM366.0 170.0h.9v.9h-.9zM369.0 134.0h.9v.9h-.9zM356.0 131.5h.9v.9h-.9zM379.0 163.0h.9v.9h-.9zM387.5 167.0h.9v.9h-.9zM393.5 164.5h.9v.9h-.9zM393.0 141.0h.9v.9h-.9zM389.5 154.5h.9v.9h-.9zM395.0 152.0h.9v.9h-.9zM375.0 145.5h.9v.9h-.9zM384.5 168.5h.9v.9h-.9zM375.5 159.0h.9v.9h-.9zM346.5 146.0h.9v.9h-.9zM385.5 145.5h.9v.9h-.9zM387.5 152.0h.9v.9h-.9zM342.0 167.5h.9v.9h-.9zM376.5 147.0h.9v.9h-.9zM382.0 155.5h.9v.9h-.9zM343.5 159.5h.9v.9h-.9zM367.5 133.5h.9v.9h-.9zM382.0 147.0h.9v.9h-.9zM388.5 150.0h.9v.9h-.9zM350.0 149.0h.9v.9h-.9zM341.0 152.5h.9v.9h-.9zM357.0 159.0h.9v.9h-.9zM376.5 168.5h.9v.9h-.9zM338.5 144.5h.9v.9h-.9zM350.0 137.5h.9v.9h-.9zM374.0 166.5h.9v.9h-.9zM352.5 156.0h.9v.9h-.9zM390.0 138.0h.9v.9h-.9zM342.5 153.0h.9v.9h-.9zM380.0 172.0h.9v.9h-.9zM388.5 150.0h.9v.9h-.9zM386.0 150.0h.9v.9h-.9zM370.5 165.5h.9v.9h-.9z" fill="#5070c0" opacity="0.85"/>
<line x1="373.30" y1="110.30" x2="373.30" y2="187.10" stroke="#1a1a1a" stroke-width="1.3"/>
<line x1="335.70" y1="153.00" x2="410.80" y2="153.00" stroke="#1a1a1a" stroke-width="1.3"/>
<line x1="322.60" y1="202.90" x2="322.60" y2="137.40" stroke="#111" stroke-width="1.3"/>
<path d="M322.60 131.40 L319.90 138.90 L325.30 138.90 Z" fill="#111"/>
<line x1="321.95" y1="202.30" x2="398.40" y2="202.30" stroke="#111" stroke-width="1.3"/>
<path d="M404.40 202.30 L396.90 199.60 L396.90 205.00 Z" fill="#111"/>
<text x="318.60" y="165.00" font-size="10" text-anchor="middle" fill="#1e1e1e" transform="rotate(-90 318.6 165)">CD57</text>
<text x="358.00" y="212.80" font-size="10" text-anchor="middle" fill="#1e1e1e">CD127</text>
<rect x="443.40" y="110.90" width="78.60" height="76.20" fill="none" stroke="#8a8a8a" stroke-width="0.8"/>
<line x1="441.90" y1="127.40" x2="443.40" y2="127.40" stroke="#999" stroke-width="0.6"/>
<text x="441.20" y="129.00" font-size="4.8" text-anchor="end" fill="#707070">10<tspan font-size="3.36" dy="-1.6">3</tspan></text>
<line x1="441.90" y1="144.40" x2="443.40" y2="144.40" stroke="#999" stroke-width="0.6"/>
<text x="441.20" y="146.00" font-size="4.8" text-anchor="end" fill="#707070">10<tspan font-size="3.36" dy="-1.6">2</tspan></text>
<line x1="441.90" y1="160.90" x2="443.40" y2="160.90" stroke="#999" stroke-width="0.6"/>
<text x="441.20" y="162.50" font-size="4.8" text-anchor="end" fill="#707070">10<tspan font-size="3.36" dy="-1.6">1</tspan></text>
<line x1="441.90" y1="181.10" x2="443.40" y2="181.10" stroke="#999" stroke-width="0.6"/>
<text x="441.20" y="182.70" font-size="4.8" text-anchor="end" fill="#707070">0</text>
<line x1="455.90" y1="187.10" x2="455.90" y2="188.60" stroke="#999" stroke-width="0.6"/>
<text x="455.90" y="193.30" font-size="4.8" text-anchor="middle" fill="#707070">0</text>
<line x1="465.40" y1="187.10" x2="465.40" y2="188.60" stroke="#999" stroke-width="0.6"/>
<text x="465.40" y="193.30" font-size="4.8" text-anchor="middle" fill="#707070">10<tspan font-size="3.36" dy="-1.6">1</tspan></text>
<line x1="485.40" y1="187.10" x2="485.40" y2="188.60" stroke="#999" stroke-width="0.6"/>
<text x="485.40" y="193.30" font-size="4.8" text-anchor="middle" fill="#707070">10<tspan font-size="3.36" dy="-1.6">2</tspan></text>
<line x1="502.90" y1="187.10" x2="502.90" y2="188.60" stroke="#999" stroke-width="0.6"/>
<text x="502.90" y="193.30" font-size="4.8" text-anchor="middle" fill="#707070">10<tspan font-size="3.36" dy="-1.6">3</tspan></text>
<line x1="519.40" y1="187.10" x2="519.40" y2="188.60" stroke="#999" stroke-width="0.6"/>
<text x="519.40" y="193.30" font-size="4.8" text-anchor="middle" fill="#707070">10<tspan font-size="3.36" dy="-1.6">4</tspan></text>
<line x1="448.83" y1="187.10" x2="448.83" y2="187.90" stroke="#bbb" stroke-width="0.4"/>
<line x1="454.26" y1="187.10" x2="454.26" y2="187.90" stroke="#bbb" stroke-width="0.4"/>
<line x1="459.69" y1="187.10" x2="459.69" y2="187.90" stroke="#bbb" stroke-width="0.4"/>
<line x1="465.11" y1="187.10" x2="465.11" y2="187.90" stroke="#bbb" stroke-width="0.4"/>
<line x1="470.54" y1="187.10" x2="470.54" y2="187.90" stroke="#bbb" stroke-width="0.4"/>
<line x1="475.97" y1="187.10" x2="475.97" y2="187.90" stroke="#bbb" stroke-width="0.4"/>
<line x1="481.40" y1="187.10" x2="481.40" y2="187.90" stroke="#bbb" stroke-width="0.4"/>
<line x1="486.83" y1="187.10" x2="486.83" y2="187.90" stroke="#bbb" stroke-width="0.4"/>
<line x1="492.26" y1="187.10" x2="492.26" y2="187.90" stroke="#bbb" stroke-width="0.4"/>
<line x1="497.69" y1="187.10" x2="497.69" y2="187.90" stroke="#bbb" stroke-width="0.4"/>
<line x1="503.11" y1="187.10" x2="503.11" y2="187.90" stroke="#bbb" stroke-width="0.4"/>
<line x1="508.54" y1="187.10" x2="508.54" y2="187.90" stroke="#bbb" stroke-width="0.4"/>
<line x1="513.97" y1="187.10" x2="513.97" y2="187.90" stroke="#bbb" stroke-width="0.4"/>
<g filter="url(#bl45)"><path d="M487.0 184.6L484.5 184.5L482.2 183.5L480.5 182.3L479.0 180.7L477.7 179.0L476.3 177.5L474.1 177.0L472.5 178.1L470.6 179.5L468.8 180.5L466.5 181.2L463.7 181.0L461.5 180.1L459.8 179.0L458.3 177.5L457.0 175.7L456.0 173.9L455.0 171.5L454.4 169.5L453.9 167.0L453.7 164.0L453.7 161.0L454.0 158.5L454.5 156.0L455.3 153.5L456.0 151.3L456.6 149.0L457.1 146.5L457.5 144.0L458.4 141.5L459.5 140.0L461.2 138.5L463.0 137.5L465.3 136.5L467.5 135.9L470.0 135.4L473.0 135.1L476.0 135.1L479.0 135.3L481.5 135.7L484.0 136.4L486.0 137.2L488.0 138.3L489.6 139.5L491.0 141.3L491.9 143.5L492.5 145.7L493.4 148.0L494.4 150.0L495.3 152.0L496.0 154.0L496.7 156.5L497.2 159.0L497.4 162.0L497.5 165.0L497.3 168.0L496.9 170.5L496.4 173.0L495.6 175.5L494.8 177.5L493.7 179.5L492.5 181.2L491.0 182.7L489.0 183.9L487.0 184.6Z" fill="#ccd4ee" fill-rule="evenodd"/><path d="M487.5 181.1L485.0 181.2L483.1 180.5L481.7 179.5L480.5 178.3L479.5 176.9L478.5 175.3L477.5 173.6L476.5 172.0L475.0 171.3L473.5 172.4L472.5 173.5L471.2 175.0L470.0 176.0L468.4 177.0L466.5 177.6L464.0 177.5L462.5 177.0L461.0 176.0L459.5 174.5L458.5 173.0L457.7 171.5L457.0 169.7L456.5 167.9L456.1 165.5L455.9 163.5L456.0 161.4L456.3 159.0L456.8 157.0L457.4 155.0L458.1 153.5L459.0 151.6L459.8 150.0L460.6 148.5L461.5 146.8L462.5 145.0L463.5 143.5L464.5 142.4L466.0 141.3L467.8 140.5L469.5 139.9L472.0 139.5L474.0 139.4L476.5 139.5L478.5 139.9L480.4 140.5L482.0 141.4L483.4 142.5L484.5 143.7L486.0 144.9L487.5 145.8L489.0 146.7L490.5 147.9L491.5 149.0L492.7 150.5L493.7 152.0L494.5 153.8L495.1 155.5L495.6 157.5L496.0 160.0L496.0 162.0L496.0 164.0L495.7 166.5L495.4 168.5L495.0 170.5L494.4 172.5L493.7 174.5L492.9 176.0L492.0 177.6L490.8 179.0L489.5 180.1L487.7 181.0ZM476.6 157.0L477.2 156.5L477.5 156.0L478.0 155.2L478.3 154.5L478.6 154.0L479.0 153.0L479.2 152.5L479.5 151.6L479.7 151.0L479.9 150.0L479.8 149.0L479.5 148.3L479.0 148.0L478.0 147.7L477.0 147.8L476.3 148.0L475.5 148.3L475.0 148.6L474.5 149.1L474.0 149.8L473.7 150.5L473.6 151.5L473.6 152.5L473.8 153.5L474.0 154.1L474.4 155.0L474.6 155.5L475.0 156.2L475.5 156.9L476.0 157.1L476.6 157.0Z" fill="#9eb0e2" fill-rule="evenodd"/><path d="M487.5 178.2L486.0 178.4L484.5 178.2L483.5 177.7L482.5 177.0L482.0 176.5L481.1 175.5L480.5 174.6L480.0 173.7L479.5 172.7L479.0 171.5L478.7 170.5L478.3 169.5L478.0 168.1L477.8 167.0L477.6 165.5L477.6 164.0L477.7 162.5L478.0 161.1L478.2 160.0L478.5 159.0L479.0 157.5L479.3 156.5L479.7 155.5L480.1 154.5L480.6 153.5L481.1 152.5L481.7 151.5L482.5 150.5L483.0 149.9L484.0 149.1L485.0 148.6L486.0 148.4L487.5 148.4L488.5 148.7L489.5 149.2L490.5 149.9L491.2 150.5L492.0 151.4L492.5 152.1L493.1 153.0L493.6 154.0L494.0 155.1L494.4 156.5L494.7 157.5L494.9 159.0L495.0 160.0L495.1 161.5L495.0 163.0L495.0 164.0L494.8 165.5L494.5 166.9L494.2 168.0L494.0 169.0L493.5 170.4L493.1 171.5L492.7 172.5L492.2 173.5L491.6 174.5L491.0 175.4L490.5 176.0L489.5 177.0L488.9 177.5L488.0 178.0ZM466.5 174.6L465.5 174.7L464.5 174.6L464.0 174.4L463.0 174.0L462.5 173.7L462.0 173.3L461.5 172.9L461.0 172.4L460.5 171.8L460.0 171.0L459.7 170.5L459.4 170.0L459.0 169.0L458.8 168.5L458.5 167.5L458.4 167.0L458.2 166.0L458.0 165.0L458.0 164.5L457.9 163.5L457.9 162.5L458.0 161.5L458.0 161.0L458.2 160.0L458.4 159.0L458.5 158.5L458.8 157.5L459.0 157.0L459.4 156.0L459.7 155.5L460.0 154.8L460.5 154.0L460.9 153.5L461.2 153.0L461.7 152.5L462.1 152.0L462.6 151.5L463.2 151.0L463.9 150.5L464.5 150.1L465.0 149.9L466.0 149.7L467.0 149.7L467.7 150.0L468.4 150.5L468.9 151.0L469.3 151.5L469.7 152.0L470.0 152.5L470.5 153.4L470.8 154.0L471.1 154.5L471.5 155.3L471.8 156.0L472.0 156.5L472.4 157.5L472.6 158.0L472.9 159.0L473.1 159.5L473.3 160.5L473.5 161.5L473.6 162.0L473.6 163.0L473.6 164.0L473.5 165.0L473.5 165.5L473.2 166.5L473.0 167.2L472.7 168.0L472.5 168.5L472.0 169.5L471.8 170.0L471.5 170.5L471.0 171.2L470.5 171.9L470.0 172.4L469.5 172.9L469.0 173.4L468.5 173.7L468.0 174.0L467.0 174.4L466.5 174.6Z" fill="#7f97da" fill-rule="evenodd"/><path d="M487.5 174.5L486.5 174.8L485.5 174.7L484.8 174.5L484.0 174.1L483.5 173.7L483.0 173.3L482.5 172.7L482.0 172.0L481.7 171.5L481.4 171.0L481.0 170.0L480.8 169.5L480.5 168.6L480.3 168.0L480.1 167.0L480.0 166.5L479.8 165.5L479.7 164.5L479.7 163.5L479.7 162.5L479.7 161.5L479.8 160.5L480.0 159.5L480.1 159.0L480.3 158.0L480.5 157.3L480.8 156.5L481.0 155.9L481.4 155.0L481.6 154.5L482.0 153.8L482.5 153.0L482.9 152.5L483.3 152.0L483.9 151.5L484.5 151.0L485.0 150.7L485.5 150.5L486.5 150.2L487.5 150.2L488.5 150.4L489.0 150.6L489.7 151.0L490.4 151.5L490.9 152.0L491.3 152.5L491.7 153.0L492.1 153.5L492.5 154.2L492.9 155.0L493.1 155.5L493.4 156.5L493.6 157.0L493.8 158.0L494.0 159.0L494.0 159.5L494.1 160.5L494.1 161.5L494.0 162.5L494.0 163.0L493.9 164.0L493.7 165.0L493.5 165.9L493.3 166.5L493.0 167.5L492.8 168.0L492.5 168.8L492.2 169.5L491.9 170.0L491.5 170.7L491.0 171.5L490.6 172.0L490.2 172.5L489.8 173.0L489.2 173.5L488.6 174.0L488.0 174.3L487.5 174.5ZM467.0 169.6L466.0 169.9L465.0 169.9L464.0 169.6L463.5 169.3L463.0 168.8L462.5 168.2L462.0 167.5L461.8 167.0L461.5 166.3L461.3 165.5L461.1 164.5L461.0 163.9L461.0 163.0L461.0 162.1L461.1 161.5L461.3 160.5L461.5 159.7L461.8 159.0L462.0 158.5L462.5 157.7L463.0 157.1L463.5 156.7L464.0 156.3L464.8 156.0L465.5 155.9L466.3 156.0L467.0 156.3L467.5 156.6L468.0 157.1L468.5 157.7L469.0 158.5L469.3 159.0L469.5 159.6L469.8 160.5L470.0 161.5L470.0 162.0L470.1 163.0L470.1 164.0L470.0 164.5L469.8 165.5L469.5 166.4L469.3 167.0L469.0 167.5L468.5 168.3L468.0 168.8L467.5 169.3L467.0 169.6Z" fill="#6a88d4" fill-rule="evenodd"/><path d="M486.5 171.5L486.0 171.4L485.0 171.1L484.5 170.8L484.0 170.4L483.5 169.9L483.0 169.2L482.5 168.5L482.3 168.0L482.0 167.4L481.7 166.5L481.5 165.9L481.3 165.0L481.1 164.0L481.0 163.0L481.0 162.5L481.0 161.5L481.0 161.0L481.1 160.0L481.2 159.0L481.5 158.0L481.6 157.5L481.9 156.5L482.1 156.0L482.5 155.3L482.9 154.5L483.3 154.0L483.7 153.5L484.2 153.0L484.8 152.5L485.5 152.1L486.0 151.9L487.0 151.7L488.0 151.8L488.7 152.0L489.5 152.4L490.0 152.8L490.5 153.2L491.0 153.8L491.5 154.5L491.8 155.0L492.0 155.5L492.4 156.5L492.6 157.0L492.9 158.0L493.0 158.8L493.1 159.5L493.2 160.5L493.2 161.5L493.1 162.5L493.0 163.3L492.9 164.0L492.6 165.0L492.5 165.5L492.1 166.5L491.9 167.0L491.5 167.8L491.1 168.5L490.8 169.0L490.4 169.5L489.9 170.0L489.3 170.5L488.6 171.0L488.0 171.3L487.0 171.5L486.5 171.5Z" fill="#6aa0cc" fill-rule="evenodd"/><path d="M488.0 169.7L487.0 169.8L486.0 169.7L485.5 169.5L484.7 169.0L484.1 168.5L483.7 168.0L483.3 167.5L483.0 167.0L482.6 166.0L482.4 165.5L482.1 164.5L482.0 164.0L481.8 163.0L481.7 162.0L481.7 161.0L481.8 160.0L482.0 159.0L482.1 158.5L482.3 157.5L482.5 157.0L482.9 156.0L483.2 155.5L483.5 155.0L484.0 154.4L484.5 153.8L485.0 153.4L485.7 153.0L486.5 152.7L487.5 152.7L488.5 152.9L489.0 153.1L489.6 153.5L490.2 154.0L490.6 154.5L491.0 155.1L491.5 155.9L491.7 156.5L492.0 157.2L492.2 158.0L492.4 159.0L492.5 159.7L492.6 160.5L492.5 161.5L492.5 162.1L492.4 163.0L492.2 164.0L492.0 164.7L491.7 165.5L491.5 166.0L491.0 167.0L490.7 167.5L490.3 168.0L489.8 168.5L489.3 169.0L488.5 169.5L488.0 169.7Z" fill="#64b4b0" fill-rule="evenodd"/><path d="M487.5 168.5L486.6 168.5L486.0 168.3L485.3 168.0L484.7 167.5L484.2 167.0L483.8 166.5L483.5 166.0L483.1 165.0L482.9 164.5L482.6 163.5L482.5 162.7L482.4 162.0L482.4 161.0L482.5 160.0L482.5 159.5L482.7 158.5L483.0 157.6L483.2 157.0L483.5 156.4L484.0 155.6L484.4 155.0L484.9 154.5L485.5 154.1L486.0 153.8L487.0 153.6L488.0 153.6L488.9 154.0L489.5 154.4L490.0 154.9L490.5 155.5L490.8 156.0L491.1 156.5L491.5 157.5L491.6 158.0L491.8 159.0L492.0 160.0L492.0 161.0L491.9 162.0L491.8 163.0L491.5 164.0L491.4 164.5L491.0 165.4L490.7 166.0L490.4 166.5L490.0 167.0L489.5 167.5L488.9 168.0L488.0 168.4L487.5 168.5Z" fill="#6cbf80" fill-rule="evenodd"/><path d="M488.0 167.2L487.0 167.3L486.0 167.0L485.5 166.7L485.0 166.3L484.5 165.8L484.0 165.0L483.8 164.5L483.5 163.8L483.3 163.0L483.1 162.0L483.1 161.0L483.2 160.0L483.3 159.0L483.5 158.3L483.8 157.5L484.0 157.0L484.5 156.2L485.0 155.6L485.5 155.1L486.0 154.8L487.0 154.5L488.0 154.6L488.8 155.0L489.5 155.5L489.9 156.0L490.2 156.5L490.5 157.0L490.9 158.0L491.1 158.5L491.3 159.5L491.3 160.5L491.3 161.5L491.2 162.5L491.0 163.4L490.8 164.0L490.5 164.7L490.1 165.5L489.7 166.0L489.2 166.5L488.5 167.0L488.0 167.2Z" fill="#8cc858" fill-rule="evenodd"/><path d="M488.5 165.6L487.5 166.0L486.5 165.8L485.9 165.5L485.3 165.0L484.9 164.5L484.5 163.8L484.2 163.0L484.0 162.2L483.9 161.5L483.9 160.5L484.0 159.6L484.1 159.0L484.5 158.0L484.7 157.5L485.0 157.0L485.5 156.5L486.1 156.0L487.0 155.7L488.0 155.8L488.5 156.0L489.1 156.5L489.5 157.0L490.0 157.9L490.2 158.5L490.5 159.5L490.6 160.0L490.6 161.0L490.5 162.0L490.4 162.5L490.1 163.5L489.9 164.0L489.5 164.6L489.0 165.2L488.5 165.6Z" fill="#c4cc3c" fill-rule="evenodd"/><path d="M487.5 164.5L487.0 164.5L486.0 164.0L485.6 163.5L485.3 163.0L485.0 162.3L484.9 161.5L484.8 160.5L485.0 159.5L485.1 159.0L485.5 158.2L486.0 157.6L486.5 157.3L487.5 157.1L488.4 157.5L488.8 158.0L489.2 158.5L489.5 159.4L489.6 160.0L489.7 161.0L489.6 162.0L489.4 162.5L489.0 163.4L488.5 164.0L488.0 164.4L487.5 164.5Z" fill="#e6b42c" fill-rule="evenodd"/><path d="M487.5 162.1L487.0 162.1L486.9 162.0L486.5 161.5L486.5 161.5L486.4 161.0L486.5 160.5L486.5 160.4L486.8 160.0L487.0 159.9L487.5 160.0L487.5 160.0L487.9 160.5L488.0 160.9L488.0 161.0L488.0 161.1L487.9 161.5L487.6 162.0L487.5 162.1Z" fill="#ea8624" fill-rule="evenodd"/></g>
<path d="M494.0 180.0h.9v.9h-.9zM460.0 149.0h.9v.9h-.9zM463.5 138.0h.9v.9h-.9zM479.5 163.5h.9v.9h-.9zM453.5 139.0h.9v.9h-.9zM487.5 140.5h.9v.9h-.9zM473.0 177.5h.9v.9h-.9zM494.5 153.5h.9v.9h-.9zM480.5 159.5h.9v.9h-.9zM490.5 144.0h.9v.9h-.9zM467.5 182.0h.9v.9h-.9zM472.0 164.5h.9v.9h-.9zM462.0 144.0h.9v.9h-.9zM468.0 179.5h.9v.9h-.9zM482.5 179.0h.9v.9h-.9zM472.0 146.0h.9v.9h-.9zM473.0 177.0h.9v.9h-.9zM469.5 158.0h.9v.9h-.9zM466.5 169.0h.9v.9h-.9zM488.5 141.0h.9v.9h-.9zM467.5 173.0h.9v.9h-.9zM469.5 174.0h.9v.9h-.9zM471.0 177.5h.9v.9h-.9zM475.5 176.5h.9v.9h-.9zM475.5 173.0h.9v.9h-.9zM473.0 175.0h.9v.9h-.9zM484.0 141.0h.9v.9h-.9zM454.5 142.0h.9v.9h-.9zM485.5 186.0h.9v.9h-.9zM486.5 141.0h.9v.9h-.9zM481.5 140.5h.9v.9h-.9zM496.5 154.5h.9v.9h-.9zM479.0 150.5h.9v.9h-.9zM458.5 155.5h.9v.9h-.9zM456.0 154.5h.9v.9h-.9zM473.0 172.5h.9v.9h-.9zM456.5 170.5h.9v.9h-.9zM475.0 176.0h.9v.9h-.9zM456.5 145.0h.9v.9h-.9zM480.5 144.5h.9v.9h-.9zM458.5 161.0h.9v.9h-.9zM483.0 180.5h.9v.9h-.9zM468.5 154.5h.9v.9h-.9zM456.5 144.5h.9v.9h-.9zM464.0 142.5h.9v.9h-.9zM485.5 178.0h.9v.9h-.9zM454.0 156.0h.9v.9h-.9zM488.0 150.5h.9v.9h-.9zM466.0 156.5h.9v.9h-.9zM456.0 148.0h.9v.9h-.9zM457.5 158.5h.9v.9h-.9zM468.5 140.0h.9v.9h-.9zM493.0 180.5h.9v.9h-.9zM465.0 183.5h.9v.9h-.9zM495.5 152.5h.9v.9h-.9zM483.5 144.5h.9v.9h-.9zM489.0 174.0h.9v.9h-.9zM457.5 161.0h.9v.9h-.9zM451.0 156.0h.9v.9h-.9zM482.5 174.5h.9v.9h-.9zM493.5 171.5h.9v.9h-.9zM485.5 173.0h.9v.9h-.9zM487.5 173.5h.9v.9h-.9zM495.0 174.0h.9v.9h-.9zM485.0 181.5h.9v.9h-.9zM471.5 143.0h.9v.9h-.9zM484.0 183.5h.9v.9h-.9zM497.0 166.0h.9v.9h-.9zM483.5 146.5h.9v.9h-.9zM479.5 161.5h.9v.9h-.9zM463.0 146.0h.9v.9h-.9zM470.5 162.5h.9v.9h-.9zM483.5 141.5h.9v.9h-.9zM472.0 166.0h.9v.9h-.9zM464.5 172.0h.9v.9h-.9zM489.5 142.5h.9v.9h-.9zM461.0 143.5h.9v.9h-.9zM484.0 185.0h.9v.9h-.9zM479.0 141.0h.9v.9h-.9zM484.0 175.5h.9v.9h-.9zM457.0 158.0h.9v.9h-.9zM461.0 180.0h.9v.9h-.9zM468.0 183.5h.9v.9h-.9zM480.5 156.5h.9v.9h-.9zM483.5 143.5h.9v.9h-.9zM479.5 166.5h.9v.9h-.9zM464.0 169.5h.9v.9h-.9zM474.5 166.5h.9v.9h-.9zM493.0 171.5h.9v.9h-.9zM477.5 155.5h.9v.9h-.9zM459.5 172.5h.9v.9h-.9zM485.5 146.5h.9v.9h-.9zM464.0 141.5h.9v.9h-.9zM468.0 174.0h.9v.9h-.9zM478.5 165.0h.9v.9h-.9zM472.0 140.5h.9v.9h-.9zM466.0 171.0h.9v.9h-.9zM467.5 156.0h.9v.9h-.9zM463.0 160.0h.9v.9h-.9zM498.0 159.5h.9v.9h-.9zM467.5 133.0h.9v.9h-.9zM476.5 147.0h.9v.9h-.9zM489.5 149.5h.9v.9h-.9zM478.5 163.5h.9v.9h-.9zM474.0 176.0h.9v.9h-.9zM487.5 150.0h.9v.9h-.9zM479.0 152.5h.9v.9h-.9zM473.0 140.0h.9v.9h-.9zM476.0 167.5h.9v.9h-.9zM482.0 150.5h.9v.9h-.9zM459.5 169.0h.9v.9h-.9zM463.5 152.0h.9v.9h-.9zM473.0 136.5h.9v.9h-.9zM469.5 182.5h.9v.9h-.9zM478.5 179.0h.9v.9h-.9zM480.5 181.0h.9v.9h-.9zM457.5 170.0h.9v.9h-.9zM454.5 153.5h.9v.9h-.9zM468.0 150.5h.9v.9h-.9zM495.5 146.0h.9v.9h-.9zM454.5 156.0h.9v.9h-.9zM478.0 148.5h.9v.9h-.9zM459.0 137.5h.9v.9h-.9zM495.5 174.0h.9v.9h-.9zM472.0 136.5h.9v.9h-.9zM480.0 139.0h.9v.9h-.9zM463.5 181.5h.9v.9h-.9zM476.0 148.0h.9v.9h-.9zM472.0 162.5h.9v.9h-.9zM486.5 150.5h.9v.9h-.9zM488.0 146.0h.9v.9h-.9zM486.5 139.0h.9v.9h-.9zM458.0 151.5h.9v.9h-.9zM470.5 142.5h.9v.9h-.9zM462.0 162.5h.9v.9h-.9zM495.5 173.0h.9v.9h-.9zM462.5 156.0h.9v.9h-.9zM482.5 145.0h.9v.9h-.9zM468.0 145.5h.9v.9h-.9zM460.0 147.0h.9v.9h-.9zM456.5 164.5h.9v.9h-.9zM492.5 171.0h.9v.9h-.9zM474.5 147.0h.9v.9h-.9zM468.0 164.0h.9v.9h-.9zM466.5 162.0h.9v.9h-.9zM489.5 174.0h.9v.9h-.9zM458.5 146.5h.9v.9h-.9zM461.0 163.5h.9v.9h-.9zM457.0 166.0h.9v.9h-.9zM453.0 160.5h.9v.9h-.9zM487.5 150.0h.9v.9h-.9zM479.0 157.0h.9v.9h-.9zM474.0 151.0h.9v.9h-.9zM491.0 180.5h.9v.9h-.9zM456.0 162.0h.9v.9h-.9zM463.5 171.0h.9v.9h-.9zM473.5 152.5h.9v.9h-.9zM459.5 167.5h.9v.9h-.9zM468.0 143.0h.9v.9h-.9zM479.0 173.5h.9v.9h-.9zM493.5 137.5h.9v.9h-.9zM472.5 157.0h.9v.9h-.9zM469.5 160.5h.9v.9h-.9zM473.5 151.5h.9v.9h-.9zM475.0 148.5h.9v.9h-.9zM492.0 178.0h.9v.9h-.9zM474.0 164.0h.9v.9h-.9zM489.5 182.5h.9v.9h-.9zM476.5 154.5h.9v.9h-.9zM462.0 163.0h.9v.9h-.9zM482.5 178.0h.9v.9h-.9zM454.5 158.0h.9v.9h-.9zM492.5 156.0h.9v.9h-.9zM486.0 179.5h.9v.9h-.9zM458.5 160.5h.9v.9h-.9zM475.5 171.5h.9v.9h-.9zM481.0 185.5h.9v.9h-.9zM492.5 165.0h.9v.9h-.9zM465.0 150.5h.9v.9h-.9zM463.0 161.0h.9v.9h-.9zM480.0 143.0h.9v.9h-.9zM490.0 173.0h.9v.9h-.9zM455.5 152.0h.9v.9h-.9zM480.5 165.5h.9v.9h-.9zM458.5 174.0h.9v.9h-.9zM464.0 137.5h.9v.9h-.9zM476.5 166.0h.9v.9h-.9zM471.5 180.5h.9v.9h-.9zM475.5 177.0h.9v.9h-.9zM476.5 154.0h.9v.9h-.9zM458.5 144.5h.9v.9h-.9zM487.0 180.0h.9v.9h-.9zM454.5 166.0h.9v.9h-.9zM484.0 139.5h.9v.9h-.9zM467.5 179.5h.9v.9h-.9zM464.5 172.0h.9v.9h-.9zM483.0 141.5h.9v.9h-.9zM495.5 174.5h.9v.9h-.9zM466.5 143.5h.9v.9h-.9zM473.0 176.0h.9v.9h-.9zM466.0 139.5h.9v.9h-.9zM459.5 171.5h.9v.9h-.9zM464.0 158.5h.9v.9h-.9zM461.5 153.5h.9v.9h-.9zM462.0 170.5h.9v.9h-.9zM469.0 172.0h.9v.9h-.9zM484.5 173.5h.9v.9h-.9zM469.0 152.5h.9v.9h-.9zM451.5 159.0h.9v.9h-.9zM464.5 136.5h.9v.9h-.9zM469.5 148.5h.9v.9h-.9zM467.0 175.5h.9v.9h-.9zM493.5 165.0h.9v.9h-.9zM490.0 145.0h.9v.9h-.9zM474.0 145.5h.9v.9h-.9zM467.5 137.0h.9v.9h-.9zM470.0 146.5h.9v.9h-.9zM467.5 141.5h.9v.9h-.9zM462.0 177.0h.9v.9h-.9zM497.0 172.0h.9v.9h-.9zM494.0 145.0h.9v.9h-.9zM484.0 174.5h.9v.9h-.9zM467.5 152.5h.9v.9h-.9zM475.0 151.0h.9v.9h-.9zM478.5 150.0h.9v.9h-.9zM482.0 148.0h.9v.9h-.9zM471.5 162.5h.9v.9h-.9zM464.5 149.5h.9v.9h-.9zM494.5 174.0h.9v.9h-.9zM469.5 164.0h.9v.9h-.9zM480.0 156.5h.9v.9h-.9zM492.0 145.0h.9v.9h-.9zM465.0 137.0h.9v.9h-.9zM494.0 177.5h.9v.9h-.9zM481.0 153.0h.9v.9h-.9zM477.0 165.5h.9v.9h-.9zM482.5 143.5h.9v.9h-.9zM483.5 146.5h.9v.9h-.9zM472.5 148.0h.9v.9h-.9zM486.0 144.5h.9v.9h-.9zM475.0 139.0h.9v.9h-.9zM469.5 168.0h.9v.9h-.9zM486.0 148.0h.9v.9h-.9zM473.0 148.5h.9v.9h-.9zM488.5 142.0h.9v.9h-.9zM493.0 164.5h.9v.9h-.9zM456.5 177.5h.9v.9h-.9zM452.0 153.0h.9v.9h-.9zM474.5 156.0h.9v.9h-.9zM454.5 156.5h.9v.9h-.9z" fill="#4a6cc4" opacity="0.85"/>
<line x1="473.00" y1="110.90" x2="473.00" y2="187.10" stroke="#1a1a1a" stroke-width="1.3"/>
<line x1="443.40" y1="149.80" x2="522.00" y2="149.80" stroke="#1a1a1a" stroke-width="1.3"/>
<line x1="430.50" y1="202.90" x2="430.50" y2="137.40" stroke="#111" stroke-width="1.3"/>
<path d="M430.50 131.40 L427.80 138.90 L433.20 138.90 Z" fill="#111"/>
<line x1="429.85" y1="202.30" x2="505.50" y2="202.30" stroke="#111" stroke-width="1.3"/>
<path d="M511.50 202.30 L504.00 199.60 L504.00 205.00 Z" fill="#111"/>
<text x="426.80" y="164.70" font-size="10" text-anchor="middle" fill="#1e1e1e" transform="rotate(-90 426.8 164.7)">CCR7</text>
<text x="469.60" y="213.20" font-size="10" text-anchor="middle" fill="#1e1e1e">CD45RA</text>
<line x1="49.80" y1="262.70" x2="49.80" y2="333.70" stroke="#5a5a5a" stroke-width="1"/>
<line x1="49.80" y1="333.70" x2="95.80" y2="333.70" stroke="#5a5a5a" stroke-width="1"/>
<line x1="46.30" y1="333.70" x2="49.80" y2="333.70" stroke="#5a5a5a" stroke-width="1"/>
<text x="45.50" y="337.60" font-size="10.8" text-anchor="end" fill="#1e1e1e" textLength="6.7" lengthAdjust="spacingAndGlyphs">0</text>
<line x1="46.30" y1="319.50" x2="49.80" y2="319.50" stroke="#5a5a5a" stroke-width="1"/>
<text x="45.50" y="323.40" font-size="10.8" text-anchor="end" fill="#1e1e1e" textLength="13.4" lengthAdjust="spacingAndGlyphs">20</text>
<line x1="46.30" y1="305.30" x2="49.80" y2="305.30" stroke="#5a5a5a" stroke-width="1"/>
<text x="45.50" y="309.20" font-size="10.8" text-anchor="end" fill="#1e1e1e" textLength="13.4" lengthAdjust="spacingAndGlyphs">40</text>
<line x1="46.30" y1="291.10" x2="49.80" y2="291.10" stroke="#5a5a5a" stroke-width="1"/>
<text x="45.50" y="295.00" font-size="10.8" text-anchor="end" fill="#1e1e1e" textLength="13.4" lengthAdjust="spacingAndGlyphs">60</text>
<line x1="46.30" y1="276.90" x2="49.80" y2="276.90" stroke="#5a5a5a" stroke-width="1"/>
<text x="45.50" y="280.80" font-size="10.8" text-anchor="end" fill="#1e1e1e" textLength="13.4" lengthAdjust="spacingAndGlyphs">80</text>
<line x1="46.30" y1="262.70" x2="49.80" y2="262.70" stroke="#5a5a5a" stroke-width="1"/>
<text x="45.50" y="266.60" font-size="10.8" text-anchor="end" fill="#1e1e1e" textLength="20.1" lengthAdjust="spacingAndGlyphs">100</text>
<text x="68.50" y="241.70" font-size="9.6" text-anchor="middle" fill="#1e1e1e">CD27</text>
<path d="M59.80 259.8V257.6H86.00V259.8" fill="none" stroke="#444" stroke-width="0.8"/>
<text x="72.85" y="256.80" font-size="8.4" text-anchor="middle" fill="#222" font-weight="bold">***</text>
<path d="M60.10 264.12a1.4 1.4 0 1 0 2.8 0a1.4 1.4 0 1 0 -2.8 0M63.33 264.83a1.4 1.4 0 1 0 2.8 0a1.4 1.4 0 1 0 -2.8 0M56.67 264.83a1.4 1.4 0 1 0 2.8 0a1.4 1.4 0 1 0 -2.8 0M66.85 265.54a1.4 1.4 0 1 0 2.8 0a1.4 1.4 0 1 0 -2.8 0M53.85 266.25a1.4 1.4 0 1 0 2.8 0a1.4 1.4 0 1 0 -2.8 0M58.80 266.25a1.4 1.4 0 1 0 2.8 0a1.4 1.4 0 1 0 -2.8 0M61.51 266.96a1.4 1.4 0 1 0 2.8 0a1.4 1.4 0 1 0 -2.8 0M64.51 267.67a1.4 1.4 0 1 0 2.8 0a1.4 1.4 0 1 0 -2.8 0M56.93 268.38a1.4 1.4 0 1 0 2.8 0a1.4 1.4 0 1 0 -2.8 0M67.65 268.38a1.4 1.4 0 1 0 2.8 0a1.4 1.4 0 1 0 -2.8 0M53.37 269.09a1.4 1.4 0 1 0 2.8 0a1.4 1.4 0 1 0 -2.8 0M60.27 269.80a1.4 1.4 0 1 0 2.8 0a1.4 1.4 0 1 0 -2.8 0M63.07 269.80a1.4 1.4 0 1 0 2.8 0a1.4 1.4 0 1 0 -2.8 0M65.67 270.51a1.4 1.4 0 1 0 2.8 0a1.4 1.4 0 1 0 -2.8 0M56.15 271.22a1.4 1.4 0 1 0 2.8 0a1.4 1.4 0 1 0 -2.8 0M58.43 271.22a1.4 1.4 0 1 0 2.8 0a1.4 1.4 0 1 0 -2.8 0M53.14 271.93a1.4 1.4 0 1 0 2.8 0a1.4 1.4 0 1 0 -2.8 0M62.04 272.64a1.4 1.4 0 1 0 2.8 0a1.4 1.4 0 1 0 -2.8 0M66.26 273.35a1.4 1.4 0 1 0 2.8 0a1.4 1.4 0 1 0 -2.8 0M59.57 273.35a1.4 1.4 0 1 0 2.8 0a1.4 1.4 0 1 0 -2.8 0M55.22 274.06a1.4 1.4 0 1 0 2.8 0a1.4 1.4 0 1 0 -2.8 0M63.81 274.77a1.4 1.4 0 1 0 2.8 0a1.4 1.4 0 1 0 -2.8 0M61.24 275.48a1.4 1.4 0 1 0 2.8 0a1.4 1.4 0 1 0 -2.8 0M57.63 275.48a1.4 1.4 0 1 0 2.8 0a1.4 1.4 0 1 0 -2.8 0M66.44 276.19a1.4 1.4 0 1 0 2.8 0a1.4 1.4 0 1 0 -2.8 0M53.56 276.90a1.4 1.4 0 1 0 2.8 0a1.4 1.4 0 1 0 -2.8 0M63.45 277.61a1.4 1.4 0 1 0 2.8 0a1.4 1.4 0 1 0 -2.8 0M58.88 278.32a1.4 1.4 0 1 0 2.8 0a1.4 1.4 0 1 0 -2.8 0M65.89 279.03a1.4 1.4 0 1 0 2.8 0a1.4 1.4 0 1 0 -2.8 0M61.33 279.74a1.4 1.4 0 1 0 2.8 0a1.4 1.4 0 1 0 -2.8 0M56.76 280.45a1.4 1.4 0 1 0 2.8 0a1.4 1.4 0 1 0 -2.8 0M63.82 281.16a1.4 1.4 0 1 0 2.8 0a1.4 1.4 0 1 0 -2.8 0M59.33 281.87a1.4 1.4 0 1 0 2.8 0a1.4 1.4 0 1 0 -2.8 0M54.81 282.58a1.4 1.4 0 1 0 2.8 0a1.4 1.4 0 1 0 -2.8 0M67.86 283.29a1.4 1.4 0 1 0 2.8 0a1.4 1.4 0 1 0 -2.8 0M64.24 284.00a1.4 1.4 0 1 0 2.8 0a1.4 1.4 0 1 0 -2.8 0M60.99 285.42a1.4 1.4 0 1 0 2.8 0a1.4 1.4 0 1 0 -2.8 0M59.15 289.68a1.4 1.4 0 1 0 2.8 0a1.4 1.4 0 1 0 -2.8 0M60.47 293.23a1.4 1.4 0 1 0 2.8 0a1.4 1.4 0 1 0 -2.8 0M62.38 296.78a1.4 1.4 0 1 0 2.8 0a1.4 1.4 0 1 0 -2.8 0M58.92 299.62a1.4 1.4 0 1 0 2.8 0a1.4 1.4 0 1 0 -2.8 0M61.94 301.75a1.4 1.4 0 1 0 2.8 0a1.4 1.4 0 1 0 -2.8 0" fill="#111"/>
<path d="M82.22 264.83a1.4 1.4 0 1 0 2.8 0a1.4 1.4 0 1 0 -2.8 0M87.45 274.77a1.4 1.4 0 1 0 2.8 0a1.4 1.4 0 1 0 -2.8 0M81.55 276.19a1.4 1.4 0 1 0 2.8 0a1.4 1.4 0 1 0 -2.8 0M85.92 277.61a1.4 1.4 0 1 0 2.8 0a1.4 1.4 0 1 0 -2.8 0M89.45 278.32a1.4 1.4 0 1 0 2.8 0a1.4 1.4 0 1 0 -2.8 0M82.56 279.74a1.4 1.4 0 1 0 2.8 0a1.4 1.4 0 1 0 -2.8 0M87.64 284.00a1.4 1.4 0 1 0 2.8 0a1.4 1.4 0 1 0 -2.8 0M81.36 285.42a1.4 1.4 0 1 0 2.8 0a1.4 1.4 0 1 0 -2.8 0M85.84 288.26a1.4 1.4 0 1 0 2.8 0a1.4 1.4 0 1 0 -2.8 0M80.60 289.68a1.4 1.4 0 1 0 2.8 0a1.4 1.4 0 1 0 -2.8 0M87.39 291.10a1.4 1.4 0 1 0 2.8 0a1.4 1.4 0 1 0 -2.8 0M84.31 291.10a1.4 1.4 0 1 0 2.8 0a1.4 1.4 0 1 0 -2.8 0M79.90 292.52a1.4 1.4 0 1 0 2.8 0a1.4 1.4 0 1 0 -2.8 0M91.31 293.23a1.4 1.4 0 1 0 2.8 0a1.4 1.4 0 1 0 -2.8 0M86.38 294.65a1.4 1.4 0 1 0 2.8 0a1.4 1.4 0 1 0 -2.8 0M81.76 296.07a1.4 1.4 0 1 0 2.8 0a1.4 1.4 0 1 0 -2.8 0M86.52 297.49a1.4 1.4 0 1 0 2.8 0a1.4 1.4 0 1 0 -2.8 0M80.86 298.91a1.4 1.4 0 1 0 2.8 0a1.4 1.4 0 1 0 -2.8 0M84.81 300.33a1.4 1.4 0 1 0 2.8 0a1.4 1.4 0 1 0 -2.8 0M81.63 301.75a1.4 1.4 0 1 0 2.8 0a1.4 1.4 0 1 0 -2.8 0M85.79 303.17a1.4 1.4 0 1 0 2.8 0a1.4 1.4 0 1 0 -2.8 0M79.68 303.88a1.4 1.4 0 1 0 2.8 0a1.4 1.4 0 1 0 -2.8 0M83.40 305.30a1.4 1.4 0 1 0 2.8 0a1.4 1.4 0 1 0 -2.8 0M87.17 306.72a1.4 1.4 0 1 0 2.8 0a1.4 1.4 0 1 0 -2.8 0M82.30 308.14a1.4 1.4 0 1 0 2.8 0a1.4 1.4 0 1 0 -2.8 0M85.23 308.85a1.4 1.4 0 1 0 2.8 0a1.4 1.4 0 1 0 -2.8 0M88.27 310.27a1.4 1.4 0 1 0 2.8 0a1.4 1.4 0 1 0 -2.8 0M83.30 310.98a1.4 1.4 0 1 0 2.8 0a1.4 1.4 0 1 0 -2.8 0M79.54 312.40a1.4 1.4 0 1 0 2.8 0a1.4 1.4 0 1 0 -2.8 0M83.89 313.82a1.4 1.4 0 1 0 2.8 0a1.4 1.4 0 1 0 -2.8 0M87.70 314.53a1.4 1.4 0 1 0 2.8 0a1.4 1.4 0 1 0 -2.8 0M79.12 315.95a1.4 1.4 0 1 0 2.8 0a1.4 1.4 0 1 0 -2.8 0M81.95 316.66a1.4 1.4 0 1 0 2.8 0a1.4 1.4 0 1 0 -2.8 0M87.19 318.08a1.4 1.4 0 1 0 2.8 0a1.4 1.4 0 1 0 -2.8 0M79.99 319.50a1.4 1.4 0 1 0 2.8 0a1.4 1.4 0 1 0 -2.8 0M86.82 320.92a1.4 1.4 0 1 0 2.8 0a1.4 1.4 0 1 0 -2.8 0M83.97 323.05a1.4 1.4 0 1 0 2.8 0a1.4 1.4 0 1 0 -2.8 0M84.69 326.60a1.4 1.4 0 1 0 2.8 0a1.4 1.4 0 1 0 -2.8 0M88.21 328.02a1.4 1.4 0 1 0 2.8 0a1.4 1.4 0 1 0 -2.8 0M83.87 332.28a1.4 1.4 0 1 0 2.8 0a1.4 1.4 0 1 0 -2.8 0" fill="#111"/>
<rect x="54.00" y="274.18" width="15.60" height="2.60" fill="#e8473f"/>
<rect x="77.70" y="301.16" width="15.60" height="2.60" fill="#e8473f"/>
<text x="63.80" y="341.50" font-size="9.8" text-anchor="end" fill="#1e1e1e" transform="rotate(-45 63.8 341.5)">KIR-</text>
<text x="86.10" y="342.90" font-size="9.8" text-anchor="end" fill="#1e1e1e" transform="rotate(-45 86.1 342.9)">KIR+</text>
<line x1="131.80" y1="262.70" x2="131.80" y2="333.70" stroke="#5a5a5a" stroke-width="1"/>
<line x1="131.80" y1="333.70" x2="177.80" y2="333.70" stroke="#5a5a5a" stroke-width="1"/>
<line x1="128.30" y1="333.70" x2="131.80" y2="333.70" stroke="#5a5a5a" stroke-width="1"/>
<text x="127.50" y="337.60" font-size="10.8" text-anchor="end" fill="#1e1e1e" textLength="6.7" lengthAdjust="spacingAndGlyphs">0</text>
<line x1="128.30" y1="319.50" x2="131.80" y2="319.50" stroke="#5a5a5a" stroke-width="1"/>
<text x="127.50" y="323.40" font-size="10.8" text-anchor="end" fill="#1e1e1e" textLength="13.4" lengthAdjust="spacingAndGlyphs">20</text>
<line x1="128.30" y1="305.30" x2="131.80" y2="305.30" stroke="#5a5a5a" stroke-width="1"/>
<text x="127.50" y="309.20" font-size="10.8" text-anchor="end" fill="#1e1e1e" textLength="13.4" lengthAdjust="spacingAndGlyphs">40</text>
<line x1="128.30" y1="291.10" x2="131.80" y2="291.10" stroke="#5a5a5a" stroke-width="1"/>
<text x="127.50" y="295.00" font-size="10.8" text-anchor="end" fill="#1e1e1e" textLength="13.4" lengthAdjust="spacingAndGlyphs">60</text>
<line x1="128.30" y1="276.90" x2="131.80" y2="276.90" stroke="#5a5a5a" stroke-width="1"/>
<text x="127.50" y="280.80" font-size="10.8" text-anchor="end" fill="#1e1e1e" textLength="13.4" lengthAdjust="spacingAndGlyphs">80</text>
<line x1="128.30" y1="262.70" x2="131.80" y2="262.70" stroke="#5a5a5a" stroke-width="1"/>
<text x="127.50" y="266.60" font-size="10.8" text-anchor="end" fill="#1e1e1e" textLength="20.1" lengthAdjust="spacingAndGlyphs">100</text>
<text x="150.50" y="241.70" font-size="9.6" text-anchor="middle" fill="#1e1e1e">CD28</text>
<path d="M141.80 259.8V257.6H168.00V259.8" fill="none" stroke="#444" stroke-width="0.8"/>
<text x="154.85" y="256.80" font-size="8.4" text-anchor="middle" fill="#222" font-weight="bold">***</text>
<path d="M145.78 266.25a1.4 1.4 0 1 0 2.8 0a1.4 1.4 0 1 0 -2.8 0M143.06 267.67a1.4 1.4 0 1 0 2.8 0a1.4 1.4 0 1 0 -2.8 0M140.06 268.38a1.4 1.4 0 1 0 2.8 0a1.4 1.4 0 1 0 -2.8 0M145.11 269.80a1.4 1.4 0 1 0 2.8 0a1.4 1.4 0 1 0 -2.8 0M142.17 271.22a1.4 1.4 0 1 0 2.8 0a1.4 1.4 0 1 0 -2.8 0M138.30 271.93a1.4 1.4 0 1 0 2.8 0a1.4 1.4 0 1 0 -2.8 0M145.34 272.64a1.4 1.4 0 1 0 2.8 0a1.4 1.4 0 1 0 -2.8 0M149.46 273.35a1.4 1.4 0 1 0 2.8 0a1.4 1.4 0 1 0 -2.8 0M140.50 274.06a1.4 1.4 0 1 0 2.8 0a1.4 1.4 0 1 0 -2.8 0M137.62 274.77a1.4 1.4 0 1 0 2.8 0a1.4 1.4 0 1 0 -2.8 0M143.92 275.48a1.4 1.4 0 1 0 2.8 0a1.4 1.4 0 1 0 -2.8 0M140.53 276.90a1.4 1.4 0 1 0 2.8 0a1.4 1.4 0 1 0 -2.8 0M146.99 277.61a1.4 1.4 0 1 0 2.8 0a1.4 1.4 0 1 0 -2.8 0M143.91 278.32a1.4 1.4 0 1 0 2.8 0a1.4 1.4 0 1 0 -2.8 0M138.27 279.03a1.4 1.4 0 1 0 2.8 0a1.4 1.4 0 1 0 -2.8 0M148.91 279.74a1.4 1.4 0 1 0 2.8 0a1.4 1.4 0 1 0 -2.8 0M141.16 280.45a1.4 1.4 0 1 0 2.8 0a1.4 1.4 0 1 0 -2.8 0M146.44 281.87a1.4 1.4 0 1 0 2.8 0a1.4 1.4 0 1 0 -2.8 0M143.29 282.58a1.4 1.4 0 1 0 2.8 0a1.4 1.4 0 1 0 -2.8 0M139.83 284.00a1.4 1.4 0 1 0 2.8 0a1.4 1.4 0 1 0 -2.8 0M145.21 284.71a1.4 1.4 0 1 0 2.8 0a1.4 1.4 0 1 0 -2.8 0M142.30 285.42a1.4 1.4 0 1 0 2.8 0a1.4 1.4 0 1 0 -2.8 0M138.40 286.84a1.4 1.4 0 1 0 2.8 0a1.4 1.4 0 1 0 -2.8 0M145.46 287.55a1.4 1.4 0 1 0 2.8 0a1.4 1.4 0 1 0 -2.8 0M141.82 288.97a1.4 1.4 0 1 0 2.8 0a1.4 1.4 0 1 0 -2.8 0M148.13 289.68a1.4 1.4 0 1 0 2.8 0a1.4 1.4 0 1 0 -2.8 0M145.60 291.10a1.4 1.4 0 1 0 2.8 0a1.4 1.4 0 1 0 -2.8 0M139.39 292.52a1.4 1.4 0 1 0 2.8 0a1.4 1.4 0 1 0 -2.8 0M143.18 293.23a1.4 1.4 0 1 0 2.8 0a1.4 1.4 0 1 0 -2.8 0M146.71 294.65a1.4 1.4 0 1 0 2.8 0a1.4 1.4 0 1 0 -2.8 0M142.36 296.07a1.4 1.4 0 1 0 2.8 0a1.4 1.4 0 1 0 -2.8 0M146.23 297.49a1.4 1.4 0 1 0 2.8 0a1.4 1.4 0 1 0 -2.8 0M141.37 298.91a1.4 1.4 0 1 0 2.8 0a1.4 1.4 0 1 0 -2.8 0M144.12 299.62a1.4 1.4 0 1 0 2.8 0a1.4 1.4 0 1 0 -2.8 0M138.30 300.33a1.4 1.4 0 1 0 2.8 0a1.4 1.4 0 1 0 -2.8 0M140.75 301.75a1.4 1.4 0 1 0 2.8 0a1.4 1.4 0 1 0 -2.8 0M143.24 313.82a1.4 1.4 0 1 0 2.8 0a1.4 1.4 0 1 0 -2.8 0M145.88 317.37a1.4 1.4 0 1 0 2.8 0a1.4 1.4 0 1 0 -2.8 0M141.04 318.08a1.4 1.4 0 1 0 2.8 0a1.4 1.4 0 1 0 -2.8 0" fill="#111"/>
<path d="M164.30 273.35a1.4 1.4 0 1 0 2.8 0a1.4 1.4 0 1 0 -2.8 0M163.18 293.23a1.4 1.4 0 1 0 2.8 0a1.4 1.4 0 1 0 -2.8 0M162.36 296.07a1.4 1.4 0 1 0 2.8 0a1.4 1.4 0 1 0 -2.8 0M168.48 299.62a1.4 1.4 0 1 0 2.8 0a1.4 1.4 0 1 0 -2.8 0M163.94 303.88a1.4 1.4 0 1 0 2.8 0a1.4 1.4 0 1 0 -2.8 0M168.11 306.72a1.4 1.4 0 1 0 2.8 0a1.4 1.4 0 1 0 -2.8 0M165.04 310.27a1.4 1.4 0 1 0 2.8 0a1.4 1.4 0 1 0 -2.8 0M168.60 311.69a1.4 1.4 0 1 0 2.8 0a1.4 1.4 0 1 0 -2.8 0M162.53 312.40a1.4 1.4 0 1 0 2.8 0a1.4 1.4 0 1 0 -2.8 0M166.58 313.82a1.4 1.4 0 1 0 2.8 0a1.4 1.4 0 1 0 -2.8 0M170.01 314.53a1.4 1.4 0 1 0 2.8 0a1.4 1.4 0 1 0 -2.8 0M164.59 315.95a1.4 1.4 0 1 0 2.8 0a1.4 1.4 0 1 0 -2.8 0M166.52 318.08a1.4 1.4 0 1 0 2.8 0a1.4 1.4 0 1 0 -2.8 0M169.46 319.50a1.4 1.4 0 1 0 2.8 0a1.4 1.4 0 1 0 -2.8 0M164.08 320.21a1.4 1.4 0 1 0 2.8 0a1.4 1.4 0 1 0 -2.8 0M160.89 320.92a1.4 1.4 0 1 0 2.8 0a1.4 1.4 0 1 0 -2.8 0M172.77 321.63a1.4 1.4 0 1 0 2.8 0a1.4 1.4 0 1 0 -2.8 0M167.15 322.34a1.4 1.4 0 1 0 2.8 0a1.4 1.4 0 1 0 -2.8 0M163.82 323.05a1.4 1.4 0 1 0 2.8 0a1.4 1.4 0 1 0 -2.8 0M169.61 323.76a1.4 1.4 0 1 0 2.8 0a1.4 1.4 0 1 0 -2.8 0M166.23 325.18a1.4 1.4 0 1 0 2.8 0a1.4 1.4 0 1 0 -2.8 0M163.03 325.89a1.4 1.4 0 1 0 2.8 0a1.4 1.4 0 1 0 -2.8 0M168.95 326.60a1.4 1.4 0 1 0 2.8 0a1.4 1.4 0 1 0 -2.8 0M172.07 327.31a1.4 1.4 0 1 0 2.8 0a1.4 1.4 0 1 0 -2.8 0M166.20 328.02a1.4 1.4 0 1 0 2.8 0a1.4 1.4 0 1 0 -2.8 0M162.25 328.73a1.4 1.4 0 1 0 2.8 0a1.4 1.4 0 1 0 -2.8 0M168.71 329.44a1.4 1.4 0 1 0 2.8 0a1.4 1.4 0 1 0 -2.8 0M172.27 330.15a1.4 1.4 0 1 0 2.8 0a1.4 1.4 0 1 0 -2.8 0M159.75 330.15a1.4 1.4 0 1 0 2.8 0a1.4 1.4 0 1 0 -2.8 0M166.06 330.86a1.4 1.4 0 1 0 2.8 0a1.4 1.4 0 1 0 -2.8 0M162.29 331.57a1.4 1.4 0 1 0 2.8 0a1.4 1.4 0 1 0 -2.8 0M169.95 331.57a1.4 1.4 0 1 0 2.8 0a1.4 1.4 0 1 0 -2.8 0M173.50 332.28a1.4 1.4 0 1 0 2.8 0a1.4 1.4 0 1 0 -2.8 0M158.93 332.28a1.4 1.4 0 1 0 2.8 0a1.4 1.4 0 1 0 -2.8 0M167.61 332.99a1.4 1.4 0 1 0 2.8 0a1.4 1.4 0 1 0 -2.8 0M164.58 332.99a1.4 1.4 0 1 0 2.8 0a1.4 1.4 0 1 0 -2.8 0M171.43 333.34a1.4 1.4 0 1 0 2.8 0a1.4 1.4 0 1 0 -2.8 0" fill="#111"/>
<rect x="136.00" y="284.12" width="15.60" height="2.60" fill="#e8473f"/>
<rect x="159.70" y="319.90" width="15.60" height="2.60" fill="#e8473f"/>
<text x="145.80" y="341.50" font-size="9.8" text-anchor="end" fill="#1e1e1e" transform="rotate(-45 145.8 341.5)">KIR-</text>
<text x="168.10" y="342.90" font-size="9.8" text-anchor="end" fill="#1e1e1e" transform="rotate(-45 168.1 342.9)">KIR+</text>
<line x1="213.80" y1="262.70" x2="213.80" y2="333.70" stroke="#5a5a5a" stroke-width="1"/>
<line x1="213.80" y1="333.70" x2="259.80" y2="333.70" stroke="#5a5a5a" stroke-width="1"/>
<line x1="210.30" y1="333.70" x2="213.80" y2="333.70" stroke="#5a5a5a" stroke-width="1"/>
<text x="209.50" y="337.60" font-size="10.8" text-anchor="end" fill="#1e1e1e" textLength="6.7" lengthAdjust="spacingAndGlyphs">0</text>
<line x1="210.30" y1="319.50" x2="213.80" y2="319.50" stroke="#5a5a5a" stroke-width="1"/>
<text x="209.50" y="323.40" font-size="10.8" text-anchor="end" fill="#1e1e1e" textLength="13.4" lengthAdjust="spacingAndGlyphs">20</text>
<line x1="210.30" y1="305.30" x2="213.80" y2="305.30" stroke="#5a5a5a" stroke-width="1"/>
<text x="209.50" y="309.20" font-size="10.8" text-anchor="end" fill="#1e1e1e" textLength="13.4" lengthAdjust="spacingAndGlyphs">40</text>
<line x1="210.30" y1="291.10" x2="213.80" y2="291.10" stroke="#5a5a5a" stroke-width="1"/>
<text x="209.50" y="295.00" font-size="10.8" text-anchor="end" fill="#1e1e1e" textLength="13.4" lengthAdjust="spacingAndGlyphs">60</text>
<line x1="210.30" y1="276.90" x2="213.80" y2="276.90" stroke="#5a5a5a" stroke-width="1"/>
<text x="209.50" y="280.80" font-size="10.8" text-anchor="end" fill="#1e1e1e" textLength="13.4" lengthAdjust="spacingAndGlyphs">80</text>
<line x1="210.30" y1="262.70" x2="213.80" y2="262.70" stroke="#5a5a5a" stroke-width="1"/>
<text x="209.50" y="266.60" font-size="10.8" text-anchor="end" fill="#1e1e1e" textLength="20.1" lengthAdjust="spacingAndGlyphs">100</text>
<text x="232.50" y="241.70" font-size="9.6" text-anchor="middle" fill="#1e1e1e">CD45RA</text>
<path d="M223.80 259.8V257.6H250.00V259.8" fill="none" stroke="#444" stroke-width="0.8"/>
<text x="236.85" y="256.80" font-size="8.4" text-anchor="middle" fill="#222" font-weight="bold">***</text>
<path d="M221.14 274.77a1.4 1.4 0 1 0 2.8 0a1.4 1.4 0 1 0 -2.8 0M225.63 275.48a1.4 1.4 0 1 0 2.8 0a1.4 1.4 0 1 0 -2.8 0M218.67 276.19a1.4 1.4 0 1 0 2.8 0a1.4 1.4 0 1 0 -2.8 0M228.64 276.90a1.4 1.4 0 1 0 2.8 0a1.4 1.4 0 1 0 -2.8 0M222.84 277.61a1.4 1.4 0 1 0 2.8 0a1.4 1.4 0 1 0 -2.8 0M228.40 279.74a1.4 1.4 0 1 0 2.8 0a1.4 1.4 0 1 0 -2.8 0M220.56 280.45a1.4 1.4 0 1 0 2.8 0a1.4 1.4 0 1 0 -2.8 0M222.97 281.87a1.4 1.4 0 1 0 2.8 0a1.4 1.4 0 1 0 -2.8 0M226.58 284.00a1.4 1.4 0 1 0 2.8 0a1.4 1.4 0 1 0 -2.8 0M222.70 285.42a1.4 1.4 0 1 0 2.8 0a1.4 1.4 0 1 0 -2.8 0M225.90 286.84a1.4 1.4 0 1 0 2.8 0a1.4 1.4 0 1 0 -2.8 0M221.80 288.26a1.4 1.4 0 1 0 2.8 0a1.4 1.4 0 1 0 -2.8 0M224.42 289.68a1.4 1.4 0 1 0 2.8 0a1.4 1.4 0 1 0 -2.8 0M220.84 291.10a1.4 1.4 0 1 0 2.8 0a1.4 1.4 0 1 0 -2.8 0M227.27 292.52a1.4 1.4 0 1 0 2.8 0a1.4 1.4 0 1 0 -2.8 0M224.07 293.23a1.4 1.4 0 1 0 2.8 0a1.4 1.4 0 1 0 -2.8 0M221.46 294.65a1.4 1.4 0 1 0 2.8 0a1.4 1.4 0 1 0 -2.8 0M227.53 295.36a1.4 1.4 0 1 0 2.8 0a1.4 1.4 0 1 0 -2.8 0M224.48 296.78a1.4 1.4 0 1 0 2.8 0a1.4 1.4 0 1 0 -2.8 0M221.42 297.49a1.4 1.4 0 1 0 2.8 0a1.4 1.4 0 1 0 -2.8 0M227.10 298.20a1.4 1.4 0 1 0 2.8 0a1.4 1.4 0 1 0 -2.8 0M231.55 298.91a1.4 1.4 0 1 0 2.8 0a1.4 1.4 0 1 0 -2.8 0M223.44 299.62a1.4 1.4 0 1 0 2.8 0a1.4 1.4 0 1 0 -2.8 0M220.03 300.33a1.4 1.4 0 1 0 2.8 0a1.4 1.4 0 1 0 -2.8 0M228.00 301.04a1.4 1.4 0 1 0 2.8 0a1.4 1.4 0 1 0 -2.8 0M230.92 301.75a1.4 1.4 0 1 0 2.8 0a1.4 1.4 0 1 0 -2.8 0M225.19 302.46a1.4 1.4 0 1 0 2.8 0a1.4 1.4 0 1 0 -2.8 0M222.20 303.88a1.4 1.4 0 1 0 2.8 0a1.4 1.4 0 1 0 -2.8 0M225.39 305.30a1.4 1.4 0 1 0 2.8 0a1.4 1.4 0 1 0 -2.8 0M222.04 306.72a1.4 1.4 0 1 0 2.8 0a1.4 1.4 0 1 0 -2.8 0M228.20 308.14a1.4 1.4 0 1 0 2.8 0a1.4 1.4 0 1 0 -2.8 0M221.60 309.56a1.4 1.4 0 1 0 2.8 0a1.4 1.4 0 1 0 -2.8 0M224.54 310.27a1.4 1.4 0 1 0 2.8 0a1.4 1.4 0 1 0 -2.8 0M228.10 310.98a1.4 1.4 0 1 0 2.8 0a1.4 1.4 0 1 0 -2.8 0M219.53 311.69a1.4 1.4 0 1 0 2.8 0a1.4 1.4 0 1 0 -2.8 0M222.33 312.40a1.4 1.4 0 1 0 2.8 0a1.4 1.4 0 1 0 -2.8 0M225.59 313.82a1.4 1.4 0 1 0 2.8 0a1.4 1.4 0 1 0 -2.8 0M221.28 315.95a1.4 1.4 0 1 0 2.8 0a1.4 1.4 0 1 0 -2.8 0M228.05 319.50a1.4 1.4 0 1 0 2.8 0a1.4 1.4 0 1 0 -2.8 0M223.55 320.92a1.4 1.4 0 1 0 2.8 0a1.4 1.4 0 1 0 -2.8 0" fill="#111"/>
<path d="M245.04 264.83a1.4 1.4 0 1 0 2.8 0a1.4 1.4 0 1 0 -2.8 0M251.47 265.54a1.4 1.4 0 1 0 2.8 0a1.4 1.4 0 1 0 -2.8 0M242.33 266.25a1.4 1.4 0 1 0 2.8 0a1.4 1.4 0 1 0 -2.8 0M248.28 267.67a1.4 1.4 0 1 0 2.8 0a1.4 1.4 0 1 0 -2.8 0M245.35 268.38a1.4 1.4 0 1 0 2.8 0a1.4 1.4 0 1 0 -2.8 0M252.05 269.09a1.4 1.4 0 1 0 2.8 0a1.4 1.4 0 1 0 -2.8 0M241.99 269.80a1.4 1.4 0 1 0 2.8 0a1.4 1.4 0 1 0 -2.8 0M247.38 271.22a1.4 1.4 0 1 0 2.8 0a1.4 1.4 0 1 0 -2.8 0M244.53 271.93a1.4 1.4 0 1 0 2.8 0a1.4 1.4 0 1 0 -2.8 0M249.95 272.64a1.4 1.4 0 1 0 2.8 0a1.4 1.4 0 1 0 -2.8 0M252.91 273.35a1.4 1.4 0 1 0 2.8 0a1.4 1.4 0 1 0 -2.8 0M246.52 274.06a1.4 1.4 0 1 0 2.8 0a1.4 1.4 0 1 0 -2.8 0M243.88 275.48a1.4 1.4 0 1 0 2.8 0a1.4 1.4 0 1 0 -2.8 0M251.47 276.19a1.4 1.4 0 1 0 2.8 0a1.4 1.4 0 1 0 -2.8 0M247.43 276.90a1.4 1.4 0 1 0 2.8 0a1.4 1.4 0 1 0 -2.8 0M254.85 277.61a1.4 1.4 0 1 0 2.8 0a1.4 1.4 0 1 0 -2.8 0M244.74 278.32a1.4 1.4 0 1 0 2.8 0a1.4 1.4 0 1 0 -2.8 0M251.39 279.03a1.4 1.4 0 1 0 2.8 0a1.4 1.4 0 1 0 -2.8 0M248.43 279.74a1.4 1.4 0 1 0 2.8 0a1.4 1.4 0 1 0 -2.8 0M254.02 280.45a1.4 1.4 0 1 0 2.8 0a1.4 1.4 0 1 0 -2.8 0M244.92 281.16a1.4 1.4 0 1 0 2.8 0a1.4 1.4 0 1 0 -2.8 0M251.47 281.87a1.4 1.4 0 1 0 2.8 0a1.4 1.4 0 1 0 -2.8 0M248.40 282.58a1.4 1.4 0 1 0 2.8 0a1.4 1.4 0 1 0 -2.8 0M245.96 284.00a1.4 1.4 0 1 0 2.8 0a1.4 1.4 0 1 0 -2.8 0M251.70 284.71a1.4 1.4 0 1 0 2.8 0a1.4 1.4 0 1 0 -2.8 0M248.76 285.42a1.4 1.4 0 1 0 2.8 0a1.4 1.4 0 1 0 -2.8 0M245.76 286.84a1.4 1.4 0 1 0 2.8 0a1.4 1.4 0 1 0 -2.8 0M252.24 287.55a1.4 1.4 0 1 0 2.8 0a1.4 1.4 0 1 0 -2.8 0M249.10 288.97a1.4 1.4 0 1 0 2.8 0a1.4 1.4 0 1 0 -2.8 0M245.18 289.68a1.4 1.4 0 1 0 2.8 0a1.4 1.4 0 1 0 -2.8 0M252.50 291.10a1.4 1.4 0 1 0 2.8 0a1.4 1.4 0 1 0 -2.8 0M249.16 292.52a1.4 1.4 0 1 0 2.8 0a1.4 1.4 0 1 0 -2.8 0M244.91 293.23a1.4 1.4 0 1 0 2.8 0a1.4 1.4 0 1 0 -2.8 0M252.45 294.65a1.4 1.4 0 1 0 2.8 0a1.4 1.4 0 1 0 -2.8 0M244.88 296.07a1.4 1.4 0 1 0 2.8 0a1.4 1.4 0 1 0 -2.8 0M250.23 296.78a1.4 1.4 0 1 0 2.8 0a1.4 1.4 0 1 0 -2.8 0M247.42 298.20a1.4 1.4 0 1 0 2.8 0a1.4 1.4 0 1 0 -2.8 0M252.66 298.91a1.4 1.4 0 1 0 2.8 0a1.4 1.4 0 1 0 -2.8 0M243.24 299.62a1.4 1.4 0 1 0 2.8 0a1.4 1.4 0 1 0 -2.8 0" fill="#111"/>
<rect x="218.00" y="294.77" width="15.60" height="2.60" fill="#e8473f"/>
<rect x="241.70" y="279.86" width="15.60" height="2.60" fill="#e8473f"/>
<text x="227.80" y="341.50" font-size="9.8" text-anchor="end" fill="#1e1e1e" transform="rotate(-45 227.8 341.5)">KIR-</text>
<text x="250.10" y="342.90" font-size="9.8" text-anchor="end" fill="#1e1e1e" transform="rotate(-45 250.1 342.9)">KIR+</text>
<line x1="295.80" y1="262.70" x2="295.80" y2="333.70" stroke="#5a5a5a" stroke-width="1"/>
<line x1="295.80" y1="333.70" x2="341.80" y2="333.70" stroke="#5a5a5a" stroke-width="1"/>
<line x1="292.30" y1="333.70" x2="295.80" y2="333.70" stroke="#5a5a5a" stroke-width="1"/>
<text x="291.50" y="337.60" font-size="10.8" text-anchor="end" fill="#1e1e1e" textLength="6.7" lengthAdjust="spacingAndGlyphs">0</text>
<line x1="292.30" y1="319.50" x2="295.80" y2="319.50" stroke="#5a5a5a" stroke-width="1"/>
<text x="291.50" y="323.40" font-size="10.8" text-anchor="end" fill="#1e1e1e" textLength="13.4" lengthAdjust="spacingAndGlyphs">20</text>
<line x1="292.30" y1="305.30" x2="295.80" y2="305.30" stroke="#5a5a5a" stroke-width="1"/>
<text x="291.50" y="309.20" font-size="10.8" text-anchor="end" fill="#1e1e1e" textLength="13.4" lengthAdjust="spacingAndGlyphs">40</text>
<line x1="292.30" y1="291.10" x2="295.80" y2="291.10" stroke="#5a5a5a" stroke-width="1"/>
<text x="291.50" y="295.00" font-size="10.8" text-anchor="end" fill="#1e1e1e" textLength="13.4" lengthAdjust="spacingAndGlyphs">60</text>
<line x1="292.30" y1="276.90" x2="295.80" y2="276.90" stroke="#5a5a5a" stroke-width="1"/>
<text x="291.50" y="280.80" font-size="10.8" text-anchor="end" fill="#1e1e1e" textLength="13.4" lengthAdjust="spacingAndGlyphs">80</text>
<line x1="292.30" y1="262.70" x2="295.80" y2="262.70" stroke="#5a5a5a" stroke-width="1"/>
<text x="291.50" y="266.60" font-size="10.8" text-anchor="end" fill="#1e1e1e" textLength="20.1" lengthAdjust="spacingAndGlyphs">100</text>
<text x="314.50" y="241.70" font-size="9.6" text-anchor="middle" fill="#1e1e1e">CD57</text>
<path d="M305.80 259.8V257.6H332.00V259.8" fill="none" stroke="#444" stroke-width="0.8"/>
<text x="318.85" y="256.80" font-size="8.4" text-anchor="middle" fill="#222" font-weight="bold">***</text>
<path d="M303.42 308.14a1.4 1.4 0 1 0 2.8 0a1.4 1.4 0 1 0 -2.8 0M308.69 309.56a1.4 1.4 0 1 0 2.8 0a1.4 1.4 0 1 0 -2.8 0M305.47 310.98a1.4 1.4 0 1 0 2.8 0a1.4 1.4 0 1 0 -2.8 0M302.32 311.69a1.4 1.4 0 1 0 2.8 0a1.4 1.4 0 1 0 -2.8 0M309.03 312.40a1.4 1.4 0 1 0 2.8 0a1.4 1.4 0 1 0 -2.8 0M312.53 313.11a1.4 1.4 0 1 0 2.8 0a1.4 1.4 0 1 0 -2.8 0M305.93 313.82a1.4 1.4 0 1 0 2.8 0a1.4 1.4 0 1 0 -2.8 0M301.79 314.53a1.4 1.4 0 1 0 2.8 0a1.4 1.4 0 1 0 -2.8 0M309.78 315.24a1.4 1.4 0 1 0 2.8 0a1.4 1.4 0 1 0 -2.8 0M313.16 315.95a1.4 1.4 0 1 0 2.8 0a1.4 1.4 0 1 0 -2.8 0M306.69 316.66a1.4 1.4 0 1 0 2.8 0a1.4 1.4 0 1 0 -2.8 0M303.91 317.37a1.4 1.4 0 1 0 2.8 0a1.4 1.4 0 1 0 -2.8 0M309.65 318.08a1.4 1.4 0 1 0 2.8 0a1.4 1.4 0 1 0 -2.8 0M301.32 318.79a1.4 1.4 0 1 0 2.8 0a1.4 1.4 0 1 0 -2.8 0M306.84 319.50a1.4 1.4 0 1 0 2.8 0a1.4 1.4 0 1 0 -2.8 0M303.78 320.21a1.4 1.4 0 1 0 2.8 0a1.4 1.4 0 1 0 -2.8 0M310.03 320.92a1.4 1.4 0 1 0 2.8 0a1.4 1.4 0 1 0 -2.8 0M313.78 321.63a1.4 1.4 0 1 0 2.8 0a1.4 1.4 0 1 0 -2.8 0M307.32 322.34a1.4 1.4 0 1 0 2.8 0a1.4 1.4 0 1 0 -2.8 0M303.48 323.05a1.4 1.4 0 1 0 2.8 0a1.4 1.4 0 1 0 -2.8 0M310.96 323.76a1.4 1.4 0 1 0 2.8 0a1.4 1.4 0 1 0 -2.8 0M299.66 324.47a1.4 1.4 0 1 0 2.8 0a1.4 1.4 0 1 0 -2.8 0M306.20 325.18a1.4 1.4 0 1 0 2.8 0a1.4 1.4 0 1 0 -2.8 0M312.99 325.89a1.4 1.4 0 1 0 2.8 0a1.4 1.4 0 1 0 -2.8 0M303.75 326.60a1.4 1.4 0 1 0 2.8 0a1.4 1.4 0 1 0 -2.8 0M309.61 327.31a1.4 1.4 0 1 0 2.8 0a1.4 1.4 0 1 0 -2.8 0M306.38 328.02a1.4 1.4 0 1 0 2.8 0a1.4 1.4 0 1 0 -2.8 0M301.59 328.73a1.4 1.4 0 1 0 2.8 0a1.4 1.4 0 1 0 -2.8 0M311.63 329.44a1.4 1.4 0 1 0 2.8 0a1.4 1.4 0 1 0 -2.8 0M304.30 330.15a1.4 1.4 0 1 0 2.8 0a1.4 1.4 0 1 0 -2.8 0M307.63 330.86a1.4 1.4 0 1 0 2.8 0a1.4 1.4 0 1 0 -2.8 0M301.83 331.57a1.4 1.4 0 1 0 2.8 0a1.4 1.4 0 1 0 -2.8 0M311.02 332.28a1.4 1.4 0 1 0 2.8 0a1.4 1.4 0 1 0 -2.8 0M299.16 332.28a1.4 1.4 0 1 0 2.8 0a1.4 1.4 0 1 0 -2.8 0M305.33 332.99a1.4 1.4 0 1 0 2.8 0a1.4 1.4 0 1 0 -2.8 0M308.60 332.99a1.4 1.4 0 1 0 2.8 0a1.4 1.4 0 1 0 -2.8 0" fill="#111"/>
<path d="M328.08 268.38a1.4 1.4 0 1 0 2.8 0a1.4 1.4 0 1 0 -2.8 0M329.16 272.64a1.4 1.4 0 1 0 2.8 0a1.4 1.4 0 1 0 -2.8 0M331.68 274.77a1.4 1.4 0 1 0 2.8 0a1.4 1.4 0 1 0 -2.8 0M334.74 276.19a1.4 1.4 0 1 0 2.8 0a1.4 1.4 0 1 0 -2.8 0M329.70 276.90a1.4 1.4 0 1 0 2.8 0a1.4 1.4 0 1 0 -2.8 0M327.26 278.32a1.4 1.4 0 1 0 2.8 0a1.4 1.4 0 1 0 -2.8 0M334.16 279.74a1.4 1.4 0 1 0 2.8 0a1.4 1.4 0 1 0 -2.8 0M329.12 280.45a1.4 1.4 0 1 0 2.8 0a1.4 1.4 0 1 0 -2.8 0M325.35 281.16a1.4 1.4 0 1 0 2.8 0a1.4 1.4 0 1 0 -2.8 0M331.40 282.58a1.4 1.4 0 1 0 2.8 0a1.4 1.4 0 1 0 -2.8 0M327.81 284.00a1.4 1.4 0 1 0 2.8 0a1.4 1.4 0 1 0 -2.8 0M330.82 285.42a1.4 1.4 0 1 0 2.8 0a1.4 1.4 0 1 0 -2.8 0M327.86 286.84a1.4 1.4 0 1 0 2.8 0a1.4 1.4 0 1 0 -2.8 0M332.75 287.55a1.4 1.4 0 1 0 2.8 0a1.4 1.4 0 1 0 -2.8 0M329.93 288.97a1.4 1.4 0 1 0 2.8 0a1.4 1.4 0 1 0 -2.8 0M326.66 289.68a1.4 1.4 0 1 0 2.8 0a1.4 1.4 0 1 0 -2.8 0M334.27 290.39a1.4 1.4 0 1 0 2.8 0a1.4 1.4 0 1 0 -2.8 0M323.75 291.10a1.4 1.4 0 1 0 2.8 0a1.4 1.4 0 1 0 -2.8 0M328.88 291.81a1.4 1.4 0 1 0 2.8 0a1.4 1.4 0 1 0 -2.8 0M331.92 292.52a1.4 1.4 0 1 0 2.8 0a1.4 1.4 0 1 0 -2.8 0M334.69 293.23a1.4 1.4 0 1 0 2.8 0a1.4 1.4 0 1 0 -2.8 0M325.52 293.94a1.4 1.4 0 1 0 2.8 0a1.4 1.4 0 1 0 -2.8 0M329.85 294.65a1.4 1.4 0 1 0 2.8 0a1.4 1.4 0 1 0 -2.8 0M332.58 295.36a1.4 1.4 0 1 0 2.8 0a1.4 1.4 0 1 0 -2.8 0M325.93 296.78a1.4 1.4 0 1 0 2.8 0a1.4 1.4 0 1 0 -2.8 0M332.37 298.20a1.4 1.4 0 1 0 2.8 0a1.4 1.4 0 1 0 -2.8 0M329.12 298.91a1.4 1.4 0 1 0 2.8 0a1.4 1.4 0 1 0 -2.8 0M325.33 299.62a1.4 1.4 0 1 0 2.8 0a1.4 1.4 0 1 0 -2.8 0M333.00 301.04a1.4 1.4 0 1 0 2.8 0a1.4 1.4 0 1 0 -2.8 0M330.27 301.75a1.4 1.4 0 1 0 2.8 0a1.4 1.4 0 1 0 -2.8 0M325.07 302.46a1.4 1.4 0 1 0 2.8 0a1.4 1.4 0 1 0 -2.8 0M327.81 303.17a1.4 1.4 0 1 0 2.8 0a1.4 1.4 0 1 0 -2.8 0M332.80 303.88a1.4 1.4 0 1 0 2.8 0a1.4 1.4 0 1 0 -2.8 0M336.21 304.59a1.4 1.4 0 1 0 2.8 0a1.4 1.4 0 1 0 -2.8 0M329.63 305.30a1.4 1.4 0 1 0 2.8 0a1.4 1.4 0 1 0 -2.8 0M332.80 306.72a1.4 1.4 0 1 0 2.8 0a1.4 1.4 0 1 0 -2.8 0M330.53 310.98a1.4 1.4 0 1 0 2.8 0a1.4 1.4 0 1 0 -2.8 0M332.50 323.05a1.4 1.4 0 1 0 2.8 0a1.4 1.4 0 1 0 -2.8 0" fill="#111"/>
<rect x="300.00" y="320.33" width="15.60" height="2.60" fill="#e8473f"/>
<rect x="323.70" y="290.51" width="15.60" height="2.60" fill="#e8473f"/>
<text x="309.80" y="341.50" font-size="9.8" text-anchor="end" fill="#1e1e1e" transform="rotate(-45 309.8 341.5)">KIR-</text>
<text x="332.10" y="342.90" font-size="9.8" text-anchor="end" fill="#1e1e1e" transform="rotate(-45 332.1 342.9)">KIR+</text>
<line x1="377.80" y1="262.70" x2="377.80" y2="333.70" stroke="#5a5a5a" stroke-width="1"/>
<line x1="377.80" y1="333.70" x2="423.80" y2="333.70" stroke="#5a5a5a" stroke-width="1"/>
<line x1="374.30" y1="333.70" x2="377.80" y2="333.70" stroke="#5a5a5a" stroke-width="1"/>
<text x="373.50" y="337.60" font-size="10.8" text-anchor="end" fill="#1e1e1e" textLength="6.7" lengthAdjust="spacingAndGlyphs">0</text>
<line x1="374.30" y1="319.50" x2="377.80" y2="319.50" stroke="#5a5a5a" stroke-width="1"/>
<text x="373.50" y="323.40" font-size="10.8" text-anchor="end" fill="#1e1e1e" textLength="13.4" lengthAdjust="spacingAndGlyphs">20</text>
<line x1="374.30" y1="305.30" x2="377.80" y2="305.30" stroke="#5a5a5a" stroke-width="1"/>
<text x="373.50" y="309.20" font-size="10.8" text-anchor="end" fill="#1e1e1e" textLength="13.4" lengthAdjust="spacingAndGlyphs">40</text>
<line x1="374.30" y1="291.10" x2="377.80" y2="291.10" stroke="#5a5a5a" stroke-width="1"/>
<text x="373.50" y="295.00" font-size="10.8" text-anchor="end" fill="#1e1e1e" textLength="13.4" lengthAdjust="spacingAndGlyphs">60</text>
<line x1="374.30" y1="276.90" x2="377.80" y2="276.90" stroke="#5a5a5a" stroke-width="1"/>
<text x="373.50" y="280.80" font-size="10.8" text-anchor="end" fill="#1e1e1e" textLength="13.4" lengthAdjust="spacingAndGlyphs">80</text>
<line x1="374.30" y1="262.70" x2="377.80" y2="262.70" stroke="#5a5a5a" stroke-width="1"/>
<text x="373.50" y="266.60" font-size="10.8" text-anchor="end" fill="#1e1e1e" textLength="20.1" lengthAdjust="spacingAndGlyphs">100</text>
<text x="396.50" y="241.70" font-size="9.6" text-anchor="middle" fill="#1e1e1e">CD127</text>
<path d="M387.80 259.8V257.6H414.00V259.8" fill="none" stroke="#444" stroke-width="0.8"/>
<text x="400.85" y="256.80" font-size="8.4" text-anchor="middle" fill="#222" font-weight="bold">***</text>
<path d="M388.55 264.83a1.4 1.4 0 1 0 2.8 0a1.4 1.4 0 1 0 -2.8 0M391.64 265.54a1.4 1.4 0 1 0 2.8 0a1.4 1.4 0 1 0 -2.8 0M384.71 266.25a1.4 1.4 0 1 0 2.8 0a1.4 1.4 0 1 0 -2.8 0M394.59 266.96a1.4 1.4 0 1 0 2.8 0a1.4 1.4 0 1 0 -2.8 0M388.88 267.67a1.4 1.4 0 1 0 2.8 0a1.4 1.4 0 1 0 -2.8 0M391.92 268.38a1.4 1.4 0 1 0 2.8 0a1.4 1.4 0 1 0 -2.8 0M384.22 269.09a1.4 1.4 0 1 0 2.8 0a1.4 1.4 0 1 0 -2.8 0M387.02 269.80a1.4 1.4 0 1 0 2.8 0a1.4 1.4 0 1 0 -2.8 0M390.07 270.51a1.4 1.4 0 1 0 2.8 0a1.4 1.4 0 1 0 -2.8 0M392.87 271.22a1.4 1.4 0 1 0 2.8 0a1.4 1.4 0 1 0 -2.8 0M385.11 271.93a1.4 1.4 0 1 0 2.8 0a1.4 1.4 0 1 0 -2.8 0M395.65 272.64a1.4 1.4 0 1 0 2.8 0a1.4 1.4 0 1 0 -2.8 0M390.29 273.35a1.4 1.4 0 1 0 2.8 0a1.4 1.4 0 1 0 -2.8 0M387.24 274.06a1.4 1.4 0 1 0 2.8 0a1.4 1.4 0 1 0 -2.8 0M384.15 274.77a1.4 1.4 0 1 0 2.8 0a1.4 1.4 0 1 0 -2.8 0M392.18 275.48a1.4 1.4 0 1 0 2.8 0a1.4 1.4 0 1 0 -2.8 0M395.48 276.19a1.4 1.4 0 1 0 2.8 0a1.4 1.4 0 1 0 -2.8 0M388.07 276.90a1.4 1.4 0 1 0 2.8 0a1.4 1.4 0 1 0 -2.8 0M384.48 277.61a1.4 1.4 0 1 0 2.8 0a1.4 1.4 0 1 0 -2.8 0M392.72 278.32a1.4 1.4 0 1 0 2.8 0a1.4 1.4 0 1 0 -2.8 0M395.70 279.03a1.4 1.4 0 1 0 2.8 0a1.4 1.4 0 1 0 -2.8 0M390.12 279.74a1.4 1.4 0 1 0 2.8 0a1.4 1.4 0 1 0 -2.8 0M386.98 280.45a1.4 1.4 0 1 0 2.8 0a1.4 1.4 0 1 0 -2.8 0M383.72 281.16a1.4 1.4 0 1 0 2.8 0a1.4 1.4 0 1 0 -2.8 0M392.75 281.87a1.4 1.4 0 1 0 2.8 0a1.4 1.4 0 1 0 -2.8 0M389.46 282.58a1.4 1.4 0 1 0 2.8 0a1.4 1.4 0 1 0 -2.8 0M386.65 284.00a1.4 1.4 0 1 0 2.8 0a1.4 1.4 0 1 0 -2.8 0M391.30 285.42a1.4 1.4 0 1 0 2.8 0a1.4 1.4 0 1 0 -2.8 0M385.41 286.84a1.4 1.4 0 1 0 2.8 0a1.4 1.4 0 1 0 -2.8 0M389.44 287.55a1.4 1.4 0 1 0 2.8 0a1.4 1.4 0 1 0 -2.8 0M392.86 288.97a1.4 1.4 0 1 0 2.8 0a1.4 1.4 0 1 0 -2.8 0M387.70 291.10a1.4 1.4 0 1 0 2.8 0a1.4 1.4 0 1 0 -2.8 0M391.93 293.23a1.4 1.4 0 1 0 2.8 0a1.4 1.4 0 1 0 -2.8 0M385.98 294.65a1.4 1.4 0 1 0 2.8 0a1.4 1.4 0 1 0 -2.8 0M389.55 296.07a1.4 1.4 0 1 0 2.8 0a1.4 1.4 0 1 0 -2.8 0M392.08 297.49a1.4 1.4 0 1 0 2.8 0a1.4 1.4 0 1 0 -2.8 0M386.63 298.20a1.4 1.4 0 1 0 2.8 0a1.4 1.4 0 1 0 -2.8 0M389.54 299.62a1.4 1.4 0 1 0 2.8 0a1.4 1.4 0 1 0 -2.8 0" fill="#111"/>
<path d="M410.40 276.19a1.4 1.4 0 1 0 2.8 0a1.4 1.4 0 1 0 -2.8 0M413.68 280.45a1.4 1.4 0 1 0 2.8 0a1.4 1.4 0 1 0 -2.8 0M408.61 284.00a1.4 1.4 0 1 0 2.8 0a1.4 1.4 0 1 0 -2.8 0M415.77 289.68a1.4 1.4 0 1 0 2.8 0a1.4 1.4 0 1 0 -2.8 0M413.49 292.52a1.4 1.4 0 1 0 2.8 0a1.4 1.4 0 1 0 -2.8 0M409.29 293.23a1.4 1.4 0 1 0 2.8 0a1.4 1.4 0 1 0 -2.8 0M415.70 294.65a1.4 1.4 0 1 0 2.8 0a1.4 1.4 0 1 0 -2.8 0M411.32 296.78a1.4 1.4 0 1 0 2.8 0a1.4 1.4 0 1 0 -2.8 0M415.58 298.20a1.4 1.4 0 1 0 2.8 0a1.4 1.4 0 1 0 -2.8 0M408.66 298.91a1.4 1.4 0 1 0 2.8 0a1.4 1.4 0 1 0 -2.8 0M412.74 300.33a1.4 1.4 0 1 0 2.8 0a1.4 1.4 0 1 0 -2.8 0M409.10 301.75a1.4 1.4 0 1 0 2.8 0a1.4 1.4 0 1 0 -2.8 0M415.91 302.46a1.4 1.4 0 1 0 2.8 0a1.4 1.4 0 1 0 -2.8 0M412.67 303.88a1.4 1.4 0 1 0 2.8 0a1.4 1.4 0 1 0 -2.8 0M408.66 305.30a1.4 1.4 0 1 0 2.8 0a1.4 1.4 0 1 0 -2.8 0M415.68 306.01a1.4 1.4 0 1 0 2.8 0a1.4 1.4 0 1 0 -2.8 0M411.89 306.72a1.4 1.4 0 1 0 2.8 0a1.4 1.4 0 1 0 -2.8 0M405.71 307.43a1.4 1.4 0 1 0 2.8 0a1.4 1.4 0 1 0 -2.8 0M418.16 308.14a1.4 1.4 0 1 0 2.8 0a1.4 1.4 0 1 0 -2.8 0M415.40 308.85a1.4 1.4 0 1 0 2.8 0a1.4 1.4 0 1 0 -2.8 0M408.75 309.56a1.4 1.4 0 1 0 2.8 0a1.4 1.4 0 1 0 -2.8 0M411.99 310.27a1.4 1.4 0 1 0 2.8 0a1.4 1.4 0 1 0 -2.8 0M406.16 310.98a1.4 1.4 0 1 0 2.8 0a1.4 1.4 0 1 0 -2.8 0M415.76 311.69a1.4 1.4 0 1 0 2.8 0a1.4 1.4 0 1 0 -2.8 0M408.99 312.40a1.4 1.4 0 1 0 2.8 0a1.4 1.4 0 1 0 -2.8 0M411.77 313.11a1.4 1.4 0 1 0 2.8 0a1.4 1.4 0 1 0 -2.8 0M406.53 313.82a1.4 1.4 0 1 0 2.8 0a1.4 1.4 0 1 0 -2.8 0M415.11 314.53a1.4 1.4 0 1 0 2.8 0a1.4 1.4 0 1 0 -2.8 0M409.09 315.24a1.4 1.4 0 1 0 2.8 0a1.4 1.4 0 1 0 -2.8 0M412.30 315.95a1.4 1.4 0 1 0 2.8 0a1.4 1.4 0 1 0 -2.8 0M406.52 316.66a1.4 1.4 0 1 0 2.8 0a1.4 1.4 0 1 0 -2.8 0M414.97 317.37a1.4 1.4 0 1 0 2.8 0a1.4 1.4 0 1 0 -2.8 0M409.74 318.08a1.4 1.4 0 1 0 2.8 0a1.4 1.4 0 1 0 -2.8 0M418.52 318.79a1.4 1.4 0 1 0 2.8 0a1.4 1.4 0 1 0 -2.8 0M406.27 319.50a1.4 1.4 0 1 0 2.8 0a1.4 1.4 0 1 0 -2.8 0M414.27 320.21a1.4 1.4 0 1 0 2.8 0a1.4 1.4 0 1 0 -2.8 0M411.18 320.92a1.4 1.4 0 1 0 2.8 0a1.4 1.4 0 1 0 -2.8 0M416.78 321.63a1.4 1.4 0 1 0 2.8 0a1.4 1.4 0 1 0 -2.8 0M408.06 322.34a1.4 1.4 0 1 0 2.8 0a1.4 1.4 0 1 0 -2.8 0M413.16 323.05a1.4 1.4 0 1 0 2.8 0a1.4 1.4 0 1 0 -2.8 0M418.87 323.76a1.4 1.4 0 1 0 2.8 0a1.4 1.4 0 1 0 -2.8 0M410.55 324.47a1.4 1.4 0 1 0 2.8 0a1.4 1.4 0 1 0 -2.8 0M415.45 325.18a1.4 1.4 0 1 0 2.8 0a1.4 1.4 0 1 0 -2.8 0M406.86 325.89a1.4 1.4 0 1 0 2.8 0a1.4 1.4 0 1 0 -2.8 0M412.73 326.60a1.4 1.4 0 1 0 2.8 0a1.4 1.4 0 1 0 -2.8 0M410.18 328.02a1.4 1.4 0 1 0 2.8 0a1.4 1.4 0 1 0 -2.8 0M410.99 332.28a1.4 1.4 0 1 0 2.8 0a1.4 1.4 0 1 0 -2.8 0" fill="#111"/>
<rect x="382.00" y="274.89" width="15.60" height="2.60" fill="#e8473f"/>
<rect x="405.70" y="307.55" width="15.60" height="2.60" fill="#e8473f"/>
<text x="391.80" y="341.50" font-size="9.8" text-anchor="end" fill="#1e1e1e" transform="rotate(-45 391.8 341.5)">KIR-</text>
<text x="414.10" y="342.90" font-size="9.8" text-anchor="end" fill="#1e1e1e" transform="rotate(-45 414.1 342.9)">KIR+</text>
<line x1="459.80" y1="262.70" x2="459.80" y2="333.70" stroke="#5a5a5a" stroke-width="1"/>
<line x1="459.80" y1="333.70" x2="505.80" y2="333.70" stroke="#5a5a5a" stroke-width="1"/>
<line x1="456.30" y1="333.70" x2="459.80" y2="333.70" stroke="#5a5a5a" stroke-width="1"/>
<text x="455.50" y="337.60" font-size="10.8" text-anchor="end" fill="#1e1e1e" textLength="6.7" lengthAdjust="spacingAndGlyphs">0</text>
<line x1="456.30" y1="319.50" x2="459.80" y2="319.50" stroke="#5a5a5a" stroke-width="1"/>
<text x="455.50" y="323.40" font-size="10.8" text-anchor="end" fill="#1e1e1e" textLength="13.4" lengthAdjust="spacingAndGlyphs">20</text>
<line x1="456.30" y1="305.30" x2="459.80" y2="305.30" stroke="#5a5a5a" stroke-width="1"/>
<text x="455.50" y="309.20" font-size="10.8" text-anchor="end" fill="#1e1e1e" textLength="13.4" lengthAdjust="spacingAndGlyphs">40</text>
<line x1="456.30" y1="291.10" x2="459.80" y2="291.10" stroke="#5a5a5a" stroke-width="1"/>
<text x="455.50" y="295.00" font-size="10.8" text-anchor="end" fill="#1e1e1e" textLength="13.4" lengthAdjust="spacingAndGlyphs">60</text>
<line x1="456.30" y1="276.90" x2="459.80" y2="276.90" stroke="#5a5a5a" stroke-width="1"/>
<text x="455.50" y="280.80" font-size="10.8" text-anchor="end" fill="#1e1e1e" textLength="13.4" lengthAdjust="spacingAndGlyphs">80</text>
<line x1="456.30" y1="262.70" x2="459.80" y2="262.70" stroke="#5a5a5a" stroke-width="1"/>
<text x="455.50" y="266.60" font-size="10.8" text-anchor="end" fill="#1e1e1e" textLength="20.1" lengthAdjust="spacingAndGlyphs">100</text>
<text x="478.50" y="241.70" font-size="9.6" text-anchor="middle" fill="#1e1e1e">CCR7</text>
<path d="M469.80 259.8V257.6H496.00V259.8" fill="none" stroke="#444" stroke-width="0.8"/>
<text x="482.85" y="256.80" font-size="8.4" text-anchor="middle" fill="#222" font-weight="bold">***</text>
<path d="M466.92 269.80a1.4 1.4 0 1 0 2.8 0a1.4 1.4 0 1 0 -2.8 0M468.04 282.58a1.4 1.4 0 1 0 2.8 0a1.4 1.4 0 1 0 -2.8 0M470.65 294.65a1.4 1.4 0 1 0 2.8 0a1.4 1.4 0 1 0 -2.8 0M466.35 294.65a1.4 1.4 0 1 0 2.8 0a1.4 1.4 0 1 0 -2.8 0M473.71 295.36a1.4 1.4 0 1 0 2.8 0a1.4 1.4 0 1 0 -2.8 0M463.35 296.07a1.4 1.4 0 1 0 2.8 0a1.4 1.4 0 1 0 -2.8 0M472.31 298.91a1.4 1.4 0 1 0 2.8 0a1.4 1.4 0 1 0 -2.8 0M466.47 299.62a1.4 1.4 0 1 0 2.8 0a1.4 1.4 0 1 0 -2.8 0M471.46 305.30a1.4 1.4 0 1 0 2.8 0a1.4 1.4 0 1 0 -2.8 0M471.99 316.66a1.4 1.4 0 1 0 2.8 0a1.4 1.4 0 1 0 -2.8 0M467.39 316.66a1.4 1.4 0 1 0 2.8 0a1.4 1.4 0 1 0 -2.8 0M475.24 317.37a1.4 1.4 0 1 0 2.8 0a1.4 1.4 0 1 0 -2.8 0M464.02 318.08a1.4 1.4 0 1 0 2.8 0a1.4 1.4 0 1 0 -2.8 0M472.98 319.50a1.4 1.4 0 1 0 2.8 0a1.4 1.4 0 1 0 -2.8 0M467.99 320.92a1.4 1.4 0 1 0 2.8 0a1.4 1.4 0 1 0 -2.8 0M470.85 321.63a1.4 1.4 0 1 0 2.8 0a1.4 1.4 0 1 0 -2.8 0M465.38 322.34a1.4 1.4 0 1 0 2.8 0a1.4 1.4 0 1 0 -2.8 0M474.84 323.05a1.4 1.4 0 1 0 2.8 0a1.4 1.4 0 1 0 -2.8 0M470.74 324.47a1.4 1.4 0 1 0 2.8 0a1.4 1.4 0 1 0 -2.8 0M467.38 325.18a1.4 1.4 0 1 0 2.8 0a1.4 1.4 0 1 0 -2.8 0M473.85 325.89a1.4 1.4 0 1 0 2.8 0a1.4 1.4 0 1 0 -2.8 0M477.86 326.60a1.4 1.4 0 1 0 2.8 0a1.4 1.4 0 1 0 -2.8 0M470.19 327.31a1.4 1.4 0 1 0 2.8 0a1.4 1.4 0 1 0 -2.8 0M466.95 328.02a1.4 1.4 0 1 0 2.8 0a1.4 1.4 0 1 0 -2.8 0M474.31 328.73a1.4 1.4 0 1 0 2.8 0a1.4 1.4 0 1 0 -2.8 0" fill="#111"/>
<path d="M496.00 271.93a1.4 1.4 0 1 0 2.8 0a1.4 1.4 0 1 0 -2.8 0M495.78 311.69a1.4 1.4 0 1 0 2.8 0a1.4 1.4 0 1 0 -2.8 0M492.15 312.40a1.4 1.4 0 1 0 2.8 0a1.4 1.4 0 1 0 -2.8 0M493.44 322.34a1.4 1.4 0 1 0 2.8 0a1.4 1.4 0 1 0 -2.8 0M497.51 323.05a1.4 1.4 0 1 0 2.8 0a1.4 1.4 0 1 0 -2.8 0M490.50 323.76a1.4 1.4 0 1 0 2.8 0a1.4 1.4 0 1 0 -2.8 0M495.01 325.18a1.4 1.4 0 1 0 2.8 0a1.4 1.4 0 1 0 -2.8 0M498.77 325.89a1.4 1.4 0 1 0 2.8 0a1.4 1.4 0 1 0 -2.8 0M491.66 326.60a1.4 1.4 0 1 0 2.8 0a1.4 1.4 0 1 0 -2.8 0M488.92 327.31a1.4 1.4 0 1 0 2.8 0a1.4 1.4 0 1 0 -2.8 0M501.51 327.31a1.4 1.4 0 1 0 2.8 0a1.4 1.4 0 1 0 -2.8 0M495.93 328.02a1.4 1.4 0 1 0 2.8 0a1.4 1.4 0 1 0 -2.8 0M493.45 328.02a1.4 1.4 0 1 0 2.8 0a1.4 1.4 0 1 0 -2.8 0M498.64 328.73a1.4 1.4 0 1 0 2.8 0a1.4 1.4 0 1 0 -2.8 0M490.71 328.73a1.4 1.4 0 1 0 2.8 0a1.4 1.4 0 1 0 -2.8 0M487.49 329.44a1.4 1.4 0 1 0 2.8 0a1.4 1.4 0 1 0 -2.8 0M500.96 329.44a1.4 1.4 0 1 0 2.8 0a1.4 1.4 0 1 0 -2.8 0M494.81 330.15a1.4 1.4 0 1 0 2.8 0a1.4 1.4 0 1 0 -2.8 0M492.49 330.15a1.4 1.4 0 1 0 2.8 0a1.4 1.4 0 1 0 -2.8 0M497.23 330.86a1.4 1.4 0 1 0 2.8 0a1.4 1.4 0 1 0 -2.8 0M489.87 331.57a1.4 1.4 0 1 0 2.8 0a1.4 1.4 0 1 0 -2.8 0M486.89 332.28a1.4 1.4 0 1 0 2.8 0a1.4 1.4 0 1 0 -2.8 0" fill="#111"/>
<rect x="464.00" y="309.68" width="15.60" height="2.60" fill="#e8473f"/>
<rect x="487.70" y="321.75" width="15.60" height="2.60" fill="#e8473f"/>
<text x="473.80" y="341.50" font-size="9.8" text-anchor="end" fill="#1e1e1e" transform="rotate(-45 473.8 341.5)">KIR-</text>
<text x="496.10" y="342.90" font-size="9.8" text-anchor="end" fill="#1e1e1e" transform="rotate(-45 496.1 342.9)">KIR+</text>
<text x="19.40" y="292.00" font-size="10" text-anchor="middle" fill="#1e1e1e" transform="rotate(-90 19.4 292)">Positive cells (%)</text>
<line x1="43.30" y1="382.80" x2="43.30" y2="471.30" stroke="#444" stroke-width="0.9"/>
<line x1="43.30" y1="471.30" x2="495.70" y2="471.30" stroke="#444" stroke-width="0.9"/>
<line x1="41.10" y1="471.30" x2="43.30" y2="471.30" stroke="#444" stroke-width="0.8"/>
<text x="39.70" y="473.70" font-size="6.6" text-anchor="end" fill="#1a1a1a">0</text>
<line x1="41.10" y1="449.35" x2="43.30" y2="449.35" stroke="#444" stroke-width="0.8"/>
<text x="39.70" y="451.75" font-size="6.6" text-anchor="end" fill="#1a1a1a">10</text>
<line x1="41.10" y1="427.40" x2="43.30" y2="427.40" stroke="#444" stroke-width="0.8"/>
<text x="39.70" y="429.80" font-size="6.6" text-anchor="end" fill="#1a1a1a">20</text>
<line x1="41.10" y1="405.45" x2="43.30" y2="405.45" stroke="#444" stroke-width="0.8"/>
<text x="39.70" y="407.85" font-size="6.6" text-anchor="end" fill="#1a1a1a">30</text>
<line x1="41.10" y1="383.50" x2="43.30" y2="383.50" stroke="#444" stroke-width="0.8"/>
<text x="39.70" y="385.90" font-size="6.6" text-anchor="end" fill="#1a1a1a">40</text>
<text x="26.60" y="420.00" font-size="10" text-anchor="middle" fill="#1e1e1e" transform="rotate(-90 26.6 420)">Distribution (%)</text>
<rect x="45.44" y="470.64" width="2.05" height="0.66" fill="#d97a38"/>
<rect x="47.44" y="470.86" width="2.05" height="0.44" fill="#4270bd"/>
<rect x="73.75" y="470.64" width="2.05" height="0.66" fill="#d97a38"/>
<rect x="80.82" y="468.01" width="2.05" height="3.29" fill="#d97a38"/>
<rect x="82.82" y="470.64" width="2.05" height="0.66" fill="#4270bd"/>
<rect x="87.90" y="460.76" width="2.05" height="10.54" fill="#d97a38"/>
<rect x="89.90" y="469.11" width="2.05" height="2.19" fill="#4270bd"/>
<rect x="94.98" y="461.42" width="2.05" height="9.88" fill="#d97a38"/>
<rect x="96.98" y="469.11" width="2.05" height="2.19" fill="#4270bd"/>
<rect x="130.36" y="470.86" width="2.05" height="0.44" fill="#d97a38"/>
<rect x="137.44" y="466.25" width="2.05" height="5.05" fill="#d97a38"/>
<rect x="139.44" y="469.54" width="2.05" height="1.76" fill="#4270bd"/>
<rect x="144.52" y="470.64" width="2.05" height="0.66" fill="#d97a38"/>
<rect x="146.52" y="470.86" width="2.05" height="0.44" fill="#4270bd"/>
<rect x="151.59" y="395.57" width="2.05" height="75.73" fill="#d97a38"/>
<rect x="153.59" y="458.79" width="2.05" height="12.51" fill="#4270bd"/>
<rect x="158.67" y="467.57" width="2.05" height="3.73" fill="#d97a38"/>
<rect x="160.67" y="427.40" width="2.05" height="43.90" fill="#4270bd"/>
<rect x="172.83" y="468.01" width="2.05" height="3.29" fill="#d97a38"/>
<rect x="174.83" y="459.01" width="2.05" height="12.29" fill="#4270bd"/>
<rect x="186.98" y="469.11" width="2.05" height="2.19" fill="#d97a38"/>
<rect x="188.98" y="466.91" width="2.05" height="4.39" fill="#4270bd"/>
<rect x="201.13" y="455.72" width="2.05" height="15.58" fill="#d97a38"/>
<rect x="203.13" y="462.52" width="2.05" height="8.78" fill="#4270bd"/>
<rect x="208.21" y="469.11" width="2.05" height="2.19" fill="#d97a38"/>
<rect x="210.21" y="470.64" width="2.05" height="0.66" fill="#4270bd"/>
<rect x="252.67" y="470.64" width="2.05" height="0.66" fill="#4270bd"/>
<rect x="257.75" y="469.11" width="2.05" height="2.19" fill="#d97a38"/>
<rect x="259.75" y="470.20" width="2.05" height="1.10" fill="#4270bd"/>
<rect x="264.83" y="451.11" width="2.05" height="20.19" fill="#d97a38"/>
<rect x="266.83" y="464.06" width="2.05" height="7.24" fill="#4270bd"/>
<rect x="286.06" y="470.20" width="2.05" height="1.10" fill="#d97a38"/>
<rect x="288.06" y="469.11" width="2.05" height="2.19" fill="#4270bd"/>
<rect x="307.29" y="470.64" width="2.05" height="0.66" fill="#d97a38"/>
<rect x="309.29" y="470.86" width="2.05" height="0.44" fill="#4270bd"/>
<rect x="314.37" y="466.25" width="2.05" height="5.05" fill="#d97a38"/>
<rect x="316.37" y="467.57" width="2.05" height="3.73" fill="#4270bd"/>
<rect x="321.44" y="467.57" width="2.05" height="3.73" fill="#d97a38"/>
<rect x="323.44" y="468.67" width="2.05" height="2.63" fill="#4270bd"/>
<rect x="363.90" y="470.64" width="2.05" height="0.66" fill="#d97a38"/>
<rect x="365.90" y="470.86" width="2.05" height="0.44" fill="#4270bd"/>
<rect x="370.98" y="470.86" width="2.05" height="0.44" fill="#d97a38"/>
<rect x="372.98" y="470.64" width="2.05" height="0.66" fill="#4270bd"/>
<rect x="378.06" y="455.94" width="2.05" height="15.36" fill="#d97a38"/>
<rect x="380.06" y="460.32" width="2.05" height="10.97" fill="#4270bd"/>
<rect x="385.14" y="468.89" width="2.05" height="2.41" fill="#d97a38"/>
<rect x="387.14" y="463.40" width="2.05" height="7.90" fill="#4270bd"/>
<rect x="399.29" y="463.62" width="2.05" height="7.68" fill="#d97a38"/>
<rect x="401.29" y="408.96" width="2.05" height="62.34" fill="#4270bd"/>
<rect x="415.44" y="470.20" width="2.05" height="1.10" fill="#4270bd"/>
<rect x="427.60" y="464.06" width="2.05" height="7.24" fill="#d97a38"/>
<rect x="429.60" y="457.69" width="2.05" height="13.61" fill="#4270bd"/>
<rect x="434.68" y="470.64" width="2.05" height="0.66" fill="#d97a38"/>
<rect x="436.68" y="470.20" width="2.05" height="1.10" fill="#4270bd"/>
<rect x="457.91" y="468.01" width="2.05" height="3.29" fill="#4270bd"/>
<rect x="486.21" y="468.67" width="2.05" height="2.63" fill="#4270bd"/>
<rect x="491.29" y="468.67" width="2.05" height="2.63" fill="#d97a38"/>
<rect x="493.29" y="468.01" width="2.05" height="3.29" fill="#4270bd"/>
<text x="42.30" y="479.90" font-size="6.6" text-anchor="end" fill="#1a1a1a" textLength="22" lengthAdjust="spacingAndGlyphs">CD45RA</text>
<text x="42.30" y="488.30" font-size="6.6" text-anchor="end" fill="#1a1a1a" textLength="14.4" lengthAdjust="spacingAndGlyphs">CD57</text>
<text x="42.30" y="496.70" font-size="6.6" text-anchor="end" fill="#1a1a1a" textLength="14.4" lengthAdjust="spacingAndGlyphs">CD27</text>
<text x="42.30" y="505.00" font-size="6.6" text-anchor="end" fill="#1a1a1a" textLength="14.4" lengthAdjust="spacingAndGlyphs">CD28</text>
<text x="42.30" y="513.30" font-size="6.6" text-anchor="end" fill="#1a1a1a" textLength="14.4" lengthAdjust="spacingAndGlyphs">CCR7</text>
<text x="42.30" y="521.40" font-size="6.6" text-anchor="end" fill="#1a1a1a" textLength="18.3" lengthAdjust="spacingAndGlyphs">CD127</text>
<path d="M44.94 477.60h4M46.94 475.60v4M44.94 486.00h4M46.94 484.00v4M44.94 494.40h4M46.94 492.40v4M44.94 502.70h4M46.94 500.70v4M44.94 511.00h4M46.94 509.00v4M44.94 519.10h4M46.94 517.10v4M52.02 477.60h4M54.02 475.60v4M52.02 486.00h4M54.02 484.00v4M52.02 494.40h4M54.02 492.40v4M52.02 502.70h4M54.02 500.70v4M52.02 511.00h4M54.02 509.00v4M59.09 477.60h4M61.09 475.60v4M59.09 486.00h4M61.09 484.00v4M59.09 494.40h4M61.09 492.40v4M59.09 502.70h4M61.09 500.70v4M59.09 519.10h4M61.09 517.10v4M66.17 477.60h4M68.17 475.60v4M66.17 486.00h4M68.17 484.00v4M66.17 494.40h4M68.17 492.40v4M66.17 502.70h4M68.17 500.70v4M73.25 477.60h4M75.25 475.60v4M73.25 486.00h4M75.25 484.00v4M73.25 494.40h4M75.25 492.40v4M73.25 511.00h4M75.25 509.00v4M73.25 519.10h4M75.25 517.10v4M80.32 477.60h4M82.32 475.60v4M80.32 486.00h4M82.32 484.00v4M80.32 494.40h4M82.32 492.40v4M80.32 511.00h4M82.32 509.00v4M87.40 477.60h4M89.40 475.60v4M87.40 486.00h4M89.40 484.00v4M87.40 494.40h4M89.40 492.40v4M87.40 519.10h4M89.40 517.10v4M94.48 477.60h4M96.48 475.60v4M94.48 486.00h4M96.48 484.00v4M94.48 494.40h4M96.48 492.40v4M101.56 477.60h4M103.56 475.60v4M101.56 486.00h4M103.56 484.00v4M101.56 502.70h4M103.56 500.70v4M101.56 511.00h4M103.56 509.00v4M101.56 519.10h4M103.56 517.10v4M108.63 477.60h4M110.63 475.60v4M108.63 486.00h4M110.63 484.00v4M108.63 502.70h4M110.63 500.70v4M108.63 511.00h4M110.63 509.00v4M115.71 477.60h4M117.71 475.60v4M115.71 486.00h4M117.71 484.00v4M115.71 502.70h4M117.71 500.70v4M115.71 519.10h4M117.71 517.10v4M122.79 477.60h4M124.79 475.60v4M122.79 486.00h4M124.79 484.00v4M122.79 502.70h4M124.79 500.70v4M129.86 477.60h4M131.86 475.60v4M129.86 486.00h4M131.86 484.00v4M129.86 511.00h4M131.86 509.00v4M129.86 519.10h4M131.86 517.10v4M136.94 477.60h4M138.94 475.60v4M136.94 486.00h4M138.94 484.00v4M136.94 511.00h4M138.94 509.00v4M144.02 477.60h4M146.02 475.60v4M144.02 486.00h4M146.02 484.00v4M144.02 519.10h4M146.02 517.10v4M151.09 477.60h4M153.09 475.60v4M151.09 486.00h4M153.09 484.00v4M158.17 477.60h4M160.17 475.60v4M158.17 494.40h4M160.17 492.40v4M158.17 502.70h4M160.17 500.70v4M158.17 511.00h4M160.17 509.00v4M158.17 519.10h4M160.17 517.10v4M165.25 477.60h4M167.25 475.60v4M165.25 494.40h4M167.25 492.40v4M165.25 502.70h4M167.25 500.70v4M165.25 511.00h4M167.25 509.00v4M172.33 477.60h4M174.33 475.60v4M172.33 494.40h4M174.33 492.40v4M172.33 502.70h4M174.33 500.70v4M172.33 519.10h4M174.33 517.10v4M179.40 477.60h4M181.40 475.60v4M179.40 494.40h4M181.40 492.40v4M179.40 502.70h4M181.40 500.70v4M186.48 477.60h4M188.48 475.60v4M186.48 494.40h4M188.48 492.40v4M186.48 511.00h4M188.48 509.00v4M186.48 519.10h4M188.48 517.10v4M193.56 477.60h4M195.56 475.60v4M193.56 494.40h4M195.56 492.40v4M193.56 511.00h4M195.56 509.00v4M200.63 477.60h4M202.63 475.60v4M200.63 494.40h4M202.63 492.40v4M200.63 519.10h4M202.63 517.10v4M207.71 477.60h4M209.71 475.60v4M207.71 494.40h4M209.71 492.40v4M214.79 477.60h4M216.79 475.60v4M214.79 502.70h4M216.79 500.70v4M214.79 511.00h4M216.79 509.00v4M214.79 519.10h4M216.79 517.10v4M221.87 477.60h4M223.87 475.60v4M221.87 502.70h4M223.87 500.70v4M221.87 511.00h4M223.87 509.00v4M228.94 477.60h4M230.94 475.60v4M228.94 502.70h4M230.94 500.70v4M228.94 519.10h4M230.94 517.10v4M236.02 477.60h4M238.02 475.60v4M236.02 502.70h4M238.02 500.70v4M243.10 477.60h4M245.10 475.60v4M243.10 511.00h4M245.10 509.00v4M243.10 519.10h4M245.10 517.10v4M250.17 477.60h4M252.17 475.60v4M250.17 511.00h4M252.17 509.00v4M257.25 477.60h4M259.25 475.60v4M257.25 519.10h4M259.25 517.10v4M264.33 477.60h4M266.33 475.60v4M271.40 486.00h4M273.40 484.00v4M271.40 494.40h4M273.40 492.40v4M271.40 502.70h4M273.40 500.70v4M271.40 511.00h4M273.40 509.00v4M271.40 519.10h4M273.40 517.10v4M278.48 486.00h4M280.48 484.00v4M278.48 494.40h4M280.48 492.40v4M278.48 502.70h4M280.48 500.70v4M278.48 511.00h4M280.48 509.00v4M285.56 486.00h4M287.56 484.00v4M285.56 494.40h4M287.56 492.40v4M285.56 502.70h4M287.56 500.70v4M285.56 519.10h4M287.56 517.10v4M292.63 486.00h4M294.63 484.00v4M292.63 494.40h4M294.63 492.40v4M292.63 502.70h4M294.63 500.70v4M299.71 486.00h4M301.71 484.00v4M299.71 494.40h4M301.71 492.40v4M299.71 511.00h4M301.71 509.00v4M299.71 519.10h4M301.71 517.10v4M306.79 486.00h4M308.79 484.00v4M306.79 494.40h4M308.79 492.40v4M306.79 511.00h4M308.79 509.00v4M313.87 486.00h4M315.87 484.00v4M313.87 494.40h4M315.87 492.40v4M313.87 519.10h4M315.87 517.10v4M320.94 486.00h4M322.94 484.00v4M320.94 494.40h4M322.94 492.40v4M328.02 486.00h4M330.02 484.00v4M328.02 502.70h4M330.02 500.70v4M328.02 511.00h4M330.02 509.00v4M328.02 519.10h4M330.02 517.10v4M335.10 486.00h4M337.10 484.00v4M335.10 502.70h4M337.10 500.70v4M335.10 511.00h4M337.10 509.00v4M342.17 486.00h4M344.17 484.00v4M342.17 502.70h4M344.17 500.70v4M342.17 519.10h4M344.17 517.10v4M349.25 486.00h4M351.25 484.00v4M349.25 502.70h4M351.25 500.70v4M356.33 486.00h4M358.33 484.00v4M356.33 511.00h4M358.33 509.00v4M356.33 519.10h4M358.33 517.10v4M363.40 486.00h4M365.40 484.00v4M363.40 511.00h4M365.40 509.00v4M370.48 486.00h4M372.48 484.00v4M370.48 519.10h4M372.48 517.10v4M377.56 486.00h4M379.56 484.00v4M384.64 494.40h4M386.64 492.40v4M384.64 502.70h4M386.64 500.70v4M384.64 511.00h4M386.64 509.00v4M384.64 519.10h4M386.64 517.10v4M391.71 494.40h4M393.71 492.40v4M391.71 502.70h4M393.71 500.70v4M391.71 511.00h4M393.71 509.00v4M398.79 494.40h4M400.79 492.40v4M398.79 502.70h4M400.79 500.70v4M398.79 519.10h4M400.79 517.10v4M405.87 494.40h4M407.87 492.40v4M405.87 502.70h4M407.87 500.70v4M412.94 494.40h4M414.94 492.40v4M412.94 511.00h4M414.94 509.00v4M412.94 519.10h4M414.94 517.10v4M420.02 494.40h4M422.02 492.40v4M420.02 511.00h4M422.02 509.00v4M427.10 494.40h4M429.10 492.40v4M427.10 519.10h4M429.10 517.10v4M434.18 494.40h4M436.18 492.40v4M441.25 502.70h4M443.25 500.70v4M441.25 511.00h4M443.25 509.00v4M441.25 519.10h4M443.25 517.10v4M448.33 502.70h4M450.33 500.70v4M448.33 511.00h4M450.33 509.00v4M455.41 502.70h4M457.41 500.70v4M455.41 519.10h4M457.41 517.10v4M462.48 502.70h4M464.48 500.70v4M469.56 511.00h4M471.56 509.00v4M469.56 519.10h4M471.56 517.10v4M476.64 511.00h4M478.64 509.00v4M483.71 519.10h4M485.71 517.10v4" stroke="#383838" stroke-width="1.05" fill="none"/>
<path d="M52.82 519.10h2.4M59.89 511.00h2.4M66.97 511.00h2.4M66.97 519.10h2.4M74.05 502.70h2.4M81.12 502.70h2.4M81.12 519.10h2.4M88.20 502.70h2.4M88.20 511.00h2.4M95.28 502.70h2.4M95.28 511.00h2.4M95.28 519.10h2.4M102.36 494.40h2.4M109.43 494.40h2.4M109.43 519.10h2.4M116.51 494.40h2.4M116.51 511.00h2.4M123.59 494.40h2.4M123.59 511.00h2.4M123.59 519.10h2.4M130.66 494.40h2.4M130.66 502.70h2.4M137.74 494.40h2.4M137.74 502.70h2.4M137.74 519.10h2.4M144.82 494.40h2.4M144.82 502.70h2.4M144.82 511.00h2.4M151.90 494.40h2.4M151.90 502.70h2.4M151.90 511.00h2.4M151.90 519.10h2.4M158.97 486.00h2.4M166.05 486.00h2.4M166.05 519.10h2.4M173.13 486.00h2.4M173.13 511.00h2.4M180.20 486.00h2.4M180.20 511.00h2.4M180.20 519.10h2.4M187.28 486.00h2.4M187.28 502.70h2.4M194.36 486.00h2.4M194.36 502.70h2.4M194.36 519.10h2.4M201.43 486.00h2.4M201.43 502.70h2.4M201.43 511.00h2.4M208.51 486.00h2.4M208.51 502.70h2.4M208.51 511.00h2.4M208.51 519.10h2.4M215.59 486.00h2.4M215.59 494.40h2.4M222.67 486.00h2.4M222.67 494.40h2.4M222.67 519.10h2.4M229.74 486.00h2.4M229.74 494.40h2.4M229.74 511.00h2.4M236.82 486.00h2.4M236.82 494.40h2.4M236.82 511.00h2.4M236.82 519.10h2.4M243.90 486.00h2.4M243.90 494.40h2.4M243.90 502.70h2.4M250.97 486.00h2.4M250.97 494.40h2.4M250.97 502.70h2.4M250.97 519.10h2.4M258.05 486.00h2.4M258.05 494.40h2.4M258.05 502.70h2.4M258.05 511.00h2.4M265.13 486.00h2.4M265.13 494.40h2.4M265.13 502.70h2.4M265.13 511.00h2.4M265.13 519.10h2.4M272.20 477.60h2.4M279.28 477.60h2.4M279.28 519.10h2.4M286.36 477.60h2.4M286.36 511.00h2.4M293.44 477.60h2.4M293.44 511.00h2.4M293.44 519.10h2.4M300.51 477.60h2.4M300.51 502.70h2.4M307.59 477.60h2.4M307.59 502.70h2.4M307.59 519.10h2.4M314.67 477.60h2.4M314.67 502.70h2.4M314.67 511.00h2.4M321.74 477.60h2.4M321.74 502.70h2.4M321.74 511.00h2.4M321.74 519.10h2.4M328.82 477.60h2.4M328.82 494.40h2.4M335.90 477.60h2.4M335.90 494.40h2.4M335.90 519.10h2.4M342.97 477.60h2.4M342.97 494.40h2.4M342.97 511.00h2.4M350.05 477.60h2.4M350.05 494.40h2.4M350.05 511.00h2.4M350.05 519.10h2.4M357.13 477.60h2.4M357.13 494.40h2.4M357.13 502.70h2.4M364.20 477.60h2.4M364.20 494.40h2.4M364.20 502.70h2.4M364.20 519.10h2.4M371.28 477.60h2.4M371.28 494.40h2.4M371.28 502.70h2.4M371.28 511.00h2.4M378.36 477.60h2.4M378.36 494.40h2.4M378.36 502.70h2.4M378.36 511.00h2.4M378.36 519.10h2.4M385.44 477.60h2.4M385.44 486.00h2.4M392.51 477.60h2.4M392.51 486.00h2.4M392.51 519.10h2.4M399.59 477.60h2.4M399.59 486.00h2.4M399.59 511.00h2.4M406.67 477.60h2.4M406.67 486.00h2.4M406.67 511.00h2.4M406.67 519.10h2.4M413.74 477.60h2.4M413.74 486.00h2.4M413.74 502.70h2.4M420.82 477.60h2.4M420.82 486.00h2.4M420.82 502.70h2.4M420.82 519.10h2.4M427.90 477.60h2.4M427.90 486.00h2.4M427.90 502.70h2.4M427.90 511.00h2.4M434.98 477.60h2.4M434.98 486.00h2.4M434.98 502.70h2.4M434.98 511.00h2.4M434.98 519.10h2.4M442.05 477.60h2.4M442.05 486.00h2.4M442.05 494.40h2.4M449.13 477.60h2.4M449.13 486.00h2.4M449.13 494.40h2.4M449.13 519.10h2.4M456.21 477.60h2.4M456.21 486.00h2.4M456.21 494.40h2.4M456.21 511.00h2.4M463.28 477.60h2.4M463.28 486.00h2.4M463.28 494.40h2.4M463.28 511.00h2.4M463.28 519.10h2.4M470.36 477.60h2.4M470.36 486.00h2.4M470.36 494.40h2.4M470.36 502.70h2.4M477.44 477.60h2.4M477.44 486.00h2.4M477.44 494.40h2.4M477.44 502.70h2.4M477.44 519.10h2.4M484.51 477.60h2.4M484.51 486.00h2.4M484.51 494.40h2.4M484.51 502.70h2.4M484.51 511.00h2.4M491.59 477.60h2.4M491.59 486.00h2.4M491.59 494.40h2.4M491.59 502.70h2.4M491.59 511.00h2.4M491.59 519.10h2.4" stroke="#505050" stroke-width="1" fill="none"/>
<rect x="150.30" y="385.70" width="7.40" height="138.60" fill="none" stroke="#1a1a1a" stroke-width="0.9"/>
<rect x="157.70" y="385.70" width="6.90" height="138.60" fill="none" stroke="#1a1a1a" stroke-width="0.9"/>
<rect x="397.30" y="385.70" width="7.20" height="138.60" fill="none" stroke="#1a1a1a" stroke-width="0.9"/>
<line x1="157.70" y1="385.70" x2="157.70" y2="524.30" stroke="#111" stroke-width="1.6"/>
<text x="153.70" y="385.60" font-size="8" text-anchor="middle" fill="#222" font-weight="bold">***</text>
<text x="162.20" y="380.40" font-size="8" text-anchor="middle" fill="#222" font-weight="bold">***</text>
<text x="400.70" y="386.20" font-size="8" text-anchor="middle" fill="#222" font-weight="bold">***</text>
<rect x="425.80" y="390.50" width="14.90" height="8.00" fill="#e5702a"/>
<rect x="425.80" y="400.90" width="14.90" height="7.90" fill="#3068c8"/>
<text x="443.00" y="397.80" font-size="9" text-anchor="start" fill="#1e1e1e">KIR+</text>
<text x="443.00" y="408.20" font-size="9" text-anchor="start" fill="#1e1e1e">KIR-</text>
<rect x="33.40" y="563.40" width="77.20" height="76.30" fill="none" stroke="#8a8a8a" stroke-width="0.8"/>
<line x1="31.90" y1="578.80" x2="33.40" y2="578.80" stroke="#999" stroke-width="0.6"/>
<text x="31.20" y="580.40" font-size="4.8" text-anchor="end" fill="#707070">10<tspan font-size="3.36" dy="-1.6">3</tspan></text>
<line x1="31.90" y1="596.80" x2="33.40" y2="596.80" stroke="#999" stroke-width="0.6"/>
<text x="31.20" y="598.40" font-size="4.8" text-anchor="end" fill="#707070">10<tspan font-size="3.36" dy="-1.6">2</tspan></text>
<line x1="31.90" y1="613.80" x2="33.40" y2="613.80" stroke="#999" stroke-width="0.6"/>
<text x="31.20" y="615.40" font-size="4.8" text-anchor="end" fill="#707070">10<tspan font-size="3.36" dy="-1.6">1</tspan></text>
<line x1="31.90" y1="633.90" x2="33.40" y2="633.90" stroke="#999" stroke-width="0.6"/>
<text x="31.20" y="635.50" font-size="4.8" text-anchor="end" fill="#707070">0</text>
<line x1="45.90" y1="639.70" x2="45.90" y2="641.20" stroke="#999" stroke-width="0.6"/>
<text x="45.90" y="645.90" font-size="4.8" text-anchor="middle" fill="#707070">0</text>
<line x1="55.40" y1="639.70" x2="55.40" y2="641.20" stroke="#999" stroke-width="0.6"/>
<text x="55.40" y="645.90" font-size="4.8" text-anchor="middle" fill="#707070">10<tspan font-size="3.36" dy="-1.6">1</tspan></text>
<line x1="75.40" y1="639.70" x2="75.40" y2="641.20" stroke="#999" stroke-width="0.6"/>
<text x="75.40" y="645.90" font-size="4.8" text-anchor="middle" fill="#707070">10<tspan font-size="3.36" dy="-1.6">2</tspan></text>
<line x1="92.90" y1="639.70" x2="92.90" y2="641.20" stroke="#999" stroke-width="0.6"/>
<text x="92.90" y="645.90" font-size="4.8" text-anchor="middle" fill="#707070">10<tspan font-size="3.36" dy="-1.6">3</tspan></text>
<line x1="109.40" y1="639.70" x2="109.40" y2="641.20" stroke="#999" stroke-width="0.6"/>
<text x="109.40" y="645.90" font-size="4.8" text-anchor="middle" fill="#707070">10<tspan font-size="3.36" dy="-1.6">4</tspan></text>
<line x1="38.83" y1="639.70" x2="38.83" y2="640.50" stroke="#bbb" stroke-width="0.4"/>
<line x1="44.26" y1="639.70" x2="44.26" y2="640.50" stroke="#bbb" stroke-width="0.4"/>
<line x1="49.69" y1="639.70" x2="49.69" y2="640.50" stroke="#bbb" stroke-width="0.4"/>
<line x1="55.11" y1="639.70" x2="55.11" y2="640.50" stroke="#bbb" stroke-width="0.4"/>
<line x1="60.54" y1="639.70" x2="60.54" y2="640.50" stroke="#bbb" stroke-width="0.4"/>
<line x1="65.97" y1="639.70" x2="65.97" y2="640.50" stroke="#bbb" stroke-width="0.4"/>
<line x1="71.40" y1="639.70" x2="71.40" y2="640.50" stroke="#bbb" stroke-width="0.4"/>
<line x1="76.83" y1="639.70" x2="76.83" y2="640.50" stroke="#bbb" stroke-width="0.4"/>
<line x1="82.26" y1="639.70" x2="82.26" y2="640.50" stroke="#bbb" stroke-width="0.4"/>
<line x1="87.69" y1="639.70" x2="87.69" y2="640.50" stroke="#bbb" stroke-width="0.4"/>
<line x1="93.11" y1="639.70" x2="93.11" y2="640.50" stroke="#bbb" stroke-width="0.4"/>
<line x1="98.54" y1="639.70" x2="98.54" y2="640.50" stroke="#bbb" stroke-width="0.4"/>
<line x1="103.97" y1="639.70" x2="103.97" y2="640.50" stroke="#bbb" stroke-width="0.4"/>
<text x="71.40" y="561.60" font-size="9.6" text-anchor="middle" fill="#1e1e1e">CD45RA-CD57-</text>
<ellipse cx="69.0" cy="599.0" rx="10.2" ry="7.2" fill="#c4c4c4" filter="url(#bl80)" opacity="0.85"/>
<ellipse cx="61.6" cy="593.9" rx="1.9" ry="1.9" fill="none" stroke="#555" stroke-width="0.5" opacity="0.85"/><ellipse cx="68.3" cy="590.9" rx="0.6" ry="1.3" fill="none" stroke="#555" stroke-width="0.5" opacity="0.85"/><ellipse cx="78.1" cy="596.6" rx="2.0" ry="0.8" fill="none" stroke="#555" stroke-width="0.5" opacity="0.85"/><ellipse cx="63.2" cy="599.8" rx="1.5" ry="1.4" fill="none" stroke="#555" stroke-width="0.5" opacity="0.85"/><ellipse cx="74.6" cy="599.3" rx="1.0" ry="1.9" fill="none" stroke="#555" stroke-width="0.5" opacity="0.85"/><ellipse cx="69.5" cy="595.6" rx="1.9" ry="0.8" fill="none" stroke="#555" stroke-width="0.5" opacity="0.85"/><ellipse cx="65.8" cy="597.0" rx="0.6" ry="1.8" fill="none" stroke="#555" stroke-width="0.5" opacity="0.85"/><ellipse cx="70.4" cy="602.8" rx="2.2" ry="1.8" fill="none" stroke="#555" stroke-width="0.5" opacity="0.85"/><ellipse cx="66.1" cy="607.1" rx="1.5" ry="1.5" fill="none" stroke="#555" stroke-width="0.5" opacity="0.85"/><ellipse cx="72.3" cy="606.9" rx="1.7" ry="2.0" fill="none" stroke="#555" stroke-width="0.5" opacity="0.85"/><ellipse cx="74.2" cy="596.1" rx="1.2" ry="0.8" fill="none" stroke="#555" stroke-width="0.5" opacity="0.85"/><ellipse cx="70.9" cy="600.7" rx="1.1" ry="1.4" fill="none" stroke="#555" stroke-width="0.5" opacity="0.85"/><ellipse cx="78.9" cy="599.1" rx="1.1" ry="1.0" fill="none" stroke="#555" stroke-width="0.5" opacity="0.85"/><ellipse cx="72.5" cy="593.6" rx="1.1" ry="1.3" fill="none" stroke="#555" stroke-width="0.5" opacity="0.85"/><ellipse cx="68.2" cy="597.1" rx="2.2" ry="0.6" fill="none" stroke="#555" stroke-width="0.5" opacity="0.85"/><ellipse cx="69.0" cy="591.2" rx="0.6" ry="1.7" fill="none" stroke="#555" stroke-width="0.5" opacity="0.85"/><ellipse cx="62.9" cy="603.8" rx="0.6" ry="0.7" fill="none" stroke="#555" stroke-width="0.5" opacity="0.85"/><ellipse cx="73.9" cy="606.5" rx="0.9" ry="1.7" fill="none" stroke="#555" stroke-width="0.5" opacity="0.85"/><ellipse cx="79.5" cy="595.5" rx="1.2" ry="1.1" fill="none" stroke="#555" stroke-width="0.5" opacity="0.85"/><ellipse cx="58.6" cy="597.8" rx="0.8" ry="1.6" fill="none" stroke="#555" stroke-width="0.5" opacity="0.85"/><ellipse cx="72.3" cy="591.5" rx="0.7" ry="1.9" fill="none" stroke="#555" stroke-width="0.5" opacity="0.85"/><ellipse cx="74.9" cy="601.7" rx="1.6" ry="1.9" fill="none" stroke="#555" stroke-width="0.5" opacity="0.85"/><ellipse cx="62.8" cy="605.9" rx="1.5" ry="1.0" fill="none" stroke="#555" stroke-width="0.5" opacity="0.85"/><ellipse cx="66.9" cy="602.3" rx="0.7" ry="0.8" fill="none" stroke="#555" stroke-width="0.5" opacity="0.85"/><ellipse cx="64.5" cy="591.1" rx="0.9" ry="0.7" fill="none" stroke="#555" stroke-width="0.5" opacity="0.85"/><ellipse cx="77.7" cy="598.5" rx="1.2" ry="0.9" fill="none" stroke="#555" stroke-width="0.5" opacity="0.85"/><ellipse cx="59.9" cy="594.7" rx="1.3" ry="1.2" fill="none" stroke="#555" stroke-width="0.5" opacity="0.85"/><ellipse cx="79.8" cy="601.8" rx="0.7" ry="1.3" fill="none" stroke="#555" stroke-width="0.5" opacity="0.85"/><ellipse cx="71.3" cy="596.4" rx="1.8" ry="1.9" fill="none" stroke="#555" stroke-width="0.5" opacity="0.85"/><ellipse cx="61.7" cy="593.5" rx="0.8" ry="1.2" fill="none" stroke="#555" stroke-width="0.5" opacity="0.85"/><ellipse cx="75.5" cy="605.3" rx="1.1" ry="1.2" fill="none" stroke="#555" stroke-width="0.5" opacity="0.85"/><ellipse cx="80.1" cy="599.0" rx="2.2" ry="1.2" fill="none" stroke="#555" stroke-width="0.5" opacity="0.85"/><ellipse cx="58.8" cy="599.5" rx="1.4" ry="1.0" fill="none" stroke="#555" stroke-width="0.5" opacity="0.85"/><ellipse cx="65.2" cy="600.8" rx="1.2" ry="2.0" fill="none" stroke="#555" stroke-width="0.5" opacity="0.85"/><ellipse cx="78.2" cy="597.3" rx="1.4" ry="1.1" fill="none" stroke="#555" stroke-width="0.5" opacity="0.85"/><ellipse cx="74.3" cy="601.4" rx="1.9" ry="1.8" fill="none" stroke="#555" stroke-width="0.5" opacity="0.85"/><ellipse cx="62.2" cy="604.8" rx="1.8" ry="1.6" fill="none" stroke="#555" stroke-width="0.5" opacity="0.85"/><ellipse cx="63.6" cy="592.6" rx="1.2" ry="1.6" fill="none" stroke="#555" stroke-width="0.5" opacity="0.85"/><ellipse cx="67.4" cy="604.8" rx="1.8" ry="1.6" fill="none" stroke="#555" stroke-width="0.5" opacity="0.85"/><ellipse cx="65.8" cy="607.0" rx="1.6" ry="1.4" fill="none" stroke="#555" stroke-width="0.5" opacity="0.85"/><ellipse cx="77.9" cy="599.5" rx="1.0" ry="1.5" fill="none" stroke="#555" stroke-width="0.5" opacity="0.85"/><ellipse cx="58.4" cy="600.8" rx="1.6" ry="1.7" fill="none" stroke="#555" stroke-width="0.5" opacity="0.85"/><ellipse cx="63.4" cy="604.6" rx="1.8" ry="1.8" fill="none" stroke="#555" stroke-width="0.5" opacity="0.85"/><ellipse cx="62.5" cy="605.3" rx="2.0" ry="1.6" fill="none" stroke="#555" stroke-width="0.5" opacity="0.85"/><ellipse cx="80.6" cy="597.8" rx="1.4" ry="1.3" fill="none" stroke="#555" stroke-width="0.5" opacity="0.85"/><ellipse cx="74.5" cy="605.7" rx="2.1" ry="1.3" fill="none" stroke="#555" stroke-width="0.5" opacity="0.85"/><ellipse cx="65.3" cy="592.3" rx="1.8" ry="0.8" fill="none" stroke="#555" stroke-width="0.5" opacity="0.85"/><ellipse cx="70.7" cy="592.6" rx="1.7" ry="1.2" fill="none" stroke="#555" stroke-width="0.5" opacity="0.85"/><ellipse cx="61.5" cy="593.8" rx="1.6" ry="1.6" fill="none" stroke="#555" stroke-width="0.5" opacity="0.85"/><ellipse cx="73.7" cy="599.6" rx="1.3" ry="1.5" fill="none" stroke="#555" stroke-width="0.5" opacity="0.85"/><ellipse cx="70.9" cy="605.9" rx="1.6" ry="0.7" fill="none" stroke="#555" stroke-width="0.5" opacity="0.85"/><ellipse cx="63.4" cy="599.7" rx="0.7" ry="0.8" fill="none" stroke="#555" stroke-width="0.5" opacity="0.85"/><ellipse cx="66.9" cy="602.3" rx="0.9" ry="0.6" fill="none" stroke="#555" stroke-width="0.5" opacity="0.85"/><ellipse cx="61.8" cy="600.1" rx="1.6" ry="1.4" fill="none" stroke="#555" stroke-width="0.5" opacity="0.85"/><ellipse cx="69.9" cy="607.1" rx="0.6" ry="1.2" fill="none" stroke="#555" stroke-width="0.5" opacity="0.85"/><ellipse cx="67.6" cy="604.4" rx="0.8" ry="1.8" fill="none" stroke="#555" stroke-width="0.5" opacity="0.85"/><ellipse cx="67.4" cy="600.1" rx="1.6" ry="0.7" fill="none" stroke="#555" stroke-width="0.5" opacity="0.85"/><ellipse cx="62.3" cy="597.6" rx="1.5" ry="1.9" fill="none" stroke="#555" stroke-width="0.5" opacity="0.85"/><ellipse cx="72.2" cy="594.0" rx="1.9" ry="1.5" fill="none" stroke="#555" stroke-width="0.5" opacity="0.85"/><ellipse cx="65.9" cy="601.3" rx="1.6" ry="1.4" fill="none" stroke="#555" stroke-width="0.5" opacity="0.85"/><ellipse cx="80.4" cy="596.8" rx="1.6" ry="1.1" fill="none" stroke="#555" stroke-width="0.5" opacity="0.85"/><ellipse cx="69.3" cy="598.8" rx="0.8" ry="1.4" fill="none" stroke="#555" stroke-width="0.5" opacity="0.85"/><ellipse cx="65.6" cy="596.9" rx="1.6" ry="1.8" fill="none" stroke="#555" stroke-width="0.5" opacity="0.85"/><ellipse cx="63.4" cy="602.9" rx="1.0" ry="1.0" fill="none" stroke="#555" stroke-width="0.5" opacity="0.85"/><ellipse cx="76.3" cy="598.1" rx="2.1" ry="1.9" fill="none" stroke="#555" stroke-width="0.5" opacity="0.85"/><ellipse cx="64.0" cy="596.5" rx="2.2" ry="1.3" fill="none" stroke="#555" stroke-width="0.5" opacity="0.85"/><ellipse cx="63.2" cy="601.4" rx="2.2" ry="1.3" fill="none" stroke="#555" stroke-width="0.5" opacity="0.85"/><ellipse cx="67.1" cy="604.7" rx="0.8" ry="1.5" fill="none" stroke="#555" stroke-width="0.5" opacity="0.85"/><ellipse cx="62.9" cy="600.6" rx="1.9" ry="1.8" fill="none" stroke="#555" stroke-width="0.5" opacity="0.85"/><ellipse cx="77.7" cy="599.5" rx="1.0" ry="1.9" fill="none" stroke="#555" stroke-width="0.5" opacity="0.85"/>
<g filter="url(#bl45)"><ellipse cx="49.20" cy="599.00" rx="8.20" ry="9.90" fill="#555"/><ellipse cx="49.20" cy="599.00" rx="7.30" ry="9.10" fill="#1c1c1c"/><ellipse cx="49.80" cy="599.20" rx="6.00" ry="8.00" fill="#7a7a7a"/><ellipse cx="49.50" cy="599.30" rx="4.80" ry="6.90" fill="#202020"/><ellipse cx="48.30" cy="599.80" rx="1.40" ry="4.60" fill="#e8e8e8"/></g>
<rect x="62.30" y="584.90" width="39.30" height="26.80" fill="none" stroke="#111" stroke-width="1.3"/>
<rect x="123.70" y="563.20" width="74.70" height="76.60" fill="none" stroke="#8a8a8a" stroke-width="0.8"/>
<line x1="122.20" y1="578.60" x2="123.70" y2="578.60" stroke="#999" stroke-width="0.6"/>
<text x="121.50" y="580.20" font-size="4.8" text-anchor="end" fill="#707070">10<tspan font-size="3.36" dy="-1.6">3</tspan></text>
<line x1="122.20" y1="596.60" x2="123.70" y2="596.60" stroke="#999" stroke-width="0.6"/>
<text x="121.50" y="598.20" font-size="4.8" text-anchor="end" fill="#707070">10<tspan font-size="3.36" dy="-1.6">2</tspan></text>
<line x1="122.20" y1="613.60" x2="123.70" y2="613.60" stroke="#999" stroke-width="0.6"/>
<text x="121.50" y="615.20" font-size="4.8" text-anchor="end" fill="#707070">10<tspan font-size="3.36" dy="-1.6">1</tspan></text>
<line x1="122.20" y1="633.70" x2="123.70" y2="633.70" stroke="#999" stroke-width="0.6"/>
<text x="121.50" y="635.30" font-size="4.8" text-anchor="end" fill="#707070">0</text>
<line x1="136.20" y1="639.80" x2="136.20" y2="641.30" stroke="#999" stroke-width="0.6"/>
<text x="136.20" y="646.00" font-size="4.8" text-anchor="middle" fill="#707070">0</text>
<line x1="145.70" y1="639.80" x2="145.70" y2="641.30" stroke="#999" stroke-width="0.6"/>
<text x="145.70" y="646.00" font-size="4.8" text-anchor="middle" fill="#707070">10<tspan font-size="3.36" dy="-1.6">1</tspan></text>
<line x1="165.70" y1="639.80" x2="165.70" y2="641.30" stroke="#999" stroke-width="0.6"/>
<text x="165.70" y="646.00" font-size="4.8" text-anchor="middle" fill="#707070">10<tspan font-size="3.36" dy="-1.6">2</tspan></text>
<line x1="183.20" y1="639.80" x2="183.20" y2="641.30" stroke="#999" stroke-width="0.6"/>
<text x="183.20" y="646.00" font-size="4.8" text-anchor="middle" fill="#707070">10<tspan font-size="3.36" dy="-1.6">3</tspan></text>
<line x1="199.70" y1="639.80" x2="199.70" y2="641.30" stroke="#999" stroke-width="0.6"/>
<text x="199.70" y="646.00" font-size="4.8" text-anchor="middle" fill="#707070">10<tspan font-size="3.36" dy="-1.6">4</tspan></text>
<line x1="129.13" y1="639.80" x2="129.13" y2="640.60" stroke="#bbb" stroke-width="0.4"/>
<line x1="134.56" y1="639.80" x2="134.56" y2="640.60" stroke="#bbb" stroke-width="0.4"/>
<line x1="139.99" y1="639.80" x2="139.99" y2="640.60" stroke="#bbb" stroke-width="0.4"/>
<line x1="145.41" y1="639.80" x2="145.41" y2="640.60" stroke="#bbb" stroke-width="0.4"/>
<line x1="150.84" y1="639.80" x2="150.84" y2="640.60" stroke="#bbb" stroke-width="0.4"/>
<line x1="156.27" y1="639.80" x2="156.27" y2="640.60" stroke="#bbb" stroke-width="0.4"/>
<line x1="161.70" y1="639.80" x2="161.70" y2="640.60" stroke="#bbb" stroke-width="0.4"/>
<line x1="167.13" y1="639.80" x2="167.13" y2="640.60" stroke="#bbb" stroke-width="0.4"/>
<line x1="172.56" y1="639.80" x2="172.56" y2="640.60" stroke="#bbb" stroke-width="0.4"/>
<line x1="177.99" y1="639.80" x2="177.99" y2="640.60" stroke="#bbb" stroke-width="0.4"/>
<line x1="183.41" y1="639.80" x2="183.41" y2="640.60" stroke="#bbb" stroke-width="0.4"/>
<line x1="188.84" y1="639.80" x2="188.84" y2="640.60" stroke="#bbb" stroke-width="0.4"/>
<line x1="194.27" y1="639.80" x2="194.27" y2="640.60" stroke="#bbb" stroke-width="0.4"/>
<text x="160.80" y="561.60" font-size="9.6" text-anchor="middle" fill="#1e1e1e">CD45RA-CD57+</text>
<ellipse cx="162.0" cy="600.0" rx="9.3" ry="7.2" fill="#d0d0d0" filter="url(#bl80)" opacity="0.85"/>
<ellipse cx="163.1" cy="595.9" rx="1.0" ry="0.8" fill="none" stroke="#555" stroke-width="0.5" opacity="0.85"/><ellipse cx="167.9" cy="599.7" rx="1.6" ry="1.3" fill="none" stroke="#555" stroke-width="0.5" opacity="0.85"/><ellipse cx="156.8" cy="594.8" rx="1.8" ry="0.8" fill="none" stroke="#555" stroke-width="0.5" opacity="0.85"/><ellipse cx="162.4" cy="595.3" rx="1.5" ry="1.1" fill="none" stroke="#555" stroke-width="0.5" opacity="0.85"/><ellipse cx="159.7" cy="605.9" rx="1.3" ry="1.1" fill="none" stroke="#555" stroke-width="0.5" opacity="0.85"/><ellipse cx="161.7" cy="593.5" rx="0.7" ry="1.0" fill="none" stroke="#555" stroke-width="0.5" opacity="0.85"/><ellipse cx="151.9" cy="602.2" rx="2.0" ry="1.4" fill="none" stroke="#555" stroke-width="0.5" opacity="0.85"/><ellipse cx="171.7" cy="600.7" rx="1.3" ry="1.4" fill="none" stroke="#555" stroke-width="0.5" opacity="0.85"/><ellipse cx="159.7" cy="593.5" rx="1.4" ry="1.9" fill="none" stroke="#555" stroke-width="0.5" opacity="0.85"/><ellipse cx="156.8" cy="603.5" rx="2.0" ry="0.9" fill="none" stroke="#555" stroke-width="0.5" opacity="0.85"/><ellipse cx="159.1" cy="607.4" rx="0.7" ry="1.8" fill="none" stroke="#555" stroke-width="0.5" opacity="0.85"/><ellipse cx="159.5" cy="594.7" rx="1.1" ry="1.7" fill="none" stroke="#555" stroke-width="0.5" opacity="0.85"/><ellipse cx="165.5" cy="598.3" rx="1.4" ry="1.4" fill="none" stroke="#555" stroke-width="0.5" opacity="0.85"/><ellipse cx="155.7" cy="600.1" rx="0.8" ry="1.4" fill="none" stroke="#555" stroke-width="0.5" opacity="0.85"/><ellipse cx="163.1" cy="597.9" rx="1.0" ry="1.7" fill="none" stroke="#555" stroke-width="0.5" opacity="0.85"/><ellipse cx="164.3" cy="593.3" rx="0.6" ry="1.6" fill="none" stroke="#555" stroke-width="0.5" opacity="0.85"/><ellipse cx="172.9" cy="598.9" rx="1.7" ry="0.7" fill="none" stroke="#555" stroke-width="0.5" opacity="0.85"/><ellipse cx="164.8" cy="596.7" rx="1.6" ry="1.9" fill="none" stroke="#555" stroke-width="0.5" opacity="0.85"/><ellipse cx="161.1" cy="597.0" rx="1.1" ry="1.9" fill="none" stroke="#555" stroke-width="0.5" opacity="0.85"/><ellipse cx="167.1" cy="605.4" rx="1.3" ry="0.8" fill="none" stroke="#555" stroke-width="0.5" opacity="0.85"/><ellipse cx="160.4" cy="598.8" rx="0.8" ry="1.1" fill="none" stroke="#555" stroke-width="0.5" opacity="0.85"/><ellipse cx="164.4" cy="600.9" rx="1.5" ry="1.6" fill="none" stroke="#555" stroke-width="0.5" opacity="0.85"/><ellipse cx="164.9" cy="597.8" rx="1.3" ry="1.0" fill="none" stroke="#555" stroke-width="0.5" opacity="0.85"/><ellipse cx="155.8" cy="596.5" rx="2.1" ry="1.1" fill="none" stroke="#555" stroke-width="0.5" opacity="0.85"/><ellipse cx="170.6" cy="602.4" rx="0.8" ry="1.5" fill="none" stroke="#555" stroke-width="0.5" opacity="0.85"/><ellipse cx="151.5" cy="599.7" rx="1.5" ry="1.5" fill="none" stroke="#555" stroke-width="0.5" opacity="0.85"/><ellipse cx="161.3" cy="606.3" rx="1.0" ry="1.7" fill="none" stroke="#555" stroke-width="0.5" opacity="0.85"/><ellipse cx="158.0" cy="599.7" rx="1.0" ry="1.1" fill="none" stroke="#555" stroke-width="0.5" opacity="0.85"/><ellipse cx="161.6" cy="596.4" rx="1.7" ry="1.5" fill="none" stroke="#555" stroke-width="0.5" opacity="0.85"/><ellipse cx="169.7" cy="603.5" rx="0.7" ry="0.8" fill="none" stroke="#555" stroke-width="0.5" opacity="0.85"/><ellipse cx="157.5" cy="597.7" rx="2.0" ry="1.3" fill="none" stroke="#555" stroke-width="0.5" opacity="0.85"/><ellipse cx="157.6" cy="606.8" rx="0.6" ry="1.6" fill="none" stroke="#555" stroke-width="0.5" opacity="0.85"/><ellipse cx="166.0" cy="601.1" rx="2.1" ry="1.6" fill="none" stroke="#555" stroke-width="0.5" opacity="0.85"/><ellipse cx="162.6" cy="602.9" rx="2.2" ry="1.5" fill="none" stroke="#555" stroke-width="0.5" opacity="0.85"/><ellipse cx="163.8" cy="597.1" rx="1.6" ry="1.1" fill="none" stroke="#555" stroke-width="0.5" opacity="0.85"/><ellipse cx="162.6" cy="604.9" rx="1.6" ry="1.1" fill="none" stroke="#555" stroke-width="0.5" opacity="0.85"/><ellipse cx="158.9" cy="602.1" rx="1.9" ry="1.5" fill="none" stroke="#555" stroke-width="0.5" opacity="0.85"/><ellipse cx="164.4" cy="594.7" rx="2.0" ry="1.3" fill="none" stroke="#555" stroke-width="0.5" opacity="0.85"/><ellipse cx="155.0" cy="596.5" rx="1.8" ry="1.2" fill="none" stroke="#555" stroke-width="0.5" opacity="0.85"/><ellipse cx="163.6" cy="600.9" rx="0.9" ry="0.7" fill="none" stroke="#555" stroke-width="0.5" opacity="0.85"/><ellipse cx="167.9" cy="596.2" rx="1.8" ry="0.6" fill="none" stroke="#555" stroke-width="0.5" opacity="0.85"/><ellipse cx="151.8" cy="601.5" rx="1.6" ry="1.2" fill="none" stroke="#555" stroke-width="0.5" opacity="0.85"/><ellipse cx="158.6" cy="600.6" rx="0.8" ry="0.8" fill="none" stroke="#555" stroke-width="0.5" opacity="0.85"/><ellipse cx="157.2" cy="603.7" rx="2.0" ry="0.8" fill="none" stroke="#555" stroke-width="0.5" opacity="0.85"/><ellipse cx="161.9" cy="604.5" rx="0.9" ry="1.0" fill="none" stroke="#555" stroke-width="0.5" opacity="0.85"/><ellipse cx="162.7" cy="605.9" rx="0.7" ry="1.9" fill="none" stroke="#555" stroke-width="0.5" opacity="0.85"/><ellipse cx="154.8" cy="606.0" rx="1.7" ry="1.5" fill="none" stroke="#555" stroke-width="0.5" opacity="0.85"/><ellipse cx="151.5" cy="601.5" rx="0.8" ry="1.5" fill="none" stroke="#555" stroke-width="0.5" opacity="0.85"/><ellipse cx="159.7" cy="606.7" rx="1.8" ry="0.8" fill="none" stroke="#555" stroke-width="0.5" opacity="0.85"/><ellipse cx="162.5" cy="601.3" rx="1.0" ry="0.7" fill="none" stroke="#555" stroke-width="0.5" opacity="0.85"/>
<g filter="url(#bl45)"><ellipse cx="138.30" cy="599.80" rx="12.20" ry="9.80" fill="#9a9a9a"/><ellipse cx="138.30" cy="599.30" rx="10.50" ry="8.60" fill="#707070"/><ellipse cx="138.30" cy="598.30" rx="7.50" ry="6.50" fill="#3a3a3a"/><ellipse cx="138.30" cy="597.00" rx="5.00" ry="3.80" fill="#151515"/><ellipse cx="138.30" cy="598.60" rx="2.20" ry="1.30" fill="#e0e0e0"/></g>
<g filter="url(#bl45)"><ellipse cx="162.30" cy="601.50" rx="6.20" ry="7.00" fill="#2a2a2a"/><ellipse cx="162.30" cy="601.50" rx="4.80" ry="5.80" fill="#bdbdbd"/><ellipse cx="162.60" cy="601.80" rx="3.60" ry="4.60" fill="#f8f8f8"/></g>
<rect x="151.30" y="584.90" width="38.90" height="26.80" fill="none" stroke="#111" stroke-width="1.3"/>
<rect x="211.20" y="563.60" width="76.10" height="75.50" fill="none" stroke="#8a8a8a" stroke-width="0.8"/>
<line x1="209.70" y1="579.00" x2="211.20" y2="579.00" stroke="#999" stroke-width="0.6"/>
<text x="209.00" y="580.60" font-size="4.8" text-anchor="end" fill="#707070">10<tspan font-size="3.36" dy="-1.6">3</tspan></text>
<line x1="209.70" y1="597.00" x2="211.20" y2="597.00" stroke="#999" stroke-width="0.6"/>
<text x="209.00" y="598.60" font-size="4.8" text-anchor="end" fill="#707070">10<tspan font-size="3.36" dy="-1.6">2</tspan></text>
<line x1="209.70" y1="614.00" x2="211.20" y2="614.00" stroke="#999" stroke-width="0.6"/>
<text x="209.00" y="615.60" font-size="4.8" text-anchor="end" fill="#707070">10<tspan font-size="3.36" dy="-1.6">1</tspan></text>
<line x1="209.70" y1="634.10" x2="211.20" y2="634.10" stroke="#999" stroke-width="0.6"/>
<text x="209.00" y="635.70" font-size="4.8" text-anchor="end" fill="#707070">0</text>
<line x1="223.70" y1="639.10" x2="223.70" y2="640.60" stroke="#999" stroke-width="0.6"/>
<text x="223.70" y="645.30" font-size="4.8" text-anchor="middle" fill="#707070">0</text>
<line x1="233.20" y1="639.10" x2="233.20" y2="640.60" stroke="#999" stroke-width="0.6"/>
<text x="233.20" y="645.30" font-size="4.8" text-anchor="middle" fill="#707070">10<tspan font-size="3.36" dy="-1.6">1</tspan></text>
<line x1="253.20" y1="639.10" x2="253.20" y2="640.60" stroke="#999" stroke-width="0.6"/>
<text x="253.20" y="645.30" font-size="4.8" text-anchor="middle" fill="#707070">10<tspan font-size="3.36" dy="-1.6">2</tspan></text>
<line x1="270.70" y1="639.10" x2="270.70" y2="640.60" stroke="#999" stroke-width="0.6"/>
<text x="270.70" y="645.30" font-size="4.8" text-anchor="middle" fill="#707070">10<tspan font-size="3.36" dy="-1.6">3</tspan></text>
<line x1="287.20" y1="639.10" x2="287.20" y2="640.60" stroke="#999" stroke-width="0.6"/>
<text x="287.20" y="645.30" font-size="4.8" text-anchor="middle" fill="#707070">10<tspan font-size="3.36" dy="-1.6">4</tspan></text>
<line x1="216.63" y1="639.10" x2="216.63" y2="639.90" stroke="#bbb" stroke-width="0.4"/>
<line x1="222.06" y1="639.10" x2="222.06" y2="639.90" stroke="#bbb" stroke-width="0.4"/>
<line x1="227.49" y1="639.10" x2="227.49" y2="639.90" stroke="#bbb" stroke-width="0.4"/>
<line x1="232.91" y1="639.10" x2="232.91" y2="639.90" stroke="#bbb" stroke-width="0.4"/>
<line x1="238.34" y1="639.10" x2="238.34" y2="639.90" stroke="#bbb" stroke-width="0.4"/>
<line x1="243.77" y1="639.10" x2="243.77" y2="639.90" stroke="#bbb" stroke-width="0.4"/>
<line x1="249.20" y1="639.10" x2="249.20" y2="639.90" stroke="#bbb" stroke-width="0.4"/>
<line x1="254.63" y1="639.10" x2="254.63" y2="639.90" stroke="#bbb" stroke-width="0.4"/>
<line x1="260.06" y1="639.10" x2="260.06" y2="639.90" stroke="#bbb" stroke-width="0.4"/>
<line x1="265.49" y1="639.10" x2="265.49" y2="639.90" stroke="#bbb" stroke-width="0.4"/>
<line x1="270.91" y1="639.10" x2="270.91" y2="639.90" stroke="#bbb" stroke-width="0.4"/>
<line x1="276.34" y1="639.10" x2="276.34" y2="639.90" stroke="#bbb" stroke-width="0.4"/>
<line x1="281.77" y1="639.10" x2="281.77" y2="639.90" stroke="#bbb" stroke-width="0.4"/>
<text x="248.90" y="561.60" font-size="9.6" text-anchor="middle" fill="#1e1e1e">CD45RA+CD57+</text>
<ellipse cx="252.0" cy="600.0" rx="10.2" ry="6.8" fill="#d8d8d8" filter="url(#bl80)" opacity="0.85"/>
<ellipse cx="242.4" cy="604.6" rx="1.2" ry="1.0" fill="none" stroke="#666" stroke-width="0.5" opacity="0.8"/><ellipse cx="245.7" cy="600.8" rx="1.8" ry="1.6" fill="none" stroke="#666" stroke-width="0.5" opacity="0.8"/><ellipse cx="255.0" cy="603.4" rx="1.7" ry="1.9" fill="none" stroke="#666" stroke-width="0.5" opacity="0.8"/><ellipse cx="247.2" cy="595.8" rx="2.2" ry="0.6" fill="none" stroke="#666" stroke-width="0.5" opacity="0.8"/><ellipse cx="261.8" cy="602.6" rx="1.3" ry="0.7" fill="none" stroke="#666" stroke-width="0.5" opacity="0.8"/><ellipse cx="240.6" cy="597.6" rx="1.4" ry="1.1" fill="none" stroke="#666" stroke-width="0.5" opacity="0.8"/><ellipse cx="254.7" cy="601.2" rx="2.0" ry="1.3" fill="none" stroke="#666" stroke-width="0.5" opacity="0.8"/><ellipse cx="254.6" cy="599.3" rx="1.0" ry="0.7" fill="none" stroke="#666" stroke-width="0.5" opacity="0.8"/><ellipse cx="249.6" cy="601.2" rx="1.0" ry="1.2" fill="none" stroke="#666" stroke-width="0.5" opacity="0.8"/><ellipse cx="251.1" cy="601.7" rx="0.7" ry="2.0" fill="none" stroke="#666" stroke-width="0.5" opacity="0.8"/><ellipse cx="255.7" cy="605.2" rx="1.2" ry="1.3" fill="none" stroke="#666" stroke-width="0.5" opacity="0.8"/><ellipse cx="257.8" cy="602.3" rx="0.8" ry="1.4" fill="none" stroke="#666" stroke-width="0.5" opacity="0.8"/><ellipse cx="260.2" cy="597.1" rx="2.0" ry="0.9" fill="none" stroke="#666" stroke-width="0.5" opacity="0.8"/><ellipse cx="260.8" cy="600.6" rx="1.4" ry="1.4" fill="none" stroke="#666" stroke-width="0.5" opacity="0.8"/><ellipse cx="245.2" cy="604.4" rx="1.8" ry="1.9" fill="none" stroke="#666" stroke-width="0.5" opacity="0.8"/><ellipse cx="249.2" cy="605.0" rx="1.9" ry="0.9" fill="none" stroke="#666" stroke-width="0.5" opacity="0.8"/><ellipse cx="257.0" cy="603.0" rx="0.7" ry="1.7" fill="none" stroke="#666" stroke-width="0.5" opacity="0.8"/><ellipse cx="254.8" cy="595.9" rx="0.8" ry="0.7" fill="none" stroke="#666" stroke-width="0.5" opacity="0.8"/><ellipse cx="252.1" cy="602.3" rx="1.3" ry="1.4" fill="none" stroke="#666" stroke-width="0.5" opacity="0.8"/><ellipse cx="252.1" cy="602.0" rx="1.7" ry="0.7" fill="none" stroke="#666" stroke-width="0.5" opacity="0.8"/><ellipse cx="254.0" cy="604.1" rx="1.2" ry="0.7" fill="none" stroke="#666" stroke-width="0.5" opacity="0.8"/><ellipse cx="246.1" cy="602.1" rx="1.8" ry="1.4" fill="none" stroke="#666" stroke-width="0.5" opacity="0.8"/><ellipse cx="259.7" cy="596.1" rx="1.8" ry="1.4" fill="none" stroke="#666" stroke-width="0.5" opacity="0.8"/><ellipse cx="241.9" cy="602.6" rx="1.6" ry="1.9" fill="none" stroke="#666" stroke-width="0.5" opacity="0.8"/><ellipse cx="250.6" cy="593.4" rx="1.0" ry="1.7" fill="none" stroke="#666" stroke-width="0.5" opacity="0.8"/><ellipse cx="248.8" cy="601.9" rx="0.7" ry="0.8" fill="none" stroke="#666" stroke-width="0.5" opacity="0.8"/><ellipse cx="251.2" cy="606.6" rx="1.1" ry="0.7" fill="none" stroke="#666" stroke-width="0.5" opacity="0.8"/><ellipse cx="252.8" cy="594.1" rx="0.6" ry="0.7" fill="none" stroke="#666" stroke-width="0.5" opacity="0.8"/><ellipse cx="256.9" cy="603.5" rx="2.0" ry="1.9" fill="none" stroke="#666" stroke-width="0.5" opacity="0.8"/><ellipse cx="247.6" cy="597.5" rx="1.3" ry="1.1" fill="none" stroke="#666" stroke-width="0.5" opacity="0.8"/><ellipse cx="251.4" cy="600.8" rx="1.5" ry="1.8" fill="none" stroke="#666" stroke-width="0.5" opacity="0.8"/><ellipse cx="251.5" cy="597.6" rx="1.4" ry="0.8" fill="none" stroke="#666" stroke-width="0.5" opacity="0.8"/><ellipse cx="250.0" cy="594.8" rx="2.1" ry="1.7" fill="none" stroke="#666" stroke-width="0.5" opacity="0.8"/><ellipse cx="257.0" cy="603.0" rx="2.1" ry="1.2" fill="none" stroke="#666" stroke-width="0.5" opacity="0.8"/><ellipse cx="244.7" cy="602.1" rx="1.8" ry="1.9" fill="none" stroke="#666" stroke-width="0.5" opacity="0.8"/>
<g filter="url(#bl45)"><ellipse cx="226.50" cy="599.50" rx="10.50" ry="8.80" fill="#a8a8a8"/><ellipse cx="226.50" cy="599.00" rx="9.00" ry="7.60" fill="#7a7a7a"/><ellipse cx="226.50" cy="597.70" rx="6.00" ry="5.00" fill="#404040"/><ellipse cx="226.50" cy="597.00" rx="3.50" ry="2.50" fill="#1a1a1a"/><ellipse cx="226.50" cy="598.50" rx="1.80" ry="1.00" fill="#dcdcdc"/></g>
<g filter="url(#bl45)"><ellipse cx="252.30" cy="600.30" rx="9.40" ry="8.60" fill="#8a8a8a"/><ellipse cx="252.30" cy="600.30" rx="7.60" ry="7.20" fill="#303030"/><ellipse cx="252.30" cy="600.30" rx="6.00" ry="6.30" fill="#111"/><ellipse cx="252.00" cy="600.80" rx="1.50" ry="3.80" fill="#e4e4e4"/></g>
<rect x="239.80" y="584.90" width="38.90" height="27.00" fill="none" stroke="#111" stroke-width="1.3"/>
<line x1="21.20" y1="652.40" x2="21.20" y2="586.60" stroke="#111" stroke-width="1.3"/>
<path d="M21.20 580.60 L18.50 588.10 L23.90 588.10 Z" fill="#111"/>
<line x1="20.55" y1="651.80" x2="91.30" y2="651.80" stroke="#111" stroke-width="1.3"/>
<path d="M97.30 651.80 L89.80 649.10 L89.80 654.50 Z" fill="#111"/>
<text x="16.80" y="618.30" font-size="10" text-anchor="middle" fill="#1e1e1e" transform="rotate(-90 16.8 618.3)">CD8</text>
<text x="39.10" y="663.20" font-size="10" text-anchor="start" fill="#1e1e1e">pan-KIR</text>
<line x1="362.30" y1="555.50" x2="362.30" y2="661.70" stroke="#5a5a5a" stroke-width="1"/>
<line x1="362.30" y1="661.70" x2="469.10" y2="661.70" stroke="#5a5a5a" stroke-width="1"/>
<line x1="358.80" y1="661.70" x2="362.30" y2="661.70" stroke="#5a5a5a" stroke-width="1"/>
<text x="358.40" y="665.60" font-size="10.8" text-anchor="end" fill="#1e1e1e" textLength="6.5" lengthAdjust="spacingAndGlyphs">0</text>
<line x1="358.80" y1="635.28" x2="362.30" y2="635.28" stroke="#5a5a5a" stroke-width="1"/>
<text x="358.40" y="639.18" font-size="10.8" text-anchor="end" fill="#1e1e1e" textLength="13.0" lengthAdjust="spacingAndGlyphs">20</text>
<line x1="358.80" y1="608.86" x2="362.30" y2="608.86" stroke="#5a5a5a" stroke-width="1"/>
<text x="358.40" y="612.76" font-size="10.8" text-anchor="end" fill="#1e1e1e" textLength="13.0" lengthAdjust="spacingAndGlyphs">40</text>
<line x1="358.80" y1="582.44" x2="362.30" y2="582.44" stroke="#5a5a5a" stroke-width="1"/>
<text x="358.40" y="586.34" font-size="10.8" text-anchor="end" fill="#1e1e1e" textLength="13.0" lengthAdjust="spacingAndGlyphs">60</text>
<line x1="358.80" y1="556.02" x2="362.30" y2="556.02" stroke="#5a5a5a" stroke-width="1"/>
<text x="358.40" y="559.92" font-size="10.8" text-anchor="end" fill="#1e1e1e" textLength="13.0" lengthAdjust="spacingAndGlyphs">80</text>
<text x="330.60" y="603.00" font-size="10" text-anchor="middle" fill="#1e1e1e" transform="rotate(-90 330.6 603)">pan-KIR</text>
<text x="340.40" y="601.30" font-size="10" text-anchor="middle" fill="#1e1e1e" transform="rotate(-90 340.4 601.3)">expression (%)</text>
<path d="M371.43 655.62a1.55 1.55 0 1 0 3.1 0a1.55 1.55 0 1 0 -3.1 0M374.87 656.02a1.55 1.55 0 1 0 3.1 0a1.55 1.55 0 1 0 -3.1 0M368.05 656.02a1.55 1.55 0 1 0 3.1 0a1.55 1.55 0 1 0 -3.1 0M377.60 656.55a1.55 1.55 0 1 0 3.1 0a1.55 1.55 0 1 0 -3.1 0M373.02 657.08a1.55 1.55 0 1 0 3.1 0a1.55 1.55 0 1 0 -3.1 0M369.84 657.60a1.55 1.55 0 1 0 3.1 0a1.55 1.55 0 1 0 -3.1 0M376.03 657.60a1.55 1.55 0 1 0 3.1 0a1.55 1.55 0 1 0 -3.1 0M371.57 658.27a1.55 1.55 0 1 0 3.1 0a1.55 1.55 0 1 0 -3.1 0M367.98 658.93a1.55 1.55 0 1 0 3.1 0a1.55 1.55 0 1 0 -3.1 0M377.88 658.93a1.55 1.55 0 1 0 3.1 0a1.55 1.55 0 1 0 -3.1 0M374.13 659.59a1.55 1.55 0 1 0 3.1 0a1.55 1.55 0 1 0 -3.1 0M370.11 660.25a1.55 1.55 0 1 0 3.1 0a1.55 1.55 0 1 0 -3.1 0M376.14 660.25a1.55 1.55 0 1 0 3.1 0a1.55 1.55 0 1 0 -3.1 0M372.57 660.91a1.55 1.55 0 1 0 3.1 0a1.55 1.55 0 1 0 -3.1 0" fill="#111"/>
<rect x="367.50" y="657.76" width="14.00" height="2.60" fill="#e8473f"/>
<path d="M393.93 611.50a1.55 1.55 0 1 0 3.1 0a1.55 1.55 0 1 0 -3.1 0M399.46 623.79a1.55 1.55 0 1 0 3.1 0a1.55 1.55 0 1 0 -3.1 0M394.60 625.37a1.55 1.55 0 1 0 3.1 0a1.55 1.55 0 1 0 -3.1 0M397.72 628.28a1.55 1.55 0 1 0 3.1 0a1.55 1.55 0 1 0 -3.1 0M393.12 628.28a1.55 1.55 0 1 0 3.1 0a1.55 1.55 0 1 0 -3.1 0M393.17 631.45a1.55 1.55 0 1 0 3.1 0a1.55 1.55 0 1 0 -3.1 0M399.02 634.22a1.55 1.55 0 1 0 3.1 0a1.55 1.55 0 1 0 -3.1 0M395.61 634.22a1.55 1.55 0 1 0 3.1 0a1.55 1.55 0 1 0 -3.1 0M395.43 637.66a1.55 1.55 0 1 0 3.1 0a1.55 1.55 0 1 0 -3.1 0M393.42 640.56a1.55 1.55 0 1 0 3.1 0a1.55 1.55 0 1 0 -3.1 0M396.70 640.56a1.55 1.55 0 1 0 3.1 0a1.55 1.55 0 1 0 -3.1 0M400.87 642.28a1.55 1.55 0 1 0 3.1 0a1.55 1.55 0 1 0 -3.1 0M390.07 642.28a1.55 1.55 0 1 0 3.1 0a1.55 1.55 0 1 0 -3.1 0M398.75 644.66a1.55 1.55 0 1 0 3.1 0a1.55 1.55 0 1 0 -3.1 0M394.71 644.66a1.55 1.55 0 1 0 3.1 0a1.55 1.55 0 1 0 -3.1 0M401.71 646.24a1.55 1.55 0 1 0 3.1 0a1.55 1.55 0 1 0 -3.1 0M391.85 646.24a1.55 1.55 0 1 0 3.1 0a1.55 1.55 0 1 0 -3.1 0M396.34 648.49a1.55 1.55 0 1 0 3.1 0a1.55 1.55 0 1 0 -3.1 0M399.56 648.49a1.55 1.55 0 1 0 3.1 0a1.55 1.55 0 1 0 -3.1 0M389.62 648.49a1.55 1.55 0 1 0 3.1 0a1.55 1.55 0 1 0 -3.1 0M393.54 651.92a1.55 1.55 0 1 0 3.1 0a1.55 1.55 0 1 0 -3.1 0M398.15 651.92a1.55 1.55 0 1 0 3.1 0a1.55 1.55 0 1 0 -3.1 0M401.27 651.92a1.55 1.55 0 1 0 3.1 0a1.55 1.55 0 1 0 -3.1 0M390.64 654.57a1.55 1.55 0 1 0 3.1 0a1.55 1.55 0 1 0 -3.1 0M396.42 654.57a1.55 1.55 0 1 0 3.1 0a1.55 1.55 0 1 0 -3.1 0M399.42 656.81a1.55 1.55 0 1 0 3.1 0a1.55 1.55 0 1 0 -3.1 0M394.24 656.81a1.55 1.55 0 1 0 3.1 0a1.55 1.55 0 1 0 -3.1 0M402.95 656.81a1.55 1.55 0 1 0 3.1 0a1.55 1.55 0 1 0 -3.1 0M397.04 659.19a1.55 1.55 0 1 0 3.1 0a1.55 1.55 0 1 0 -3.1 0M390.96 659.19a1.55 1.55 0 1 0 3.1 0a1.55 1.55 0 1 0 -3.1 0M394.32 660.78a1.55 1.55 0 1 0 3.1 0a1.55 1.55 0 1 0 -3.1 0" fill="#111"/>
<rect x="391.00" y="645.21" width="14.00" height="2.60" fill="#e8473f"/>
<path d="M418.13 562.23a1.55 1.55 0 1 0 3.1 0a1.55 1.55 0 1 0 -3.1 0M421.41 565.40a1.55 1.55 0 1 0 3.1 0a1.55 1.55 0 1 0 -3.1 0M418.06 565.40a1.55 1.55 0 1 0 3.1 0a1.55 1.55 0 1 0 -3.1 0M418.08 570.29a1.55 1.55 0 1 0 3.1 0a1.55 1.55 0 1 0 -3.1 0M416.37 581.38a1.55 1.55 0 1 0 3.1 0a1.55 1.55 0 1 0 -3.1 0M419.66 582.57a1.55 1.55 0 1 0 3.1 0a1.55 1.55 0 1 0 -3.1 0M417.70 585.08a1.55 1.55 0 1 0 3.1 0a1.55 1.55 0 1 0 -3.1 0M417.53 588.91a1.55 1.55 0 1 0 3.1 0a1.55 1.55 0 1 0 -3.1 0M420.73 590.37a1.55 1.55 0 1 0 3.1 0a1.55 1.55 0 1 0 -3.1 0M415.51 591.42a1.55 1.55 0 1 0 3.1 0a1.55 1.55 0 1 0 -3.1 0M419.91 597.37a1.55 1.55 0 1 0 3.1 0a1.55 1.55 0 1 0 -3.1 0M417.52 606.22a1.55 1.55 0 1 0 3.1 0a1.55 1.55 0 1 0 -3.1 0M420.75 606.88a1.55 1.55 0 1 0 3.1 0a1.55 1.55 0 1 0 -3.1 0M414.89 608.46a1.55 1.55 0 1 0 3.1 0a1.55 1.55 0 1 0 -3.1 0M419.59 612.29a1.55 1.55 0 1 0 3.1 0a1.55 1.55 0 1 0 -3.1 0M415.37 612.29a1.55 1.55 0 1 0 3.1 0a1.55 1.55 0 1 0 -3.1 0M415.96 616.26a1.55 1.55 0 1 0 3.1 0a1.55 1.55 0 1 0 -3.1 0M414.91 622.99a1.55 1.55 0 1 0 3.1 0a1.55 1.55 0 1 0 -3.1 0M418.08 627.75a1.55 1.55 0 1 0 3.1 0a1.55 1.55 0 1 0 -3.1 0M421.78 627.75a1.55 1.55 0 1 0 3.1 0a1.55 1.55 0 1 0 -3.1 0M413.59 629.20a1.55 1.55 0 1 0 3.1 0a1.55 1.55 0 1 0 -3.1 0M419.49 631.45a1.55 1.55 0 1 0 3.1 0a1.55 1.55 0 1 0 -3.1 0M419.11 637.26a1.55 1.55 0 1 0 3.1 0a1.55 1.55 0 1 0 -3.1 0M422.22 637.26a1.55 1.55 0 1 0 3.1 0a1.55 1.55 0 1 0 -3.1 0M412.57 637.26a1.55 1.55 0 1 0 3.1 0a1.55 1.55 0 1 0 -3.1 0M417.37 640.30a1.55 1.55 0 1 0 3.1 0a1.55 1.55 0 1 0 -3.1 0M414.34 642.28a1.55 1.55 0 1 0 3.1 0a1.55 1.55 0 1 0 -3.1 0M415.91 645.45a1.55 1.55 0 1 0 3.1 0a1.55 1.55 0 1 0 -3.1 0M421.27 645.45a1.55 1.55 0 1 0 3.1 0a1.55 1.55 0 1 0 -3.1 0M412.48 646.11a1.55 1.55 0 1 0 3.1 0a1.55 1.55 0 1 0 -3.1 0M415.24 649.15a1.55 1.55 0 1 0 3.1 0a1.55 1.55 0 1 0 -3.1 0M419.51 649.94a1.55 1.55 0 1 0 3.1 0a1.55 1.55 0 1 0 -3.1 0M423.24 651.53a1.55 1.55 0 1 0 3.1 0a1.55 1.55 0 1 0 -3.1 0M418.67 653.51a1.55 1.55 0 1 0 3.1 0a1.55 1.55 0 1 0 -3.1 0M414.66 653.51a1.55 1.55 0 1 0 3.1 0a1.55 1.55 0 1 0 -3.1 0" fill="#111"/>
<rect x="412.80" y="619.45" width="14.00" height="2.60" fill="#e8473f"/>
<path d="M455.09 611.24a1.55 1.55 0 1 0 3.1 0a1.55 1.55 0 1 0 -3.1 0M455.17 627.88a1.55 1.55 0 1 0 3.1 0a1.55 1.55 0 1 0 -3.1 0M458.65 629.34a1.55 1.55 0 1 0 3.1 0a1.55 1.55 0 1 0 -3.1 0M456.25 631.32a1.55 1.55 0 1 0 3.1 0a1.55 1.55 0 1 0 -3.1 0M454.97 636.87a1.55 1.55 0 1 0 3.1 0a1.55 1.55 0 1 0 -3.1 0M458.34 638.19a1.55 1.55 0 1 0 3.1 0a1.55 1.55 0 1 0 -3.1 0M458.44 642.68a1.55 1.55 0 1 0 3.1 0a1.55 1.55 0 1 0 -3.1 0M455.16 642.68a1.55 1.55 0 1 0 3.1 0a1.55 1.55 0 1 0 -3.1 0M456.31 647.17a1.55 1.55 0 1 0 3.1 0a1.55 1.55 0 1 0 -3.1 0M459.77 647.17a1.55 1.55 0 1 0 3.1 0a1.55 1.55 0 1 0 -3.1 0M454.25 649.81a1.55 1.55 0 1 0 3.1 0a1.55 1.55 0 1 0 -3.1 0M458.24 651.79a1.55 1.55 0 1 0 3.1 0a1.55 1.55 0 1 0 -3.1 0M455.57 654.17a1.55 1.55 0 1 0 3.1 0a1.55 1.55 0 1 0 -3.1 0M458.67 655.10a1.55 1.55 0 1 0 3.1 0a1.55 1.55 0 1 0 -3.1 0M452.33 655.76a1.55 1.55 0 1 0 3.1 0a1.55 1.55 0 1 0 -3.1 0M456.62 656.42a1.55 1.55 0 1 0 3.1 0a1.55 1.55 0 1 0 -3.1 0M460.30 657.74a1.55 1.55 0 1 0 3.1 0a1.55 1.55 0 1 0 -3.1 0M454.21 658.40a1.55 1.55 0 1 0 3.1 0a1.55 1.55 0 1 0 -3.1 0M457.61 659.06a1.55 1.55 0 1 0 3.1 0a1.55 1.55 0 1 0 -3.1 0M451.26 659.72a1.55 1.55 0 1 0 3.1 0a1.55 1.55 0 1 0 -3.1 0M460.83 660.38a1.55 1.55 0 1 0 3.1 0a1.55 1.55 0 1 0 -3.1 0M455.60 660.38a1.55 1.55 0 1 0 3.1 0a1.55 1.55 0 1 0 -3.1 0M453.28 661.04a1.55 1.55 0 1 0 3.1 0a1.55 1.55 0 1 0 -3.1 0" fill="#111"/>
<rect x="450.50" y="649.83" width="14.00" height="2.60" fill="#e8473f"/>
<path d="M375.5 551V548.9H420.9V551M395.5 558.2V556H420.9V558.2" fill="none" stroke="#444" stroke-width="0.8"/>
<text x="399.00" y="548.20" font-size="8.4" text-anchor="middle" fill="#222" font-weight="bold">***</text>
<text x="409.00" y="555.30" font-size="8.4" text-anchor="middle" fill="#222" font-weight="bold">***</text>
<text x="351.00" y="673.80" font-size="10" text-anchor="end" fill="#1e1e1e">CD45RA</text>
<text x="351.00" y="685.10" font-size="10" text-anchor="end" fill="#1e1e1e">CD57</text>
<text x="374.50" y="673.30" font-size="9" text-anchor="middle" fill="#333">-</text>
<text x="374.50" y="684.60" font-size="9" text-anchor="middle" fill="#333">-</text>
<text x="398.00" y="673.30" font-size="9" text-anchor="middle" fill="#333">-</text>
<text x="398.00" y="684.60" font-size="9" text-anchor="middle" fill="#333">+</text>
<text x="420.50" y="673.30" font-size="9" text-anchor="middle" fill="#333">+</text>
<text x="420.50" y="684.60" font-size="9" text-anchor="middle" fill="#333">+</text>
<text x="449.10" y="679.40" font-size="10" text-anchor="start" fill="#1e1e1e">Bulk</text>
</svg>
</body></html>
